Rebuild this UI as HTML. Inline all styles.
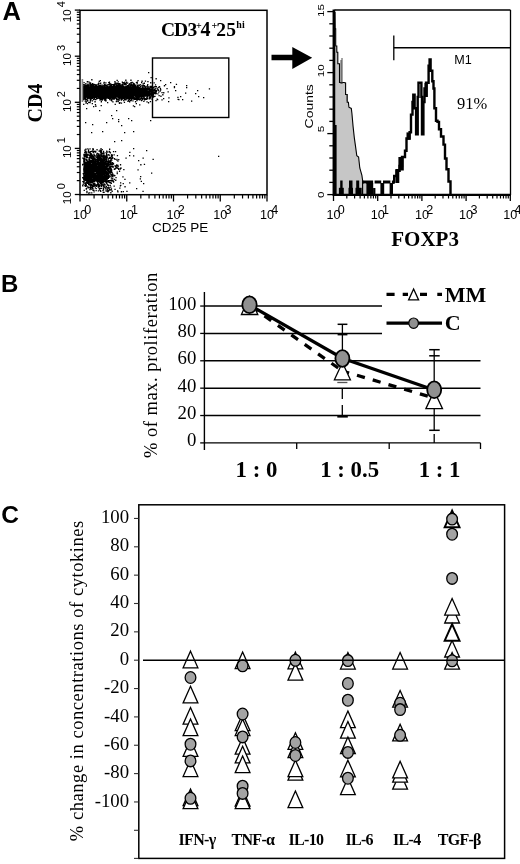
<!DOCTYPE html>
<html><head><meta charset="utf-8"><style>
html,body{margin:0;padding:0;background:#fff;}
svg{display:block;will-change:transform;}
</style></head><body>
<svg width="520" height="864" viewBox="0 0 520 864">
<rect width="520" height="864" fill="#fff"/>
<text x="2.5" y="19.6" font-family='"Liberation Sans", sans-serif' font-size="25.5" font-weight="bold" text-anchor="start" >A</text>
<text x="1.0" y="292.3" font-family='"Liberation Sans", sans-serif' font-size="24" font-weight="bold" text-anchor="start" >B</text>
<text x="1.2" y="522.6" font-family='"Liberation Sans", sans-serif' font-size="24.5" font-weight="bold" text-anchor="start" >C</text>
<path d="M104.9 98.0h1.3v1.3h-1.3zM98.4 91.8h1.3v1.3h-1.3zM102.3 93.0h1.3v1.3h-1.3zM90.9 95.7h1.3v1.3h-1.3zM88.8 87.2h1.3v1.3h-1.3zM91.6 93.3h1.3v1.3h-1.3zM112.4 85.9h1.3v1.3h-1.3zM87.0 98.5h1.3v1.3h-1.3zM135.8 87.8h1.3v1.3h-1.3zM90.1 93.6h1.3v1.3h-1.3zM121.5 92.6h1.3v1.3h-1.3zM83.3 94.4h1.3v1.3h-1.3zM100.7 101.1h1.3v1.3h-1.3zM122.9 89.4h1.3v1.3h-1.3zM82.2 98.1h1.3v1.3h-1.3zM124.4 88.8h1.3v1.3h-1.3zM91.8 94.4h1.3v1.3h-1.3zM130.7 93.5h1.3v1.3h-1.3zM113.8 91.2h1.3v1.3h-1.3zM110.8 88.8h1.3v1.3h-1.3zM121.0 94.3h1.3v1.3h-1.3zM94.8 85.7h1.3v1.3h-1.3zM130.0 92.7h1.3v1.3h-1.3zM112.5 97.6h1.3v1.3h-1.3zM92.2 87.8h1.3v1.3h-1.3zM134.7 89.1h1.3v1.3h-1.3zM84.3 96.6h1.3v1.3h-1.3zM127.8 100.1h1.3v1.3h-1.3zM90.3 92.0h1.3v1.3h-1.3zM90.6 95.8h1.3v1.3h-1.3zM99.8 96.7h1.3v1.3h-1.3zM86.3 93.1h1.3v1.3h-1.3zM136.7 96.9h1.3v1.3h-1.3zM124.5 88.4h1.3v1.3h-1.3zM102.2 88.8h1.3v1.3h-1.3zM108.4 86.0h1.3v1.3h-1.3zM85.4 89.2h1.3v1.3h-1.3zM115.6 89.2h1.3v1.3h-1.3zM105.1 93.7h1.3v1.3h-1.3zM124.3 90.7h1.3v1.3h-1.3zM120.4 90.0h1.3v1.3h-1.3zM91.1 90.9h1.3v1.3h-1.3zM135.2 91.7h1.3v1.3h-1.3zM97.9 93.5h1.3v1.3h-1.3zM111.5 91.1h1.3v1.3h-1.3zM82.2 91.4h1.3v1.3h-1.3zM109.3 93.3h1.3v1.3h-1.3zM125.9 95.9h1.3v1.3h-1.3zM87.3 87.8h1.3v1.3h-1.3zM125.5 91.3h1.3v1.3h-1.3zM134.5 89.1h1.3v1.3h-1.3zM130.3 92.7h1.3v1.3h-1.3zM83.5 89.7h1.3v1.3h-1.3zM91.8 94.5h1.3v1.3h-1.3zM119.4 88.7h1.3v1.3h-1.3zM104.7 91.1h1.3v1.3h-1.3zM120.1 90.8h1.3v1.3h-1.3zM107.3 92.6h1.3v1.3h-1.3zM92.7 89.7h1.3v1.3h-1.3zM89.4 89.8h1.3v1.3h-1.3zM131.2 90.0h1.3v1.3h-1.3zM111.6 94.0h1.3v1.3h-1.3zM120.1 88.4h1.3v1.3h-1.3zM96.3 85.8h1.3v1.3h-1.3zM105.5 88.6h1.3v1.3h-1.3zM113.6 94.6h1.3v1.3h-1.3zM116.6 94.5h1.3v1.3h-1.3zM121.0 92.8h1.3v1.3h-1.3zM83.9 91.3h1.3v1.3h-1.3zM104.1 86.0h1.3v1.3h-1.3zM106.7 90.9h1.3v1.3h-1.3zM108.4 97.2h1.3v1.3h-1.3zM96.6 94.6h1.3v1.3h-1.3zM132.7 92.0h1.3v1.3h-1.3zM119.2 85.6h1.3v1.3h-1.3zM83.7 85.5h1.3v1.3h-1.3zM115.1 92.8h1.3v1.3h-1.3zM92.0 94.7h1.3v1.3h-1.3zM101.2 96.0h1.3v1.3h-1.3zM128.5 88.1h1.3v1.3h-1.3zM86.2 89.4h1.3v1.3h-1.3zM84.2 97.3h1.3v1.3h-1.3zM92.4 97.1h1.3v1.3h-1.3zM94.8 94.6h1.3v1.3h-1.3zM105.3 93.1h1.3v1.3h-1.3zM110.3 91.6h1.3v1.3h-1.3zM125.5 89.7h1.3v1.3h-1.3zM84.2 94.0h1.3v1.3h-1.3zM87.5 92.8h1.3v1.3h-1.3zM113.3 93.3h1.3v1.3h-1.3zM101.7 94.3h1.3v1.3h-1.3zM129.1 91.0h1.3v1.3h-1.3zM87.0 87.0h1.3v1.3h-1.3zM118.2 90.6h1.3v1.3h-1.3zM104.6 85.3h1.3v1.3h-1.3zM90.3 90.5h1.3v1.3h-1.3zM111.2 86.1h1.3v1.3h-1.3zM91.0 88.1h1.3v1.3h-1.3zM104.8 96.6h1.3v1.3h-1.3zM129.7 92.2h1.3v1.3h-1.3zM101.4 93.5h1.3v1.3h-1.3zM82.9 86.6h1.3v1.3h-1.3zM107.9 94.4h1.3v1.3h-1.3zM126.0 92.3h1.3v1.3h-1.3zM88.9 90.3h1.3v1.3h-1.3zM88.0 90.9h1.3v1.3h-1.3zM134.4 93.2h1.3v1.3h-1.3zM133.7 92.7h1.3v1.3h-1.3zM99.0 91.7h1.3v1.3h-1.3zM109.5 93.0h1.3v1.3h-1.3zM85.2 91.9h1.3v1.3h-1.3zM123.0 93.9h1.3v1.3h-1.3zM90.9 89.2h1.3v1.3h-1.3zM136.7 90.0h1.3v1.3h-1.3zM136.5 98.2h1.3v1.3h-1.3zM112.5 87.9h1.3v1.3h-1.3zM133.2 90.1h1.3v1.3h-1.3zM122.3 89.8h1.3v1.3h-1.3zM128.7 93.7h1.3v1.3h-1.3zM125.1 91.6h1.3v1.3h-1.3zM124.2 89.7h1.3v1.3h-1.3zM96.6 90.7h1.3v1.3h-1.3zM95.0 93.9h1.3v1.3h-1.3zM102.4 91.1h1.3v1.3h-1.3zM119.9 89.0h1.3v1.3h-1.3zM117.8 87.5h1.3v1.3h-1.3zM129.6 92.9h1.3v1.3h-1.3zM83.7 90.5h1.3v1.3h-1.3zM132.2 94.3h1.3v1.3h-1.3zM104.0 89.6h1.3v1.3h-1.3zM119.7 89.9h1.3v1.3h-1.3zM95.7 92.2h1.3v1.3h-1.3zM98.7 89.4h1.3v1.3h-1.3zM122.1 90.5h1.3v1.3h-1.3zM135.3 87.9h1.3v1.3h-1.3zM117.0 94.5h1.3v1.3h-1.3zM125.9 88.5h1.3v1.3h-1.3zM121.6 88.3h1.3v1.3h-1.3zM83.3 98.5h1.3v1.3h-1.3zM120.2 88.6h1.3v1.3h-1.3zM93.1 90.8h1.3v1.3h-1.3zM103.9 90.8h1.3v1.3h-1.3zM93.8 88.9h1.3v1.3h-1.3zM87.1 90.4h1.3v1.3h-1.3zM125.7 91.4h1.3v1.3h-1.3zM82.9 95.9h1.3v1.3h-1.3zM113.0 92.9h1.3v1.3h-1.3zM100.1 85.4h1.3v1.3h-1.3zM89.1 89.1h1.3v1.3h-1.3zM97.7 89.5h1.3v1.3h-1.3zM93.6 87.2h1.3v1.3h-1.3zM104.1 94.7h1.3v1.3h-1.3zM117.6 90.5h1.3v1.3h-1.3zM113.4 85.0h1.3v1.3h-1.3zM136.5 87.0h1.3v1.3h-1.3zM118.2 91.3h1.3v1.3h-1.3zM135.4 89.0h1.3v1.3h-1.3zM90.7 83.8h1.3v1.3h-1.3zM105.2 89.7h1.3v1.3h-1.3zM127.7 85.9h1.3v1.3h-1.3zM96.6 90.0h1.3v1.3h-1.3zM103.6 94.8h1.3v1.3h-1.3zM87.1 87.5h1.3v1.3h-1.3zM122.7 94.7h1.3v1.3h-1.3zM94.6 87.1h1.3v1.3h-1.3zM90.6 87.3h1.3v1.3h-1.3zM82.8 94.3h1.3v1.3h-1.3zM132.2 95.9h1.3v1.3h-1.3zM103.3 89.5h1.3v1.3h-1.3zM99.4 96.0h1.3v1.3h-1.3zM84.2 91.5h1.3v1.3h-1.3zM107.2 96.2h1.3v1.3h-1.3zM101.1 89.9h1.3v1.3h-1.3zM124.2 92.6h1.3v1.3h-1.3zM102.6 89.7h1.3v1.3h-1.3zM131.5 87.1h1.3v1.3h-1.3zM125.8 94.0h1.3v1.3h-1.3zM82.6 94.3h1.3v1.3h-1.3zM123.5 92.6h1.3v1.3h-1.3zM94.4 101.1h1.3v1.3h-1.3zM110.0 84.8h1.3v1.3h-1.3zM114.7 91.8h1.3v1.3h-1.3zM130.5 90.7h1.3v1.3h-1.3zM92.2 92.9h1.3v1.3h-1.3zM84.5 90.0h1.3v1.3h-1.3zM123.5 86.2h1.3v1.3h-1.3zM124.9 92.3h1.3v1.3h-1.3zM118.2 92.3h1.3v1.3h-1.3zM82.1 88.9h1.3v1.3h-1.3zM117.9 95.4h1.3v1.3h-1.3zM115.9 100.5h1.3v1.3h-1.3zM99.1 88.4h1.3v1.3h-1.3zM99.3 93.2h1.3v1.3h-1.3zM106.1 91.6h1.3v1.3h-1.3zM117.3 91.5h1.3v1.3h-1.3zM119.7 93.0h1.3v1.3h-1.3zM119.0 89.4h1.3v1.3h-1.3zM92.8 91.4h1.3v1.3h-1.3zM96.7 96.3h1.3v1.3h-1.3zM84.6 84.9h1.3v1.3h-1.3zM133.5 96.8h1.3v1.3h-1.3zM94.8 88.1h1.3v1.3h-1.3zM135.2 92.1h1.3v1.3h-1.3zM84.0 89.6h1.3v1.3h-1.3zM102.8 90.7h1.3v1.3h-1.3zM134.5 91.0h1.3v1.3h-1.3zM119.0 87.3h1.3v1.3h-1.3zM87.8 91.0h1.3v1.3h-1.3zM123.1 91.4h1.3v1.3h-1.3zM126.4 90.6h1.3v1.3h-1.3zM101.5 94.4h1.3v1.3h-1.3zM93.7 90.1h1.3v1.3h-1.3zM92.8 90.7h1.3v1.3h-1.3zM90.9 92.6h1.3v1.3h-1.3zM108.0 87.1h1.3v1.3h-1.3zM89.3 89.9h1.3v1.3h-1.3zM83.4 96.0h1.3v1.3h-1.3zM89.5 97.5h1.3v1.3h-1.3zM119.6 86.9h1.3v1.3h-1.3zM133.5 89.8h1.3v1.3h-1.3zM96.1 90.1h1.3v1.3h-1.3zM102.3 87.3h1.3v1.3h-1.3zM104.1 91.9h1.3v1.3h-1.3zM132.7 93.0h1.3v1.3h-1.3zM117.2 94.5h1.3v1.3h-1.3zM92.2 97.0h1.3v1.3h-1.3zM118.4 86.0h1.3v1.3h-1.3zM104.7 88.1h1.3v1.3h-1.3zM134.5 90.7h1.3v1.3h-1.3zM88.7 87.6h1.3v1.3h-1.3zM96.2 94.3h1.3v1.3h-1.3zM126.3 94.6h1.3v1.3h-1.3zM122.8 89.0h1.3v1.3h-1.3zM97.3 88.6h1.3v1.3h-1.3zM126.2 88.9h1.3v1.3h-1.3zM112.7 86.8h1.3v1.3h-1.3zM125.5 89.0h1.3v1.3h-1.3zM102.5 89.9h1.3v1.3h-1.3zM99.0 89.4h1.3v1.3h-1.3zM121.1 98.7h1.3v1.3h-1.3zM115.7 87.5h1.3v1.3h-1.3zM87.8 92.6h1.3v1.3h-1.3zM108.1 88.6h1.3v1.3h-1.3zM109.9 89.7h1.3v1.3h-1.3zM137.0 92.6h1.3v1.3h-1.3zM134.0 90.7h1.3v1.3h-1.3zM125.7 93.8h1.3v1.3h-1.3zM93.5 85.5h1.3v1.3h-1.3zM89.3 87.2h1.3v1.3h-1.3zM87.6 86.2h1.3v1.3h-1.3zM82.8 98.8h1.3v1.3h-1.3zM96.4 88.9h1.3v1.3h-1.3zM127.6 89.4h1.3v1.3h-1.3zM82.7 97.9h1.3v1.3h-1.3zM115.5 92.2h1.3v1.3h-1.3zM83.4 96.4h1.3v1.3h-1.3zM117.6 94.5h1.3v1.3h-1.3zM85.8 93.7h1.3v1.3h-1.3zM103.1 93.2h1.3v1.3h-1.3zM107.8 94.0h1.3v1.3h-1.3zM118.3 88.5h1.3v1.3h-1.3zM128.9 88.2h1.3v1.3h-1.3zM104.6 94.7h1.3v1.3h-1.3zM101.6 95.6h1.3v1.3h-1.3zM133.4 90.9h1.3v1.3h-1.3zM100.9 91.8h1.3v1.3h-1.3zM134.8 84.9h1.3v1.3h-1.3zM102.2 92.3h1.3v1.3h-1.3zM115.5 93.5h1.3v1.3h-1.3zM87.7 92.5h1.3v1.3h-1.3zM104.1 89.4h1.3v1.3h-1.3zM117.7 95.5h1.3v1.3h-1.3zM95.2 91.3h1.3v1.3h-1.3zM88.7 92.2h1.3v1.3h-1.3zM103.0 93.2h1.3v1.3h-1.3zM104.4 90.0h1.3v1.3h-1.3zM82.7 88.3h1.3v1.3h-1.3zM100.2 89.4h1.3v1.3h-1.3zM103.4 90.9h1.3v1.3h-1.3zM92.2 95.0h1.3v1.3h-1.3zM121.2 98.5h1.3v1.3h-1.3zM102.2 88.2h1.3v1.3h-1.3zM82.6 91.9h1.3v1.3h-1.3zM112.0 87.5h1.3v1.3h-1.3zM118.1 93.0h1.3v1.3h-1.3zM105.9 87.4h1.3v1.3h-1.3zM89.2 93.5h1.3v1.3h-1.3zM90.5 92.0h1.3v1.3h-1.3zM133.7 90.6h1.3v1.3h-1.3zM99.5 91.1h1.3v1.3h-1.3zM104.7 93.3h1.3v1.3h-1.3zM112.1 88.2h1.3v1.3h-1.3zM96.5 90.8h1.3v1.3h-1.3zM125.1 92.7h1.3v1.3h-1.3zM108.9 90.9h1.3v1.3h-1.3zM86.9 86.8h1.3v1.3h-1.3zM96.8 88.8h1.3v1.3h-1.3zM101.1 97.0h1.3v1.3h-1.3zM135.1 93.0h1.3v1.3h-1.3zM111.2 86.2h1.3v1.3h-1.3zM120.1 90.5h1.3v1.3h-1.3zM129.2 92.8h1.3v1.3h-1.3zM107.3 97.0h1.3v1.3h-1.3zM113.6 89.9h1.3v1.3h-1.3zM105.5 90.4h1.3v1.3h-1.3zM101.4 89.0h1.3v1.3h-1.3zM99.6 95.0h1.3v1.3h-1.3zM87.3 83.5h1.3v1.3h-1.3zM83.3 88.2h1.3v1.3h-1.3zM106.1 95.7h1.3v1.3h-1.3zM123.8 96.6h1.3v1.3h-1.3zM118.6 90.4h1.3v1.3h-1.3zM89.9 87.1h1.3v1.3h-1.3zM92.7 88.9h1.3v1.3h-1.3zM83.4 86.5h1.3v1.3h-1.3zM117.6 81.3h1.3v1.3h-1.3zM93.0 93.5h1.3v1.3h-1.3zM100.8 89.1h1.3v1.3h-1.3zM126.7 93.6h1.3v1.3h-1.3zM130.7 83.5h1.3v1.3h-1.3zM82.1 92.0h1.3v1.3h-1.3zM94.7 96.1h1.3v1.3h-1.3zM128.8 90.9h1.3v1.3h-1.3zM133.9 85.5h1.3v1.3h-1.3zM120.9 95.3h1.3v1.3h-1.3zM89.5 90.5h1.3v1.3h-1.3zM110.4 96.0h1.3v1.3h-1.3zM99.7 89.8h1.3v1.3h-1.3zM87.4 92.6h1.3v1.3h-1.3zM121.1 92.8h1.3v1.3h-1.3zM100.1 82.5h1.3v1.3h-1.3zM100.3 95.3h1.3v1.3h-1.3zM117.9 89.4h1.3v1.3h-1.3zM105.5 94.2h1.3v1.3h-1.3zM106.5 95.2h1.3v1.3h-1.3zM112.6 94.8h1.3v1.3h-1.3zM88.1 101.7h1.3v1.3h-1.3zM97.1 89.7h1.3v1.3h-1.3zM100.7 92.2h1.3v1.3h-1.3zM113.2 87.3h1.3v1.3h-1.3zM124.0 91.4h1.3v1.3h-1.3zM108.8 88.6h1.3v1.3h-1.3zM126.6 96.7h1.3v1.3h-1.3zM126.0 86.6h1.3v1.3h-1.3zM118.2 94.7h1.3v1.3h-1.3zM121.0 92.0h1.3v1.3h-1.3zM95.4 95.8h1.3v1.3h-1.3zM124.3 93.2h1.3v1.3h-1.3zM136.8 90.9h1.3v1.3h-1.3zM83.8 87.6h1.3v1.3h-1.3zM119.4 94.7h1.3v1.3h-1.3zM112.9 88.7h1.3v1.3h-1.3zM87.1 89.4h1.3v1.3h-1.3zM126.2 95.7h1.3v1.3h-1.3zM99.9 93.7h1.3v1.3h-1.3zM112.5 87.3h1.3v1.3h-1.3zM93.1 90.7h1.3v1.3h-1.3zM105.1 89.6h1.3v1.3h-1.3zM130.8 97.2h1.3v1.3h-1.3zM92.7 85.1h1.3v1.3h-1.3zM131.7 89.3h1.3v1.3h-1.3zM131.3 91.8h1.3v1.3h-1.3zM134.3 94.7h1.3v1.3h-1.3zM94.4 90.8h1.3v1.3h-1.3zM132.9 89.5h1.3v1.3h-1.3zM122.1 83.5h1.3v1.3h-1.3zM136.2 90.6h1.3v1.3h-1.3zM132.8 84.9h1.3v1.3h-1.3zM105.6 94.6h1.3v1.3h-1.3zM134.9 89.6h1.3v1.3h-1.3zM111.8 91.1h1.3v1.3h-1.3zM100.7 91.0h1.3v1.3h-1.3zM97.1 94.5h1.3v1.3h-1.3zM96.1 91.6h1.3v1.3h-1.3zM88.0 91.2h1.3v1.3h-1.3zM93.9 98.4h1.3v1.3h-1.3zM120.5 91.9h1.3v1.3h-1.3zM121.1 91.4h1.3v1.3h-1.3zM89.4 92.6h1.3v1.3h-1.3zM132.5 94.2h1.3v1.3h-1.3zM130.2 96.7h1.3v1.3h-1.3zM86.7 94.8h1.3v1.3h-1.3zM101.7 98.7h1.3v1.3h-1.3zM88.0 91.4h1.3v1.3h-1.3zM113.2 86.7h1.3v1.3h-1.3zM129.2 93.9h1.3v1.3h-1.3zM112.7 98.3h1.3v1.3h-1.3zM91.0 88.3h1.3v1.3h-1.3zM85.1 92.8h1.3v1.3h-1.3zM120.2 95.4h1.3v1.3h-1.3zM129.0 90.8h1.3v1.3h-1.3zM115.1 86.3h1.3v1.3h-1.3zM118.0 87.2h1.3v1.3h-1.3zM128.0 94.5h1.3v1.3h-1.3zM129.1 90.4h1.3v1.3h-1.3zM86.0 86.2h1.3v1.3h-1.3zM100.0 88.5h1.3v1.3h-1.3zM92.9 92.2h1.3v1.3h-1.3zM102.6 92.8h1.3v1.3h-1.3zM133.5 89.0h1.3v1.3h-1.3zM82.3 86.4h1.3v1.3h-1.3zM123.5 94.1h1.3v1.3h-1.3zM82.7 92.4h1.3v1.3h-1.3zM113.1 92.3h1.3v1.3h-1.3zM87.2 89.1h1.3v1.3h-1.3zM87.6 93.2h1.3v1.3h-1.3zM102.6 87.1h1.3v1.3h-1.3zM101.0 93.2h1.3v1.3h-1.3zM85.8 88.8h1.3v1.3h-1.3zM82.2 96.2h1.3v1.3h-1.3zM110.7 98.4h1.3v1.3h-1.3zM92.8 92.3h1.3v1.3h-1.3zM111.3 95.2h1.3v1.3h-1.3zM125.6 93.8h1.3v1.3h-1.3zM132.3 93.3h1.3v1.3h-1.3zM82.4 84.1h1.3v1.3h-1.3zM126.3 98.2h1.3v1.3h-1.3zM136.8 93.6h1.3v1.3h-1.3zM121.5 86.9h1.3v1.3h-1.3zM86.8 87.8h1.3v1.3h-1.3zM129.5 93.6h1.3v1.3h-1.3zM96.9 92.8h1.3v1.3h-1.3zM119.8 88.6h1.3v1.3h-1.3zM109.6 93.6h1.3v1.3h-1.3zM123.4 95.1h1.3v1.3h-1.3zM97.6 85.6h1.3v1.3h-1.3zM84.9 92.9h1.3v1.3h-1.3zM123.0 92.4h1.3v1.3h-1.3zM86.6 91.4h1.3v1.3h-1.3zM119.8 91.2h1.3v1.3h-1.3zM95.6 87.7h1.3v1.3h-1.3zM118.0 86.7h1.3v1.3h-1.3zM86.1 94.9h1.3v1.3h-1.3zM131.9 91.9h1.3v1.3h-1.3zM107.5 91.1h1.3v1.3h-1.3zM127.1 95.4h1.3v1.3h-1.3zM93.4 97.1h1.3v1.3h-1.3zM105.3 97.0h1.3v1.3h-1.3zM106.4 90.4h1.3v1.3h-1.3zM129.4 93.9h1.3v1.3h-1.3zM126.1 91.3h1.3v1.3h-1.3zM132.5 97.1h1.3v1.3h-1.3zM105.0 92.9h1.3v1.3h-1.3zM128.1 91.2h1.3v1.3h-1.3zM128.8 91.4h1.3v1.3h-1.3zM97.0 94.3h1.3v1.3h-1.3zM89.5 93.5h1.3v1.3h-1.3zM125.3 86.3h1.3v1.3h-1.3zM117.3 91.3h1.3v1.3h-1.3zM96.2 92.9h1.3v1.3h-1.3zM125.4 95.8h1.3v1.3h-1.3zM99.7 91.9h1.3v1.3h-1.3zM97.9 89.0h1.3v1.3h-1.3zM91.3 95.5h1.3v1.3h-1.3zM90.7 94.9h1.3v1.3h-1.3zM101.8 86.6h1.3v1.3h-1.3zM95.7 84.3h1.3v1.3h-1.3zM125.3 87.2h1.3v1.3h-1.3zM106.4 89.2h1.3v1.3h-1.3zM121.0 88.9h1.3v1.3h-1.3zM110.5 96.6h1.3v1.3h-1.3zM129.9 92.3h1.3v1.3h-1.3zM108.7 93.0h1.3v1.3h-1.3zM92.6 93.9h1.3v1.3h-1.3zM128.2 91.1h1.3v1.3h-1.3zM98.6 88.4h1.3v1.3h-1.3zM88.9 82.4h1.3v1.3h-1.3zM123.6 95.0h1.3v1.3h-1.3zM133.5 98.6h1.3v1.3h-1.3zM132.2 95.0h1.3v1.3h-1.3zM126.6 96.4h1.3v1.3h-1.3zM135.8 96.6h1.3v1.3h-1.3zM122.7 88.2h1.3v1.3h-1.3zM130.3 91.1h1.3v1.3h-1.3zM114.9 90.7h1.3v1.3h-1.3zM83.0 92.7h1.3v1.3h-1.3zM120.6 90.9h1.3v1.3h-1.3zM98.9 93.2h1.3v1.3h-1.3zM107.4 93.7h1.3v1.3h-1.3zM89.1 88.1h1.3v1.3h-1.3zM127.6 89.4h1.3v1.3h-1.3zM131.4 87.4h1.3v1.3h-1.3zM104.3 90.5h1.3v1.3h-1.3zM120.3 92.2h1.3v1.3h-1.3zM116.2 91.8h1.3v1.3h-1.3zM104.7 91.3h1.3v1.3h-1.3zM106.1 90.5h1.3v1.3h-1.3zM126.8 91.9h1.3v1.3h-1.3zM84.4 89.4h1.3v1.3h-1.3zM105.4 89.0h1.3v1.3h-1.3zM128.1 92.6h1.3v1.3h-1.3zM96.7 95.5h1.3v1.3h-1.3zM115.6 86.3h1.3v1.3h-1.3zM87.3 90.0h1.3v1.3h-1.3zM116.8 90.7h1.3v1.3h-1.3zM135.3 90.3h1.3v1.3h-1.3zM128.8 93.1h1.3v1.3h-1.3zM109.5 85.4h1.3v1.3h-1.3zM132.3 94.7h1.3v1.3h-1.3zM135.7 96.2h1.3v1.3h-1.3zM85.5 85.7h1.3v1.3h-1.3zM89.8 83.7h1.3v1.3h-1.3zM112.8 93.6h1.3v1.3h-1.3zM93.6 89.7h1.3v1.3h-1.3zM121.5 93.7h1.3v1.3h-1.3zM117.9 83.3h1.3v1.3h-1.3zM85.0 92.7h1.3v1.3h-1.3zM113.0 88.8h1.3v1.3h-1.3zM121.6 95.9h1.3v1.3h-1.3zM90.0 90.8h1.3v1.3h-1.3zM110.1 85.8h1.3v1.3h-1.3zM92.5 89.4h1.3v1.3h-1.3zM112.3 101.2h1.3v1.3h-1.3zM83.2 94.6h1.3v1.3h-1.3zM111.8 92.7h1.3v1.3h-1.3zM104.1 93.9h1.3v1.3h-1.3zM95.9 91.2h1.3v1.3h-1.3zM109.5 94.4h1.3v1.3h-1.3zM134.6 92.0h1.3v1.3h-1.3zM84.4 93.5h1.3v1.3h-1.3zM132.4 92.8h1.3v1.3h-1.3zM90.2 84.9h1.3v1.3h-1.3zM106.3 89.3h1.3v1.3h-1.3zM122.3 87.6h1.3v1.3h-1.3zM92.7 95.3h1.3v1.3h-1.3zM115.7 88.7h1.3v1.3h-1.3zM114.2 90.9h1.3v1.3h-1.3zM91.0 91.6h1.3v1.3h-1.3zM108.5 95.6h1.3v1.3h-1.3zM92.5 93.7h1.3v1.3h-1.3zM119.7 87.1h1.3v1.3h-1.3zM96.4 94.3h1.3v1.3h-1.3zM88.9 88.0h1.3v1.3h-1.3zM93.6 85.7h1.3v1.3h-1.3zM84.0 95.4h1.3v1.3h-1.3zM124.2 87.0h1.3v1.3h-1.3zM125.5 83.8h1.3v1.3h-1.3zM126.4 95.7h1.3v1.3h-1.3zM123.6 98.6h1.3v1.3h-1.3zM113.1 88.6h1.3v1.3h-1.3zM85.1 87.9h1.3v1.3h-1.3zM82.9 89.2h1.3v1.3h-1.3zM99.3 93.5h1.3v1.3h-1.3zM133.2 86.9h1.3v1.3h-1.3zM123.6 93.6h1.3v1.3h-1.3zM84.6 96.6h1.3v1.3h-1.3zM129.8 88.8h1.3v1.3h-1.3zM84.6 100.5h1.3v1.3h-1.3zM122.8 97.1h1.3v1.3h-1.3zM127.0 95.6h1.3v1.3h-1.3zM110.2 89.1h1.3v1.3h-1.3zM102.0 90.4h1.3v1.3h-1.3zM90.2 89.9h1.3v1.3h-1.3zM116.9 92.6h1.3v1.3h-1.3zM109.1 89.4h1.3v1.3h-1.3zM134.4 94.0h1.3v1.3h-1.3zM134.1 94.7h1.3v1.3h-1.3zM86.5 91.0h1.3v1.3h-1.3zM91.0 93.5h1.3v1.3h-1.3zM90.1 88.9h1.3v1.3h-1.3zM134.6 92.2h1.3v1.3h-1.3zM104.7 95.9h1.3v1.3h-1.3zM89.6 87.1h1.3v1.3h-1.3zM111.9 95.9h1.3v1.3h-1.3zM129.2 93.1h1.3v1.3h-1.3zM105.8 91.6h1.3v1.3h-1.3zM117.3 89.0h1.3v1.3h-1.3zM126.8 92.9h1.3v1.3h-1.3zM128.9 90.3h1.3v1.3h-1.3zM122.7 89.9h1.3v1.3h-1.3zM115.4 90.8h1.3v1.3h-1.3zM113.0 85.6h1.3v1.3h-1.3zM103.1 95.6h1.3v1.3h-1.3zM134.3 84.5h1.3v1.3h-1.3zM98.7 92.0h1.3v1.3h-1.3zM119.4 93.7h1.3v1.3h-1.3zM135.0 91.7h1.3v1.3h-1.3zM112.0 95.3h1.3v1.3h-1.3zM104.9 88.1h1.3v1.3h-1.3zM114.3 90.4h1.3v1.3h-1.3zM135.8 92.2h1.3v1.3h-1.3zM105.2 82.3h1.3v1.3h-1.3zM90.2 92.2h1.3v1.3h-1.3zM124.3 93.9h1.3v1.3h-1.3zM94.3 83.9h1.3v1.3h-1.3zM105.2 88.3h1.3v1.3h-1.3zM95.0 98.9h1.3v1.3h-1.3zM85.7 85.0h1.3v1.3h-1.3zM127.2 94.3h1.3v1.3h-1.3zM101.7 90.9h1.3v1.3h-1.3zM92.5 92.7h1.3v1.3h-1.3zM106.3 97.4h1.3v1.3h-1.3zM99.0 86.3h1.3v1.3h-1.3zM136.8 97.2h1.3v1.3h-1.3zM99.6 91.1h1.3v1.3h-1.3zM125.1 94.2h1.3v1.3h-1.3zM132.0 92.0h1.3v1.3h-1.3zM100.3 93.0h1.3v1.3h-1.3zM127.7 96.4h1.3v1.3h-1.3zM105.1 84.3h1.3v1.3h-1.3zM84.4 97.6h1.3v1.3h-1.3zM102.6 93.2h1.3v1.3h-1.3zM91.4 91.1h1.3v1.3h-1.3zM132.4 93.0h1.3v1.3h-1.3zM105.7 89.0h1.3v1.3h-1.3zM110.7 91.3h1.3v1.3h-1.3zM96.0 98.0h1.3v1.3h-1.3zM121.5 88.7h1.3v1.3h-1.3zM113.0 91.2h1.3v1.3h-1.3zM101.9 89.9h1.3v1.3h-1.3zM130.5 92.2h1.3v1.3h-1.3zM103.1 88.4h1.3v1.3h-1.3zM89.7 100.1h1.3v1.3h-1.3zM92.1 91.4h1.3v1.3h-1.3zM126.1 93.1h1.3v1.3h-1.3zM111.9 94.9h1.3v1.3h-1.3zM92.2 91.0h1.3v1.3h-1.3zM82.2 93.3h1.3v1.3h-1.3zM102.2 92.7h1.3v1.3h-1.3zM105.8 89.3h1.3v1.3h-1.3zM103.6 88.9h1.3v1.3h-1.3zM84.6 91.2h1.3v1.3h-1.3zM100.2 96.0h1.3v1.3h-1.3zM106.9 90.8h1.3v1.3h-1.3zM98.2 91.0h1.3v1.3h-1.3zM115.8 89.4h1.3v1.3h-1.3zM109.5 95.2h1.3v1.3h-1.3zM100.6 93.1h1.3v1.3h-1.3zM82.6 89.1h1.3v1.3h-1.3zM87.9 92.1h1.3v1.3h-1.3zM119.8 88.1h1.3v1.3h-1.3zM120.7 90.2h1.3v1.3h-1.3zM130.2 88.5h1.3v1.3h-1.3zM131.0 94.6h1.3v1.3h-1.3zM96.7 87.5h1.3v1.3h-1.3zM101.8 92.6h1.3v1.3h-1.3zM112.8 93.1h1.3v1.3h-1.3zM104.7 84.4h1.3v1.3h-1.3zM97.6 92.0h1.3v1.3h-1.3zM97.1 85.9h1.3v1.3h-1.3zM106.4 91.5h1.3v1.3h-1.3zM93.5 95.7h1.3v1.3h-1.3zM85.9 91.3h1.3v1.3h-1.3zM98.5 92.9h1.3v1.3h-1.3zM100.1 88.4h1.3v1.3h-1.3zM124.0 99.0h1.3v1.3h-1.3zM96.4 94.8h1.3v1.3h-1.3zM82.8 89.1h1.3v1.3h-1.3zM107.8 93.9h1.3v1.3h-1.3zM134.9 92.8h1.3v1.3h-1.3zM111.2 95.2h1.3v1.3h-1.3zM100.3 91.0h1.3v1.3h-1.3zM94.6 91.5h1.3v1.3h-1.3zM114.5 97.5h1.3v1.3h-1.3zM129.4 84.3h1.3v1.3h-1.3zM131.5 92.3h1.3v1.3h-1.3zM86.1 90.7h1.3v1.3h-1.3zM101.4 90.2h1.3v1.3h-1.3zM89.0 90.2h1.3v1.3h-1.3zM86.8 90.0h1.3v1.3h-1.3zM122.5 88.4h1.3v1.3h-1.3zM132.0 85.2h1.3v1.3h-1.3zM121.2 92.8h1.3v1.3h-1.3zM107.2 88.8h1.3v1.3h-1.3zM112.0 88.2h1.3v1.3h-1.3zM108.5 93.8h1.3v1.3h-1.3zM110.5 93.4h1.3v1.3h-1.3zM124.4 91.9h1.3v1.3h-1.3zM129.6 91.9h1.3v1.3h-1.3zM94.9 93.1h1.3v1.3h-1.3zM130.3 82.1h1.3v1.3h-1.3zM109.3 94.8h1.3v1.3h-1.3zM88.4 91.6h1.3v1.3h-1.3zM120.3 89.6h1.3v1.3h-1.3zM136.8 91.2h1.3v1.3h-1.3zM105.4 84.9h1.3v1.3h-1.3zM85.4 92.5h1.3v1.3h-1.3zM125.4 98.3h1.3v1.3h-1.3zM113.6 92.6h1.3v1.3h-1.3zM127.0 95.3h1.3v1.3h-1.3zM88.0 92.6h1.3v1.3h-1.3zM121.7 90.6h1.3v1.3h-1.3zM83.0 93.3h1.3v1.3h-1.3zM112.3 89.0h1.3v1.3h-1.3zM84.4 85.3h1.3v1.3h-1.3zM98.6 80.8h1.3v1.3h-1.3zM128.1 92.0h1.3v1.3h-1.3zM118.7 92.2h1.3v1.3h-1.3zM96.9 91.1h1.3v1.3h-1.3zM89.3 90.1h1.3v1.3h-1.3zM99.4 88.8h1.3v1.3h-1.3zM89.0 91.1h1.3v1.3h-1.3zM88.1 90.5h1.3v1.3h-1.3zM111.8 92.3h1.3v1.3h-1.3zM83.6 88.3h1.3v1.3h-1.3zM84.2 91.0h1.3v1.3h-1.3zM83.2 86.5h1.3v1.3h-1.3zM91.9 88.6h1.3v1.3h-1.3zM113.4 94.8h1.3v1.3h-1.3zM126.9 93.4h1.3v1.3h-1.3zM92.4 83.9h1.3v1.3h-1.3zM96.7 93.1h1.3v1.3h-1.3zM125.0 93.9h1.3v1.3h-1.3zM124.7 92.7h1.3v1.3h-1.3zM129.7 90.5h1.3v1.3h-1.3zM100.2 94.9h1.3v1.3h-1.3zM92.6 88.1h1.3v1.3h-1.3zM113.6 97.4h1.3v1.3h-1.3zM128.4 86.6h1.3v1.3h-1.3zM112.5 89.1h1.3v1.3h-1.3zM93.7 88.1h1.3v1.3h-1.3zM94.6 91.6h1.3v1.3h-1.3zM99.4 99.4h1.3v1.3h-1.3zM135.2 87.0h1.3v1.3h-1.3zM112.0 90.9h1.3v1.3h-1.3zM98.3 94.7h1.3v1.3h-1.3zM134.9 95.5h1.3v1.3h-1.3zM110.6 86.7h1.3v1.3h-1.3zM108.7 90.7h1.3v1.3h-1.3zM121.4 84.0h1.3v1.3h-1.3zM134.1 86.0h1.3v1.3h-1.3zM115.4 87.3h1.3v1.3h-1.3zM112.2 93.1h1.3v1.3h-1.3zM128.4 87.9h1.3v1.3h-1.3zM96.2 97.1h1.3v1.3h-1.3zM92.7 90.5h1.3v1.3h-1.3zM119.6 91.0h1.3v1.3h-1.3zM89.3 93.0h1.3v1.3h-1.3zM105.8 93.9h1.3v1.3h-1.3zM111.9 90.6h1.3v1.3h-1.3zM106.2 94.0h1.3v1.3h-1.3zM98.7 96.2h1.3v1.3h-1.3zM84.5 94.9h1.3v1.3h-1.3zM84.6 86.5h1.3v1.3h-1.3zM106.9 89.2h1.3v1.3h-1.3zM99.2 96.1h1.3v1.3h-1.3zM120.5 98.8h1.3v1.3h-1.3zM117.6 93.6h1.3v1.3h-1.3zM103.9 93.8h1.3v1.3h-1.3zM99.2 86.1h1.3v1.3h-1.3zM86.9 89.0h1.3v1.3h-1.3zM129.7 88.5h1.3v1.3h-1.3zM90.2 94.7h1.3v1.3h-1.3zM93.3 85.4h1.3v1.3h-1.3zM96.1 89.2h1.3v1.3h-1.3zM108.8 89.5h1.3v1.3h-1.3zM111.3 90.0h1.3v1.3h-1.3zM97.6 92.5h1.3v1.3h-1.3zM126.6 91.9h1.3v1.3h-1.3zM120.1 89.8h1.3v1.3h-1.3zM130.4 84.5h1.3v1.3h-1.3zM114.4 85.6h1.3v1.3h-1.3zM107.8 87.6h1.3v1.3h-1.3zM118.4 94.1h1.3v1.3h-1.3zM136.6 93.3h1.3v1.3h-1.3zM131.2 93.9h1.3v1.3h-1.3zM119.7 89.8h1.3v1.3h-1.3zM85.5 95.7h1.3v1.3h-1.3zM90.3 98.1h1.3v1.3h-1.3zM89.5 93.0h1.3v1.3h-1.3zM102.5 88.8h1.3v1.3h-1.3zM86.0 96.2h1.3v1.3h-1.3zM82.5 93.6h1.3v1.3h-1.3zM101.5 95.5h1.3v1.3h-1.3zM86.2 90.8h1.3v1.3h-1.3zM122.0 94.1h1.3v1.3h-1.3zM121.2 98.1h1.3v1.3h-1.3zM87.9 92.2h1.3v1.3h-1.3zM104.0 90.6h1.3v1.3h-1.3zM87.9 91.8h1.3v1.3h-1.3zM122.8 89.0h1.3v1.3h-1.3zM135.3 85.6h1.3v1.3h-1.3zM130.9 89.8h1.3v1.3h-1.3zM118.3 96.3h1.3v1.3h-1.3zM94.5 91.9h1.3v1.3h-1.3zM114.5 83.6h1.3v1.3h-1.3zM125.0 90.1h1.3v1.3h-1.3zM100.2 98.1h1.3v1.3h-1.3zM98.7 86.9h1.3v1.3h-1.3zM107.6 89.5h1.3v1.3h-1.3zM127.7 91.5h1.3v1.3h-1.3zM130.6 87.1h1.3v1.3h-1.3zM104.0 83.8h1.3v1.3h-1.3zM99.3 97.8h1.3v1.3h-1.3zM89.3 94.7h1.3v1.3h-1.3zM99.7 87.1h1.3v1.3h-1.3zM126.4 89.7h1.3v1.3h-1.3zM111.1 87.9h1.3v1.3h-1.3zM134.2 89.8h1.3v1.3h-1.3zM106.2 91.0h1.3v1.3h-1.3zM98.7 95.1h1.3v1.3h-1.3zM104.0 90.4h1.3v1.3h-1.3zM124.1 91.5h1.3v1.3h-1.3zM119.4 90.0h1.3v1.3h-1.3zM133.4 88.9h1.3v1.3h-1.3zM133.3 90.0h1.3v1.3h-1.3zM85.6 89.0h1.3v1.3h-1.3zM112.5 91.6h1.3v1.3h-1.3zM104.1 92.4h1.3v1.3h-1.3zM107.6 90.5h1.3v1.3h-1.3zM97.9 96.7h1.3v1.3h-1.3zM117.7 95.7h1.3v1.3h-1.3zM101.3 87.6h1.3v1.3h-1.3zM85.3 90.6h1.3v1.3h-1.3zM100.1 93.0h1.3v1.3h-1.3zM128.7 91.7h1.3v1.3h-1.3zM125.0 91.2h1.3v1.3h-1.3zM130.5 92.0h1.3v1.3h-1.3zM85.7 91.7h1.3v1.3h-1.3zM113.6 98.3h1.3v1.3h-1.3zM106.1 92.9h1.3v1.3h-1.3zM113.8 83.6h1.3v1.3h-1.3zM132.7 95.3h1.3v1.3h-1.3zM119.8 93.2h1.3v1.3h-1.3zM128.5 86.5h1.3v1.3h-1.3zM97.9 92.2h1.3v1.3h-1.3zM122.1 81.9h1.3v1.3h-1.3zM111.1 86.3h1.3v1.3h-1.3zM92.6 92.4h1.3v1.3h-1.3zM89.2 87.7h1.3v1.3h-1.3zM134.9 89.2h1.3v1.3h-1.3zM93.1 91.5h1.3v1.3h-1.3zM96.0 97.2h1.3v1.3h-1.3zM83.9 88.5h1.3v1.3h-1.3zM120.5 89.6h1.3v1.3h-1.3zM122.9 94.8h1.3v1.3h-1.3zM98.1 89.3h1.3v1.3h-1.3zM125.3 99.3h1.3v1.3h-1.3zM127.7 91.0h1.3v1.3h-1.3zM123.5 82.4h1.3v1.3h-1.3zM123.0 90.0h1.3v1.3h-1.3zM133.5 96.8h1.3v1.3h-1.3zM113.4 91.0h1.3v1.3h-1.3zM107.6 89.2h1.3v1.3h-1.3zM111.1 90.9h1.3v1.3h-1.3zM95.0 87.1h1.3v1.3h-1.3zM136.2 89.6h1.3v1.3h-1.3zM128.3 91.6h1.3v1.3h-1.3zM102.1 92.2h1.3v1.3h-1.3zM123.9 91.1h1.3v1.3h-1.3zM119.4 91.2h1.3v1.3h-1.3zM109.7 90.5h1.3v1.3h-1.3zM109.7 90.9h1.3v1.3h-1.3zM115.7 92.9h1.3v1.3h-1.3zM102.1 94.0h1.3v1.3h-1.3zM103.5 91.2h1.3v1.3h-1.3zM118.2 92.7h1.3v1.3h-1.3zM86.9 92.9h1.3v1.3h-1.3zM128.6 91.8h1.3v1.3h-1.3zM97.4 89.7h1.3v1.3h-1.3zM118.5 92.6h1.3v1.3h-1.3zM92.4 91.8h1.3v1.3h-1.3zM124.7 91.5h1.3v1.3h-1.3zM91.0 97.3h1.3v1.3h-1.3zM116.9 89.1h1.3v1.3h-1.3zM91.6 86.9h1.3v1.3h-1.3zM107.6 91.3h1.3v1.3h-1.3zM100.3 94.5h1.3v1.3h-1.3zM132.0 92.8h1.3v1.3h-1.3zM125.0 94.7h1.3v1.3h-1.3zM86.4 92.7h1.3v1.3h-1.3zM116.1 83.8h1.3v1.3h-1.3zM132.9 85.5h1.3v1.3h-1.3zM136.8 93.1h1.3v1.3h-1.3zM109.2 83.0h1.3v1.3h-1.3zM120.3 93.9h1.3v1.3h-1.3zM109.7 86.9h1.3v1.3h-1.3zM135.5 94.8h1.3v1.3h-1.3zM109.7 87.3h1.3v1.3h-1.3zM84.3 92.4h1.3v1.3h-1.3zM127.3 90.6h1.3v1.3h-1.3zM120.4 86.5h1.3v1.3h-1.3zM126.5 87.2h1.3v1.3h-1.3zM95.2 93.3h1.3v1.3h-1.3zM112.6 88.7h1.3v1.3h-1.3zM92.8 87.7h1.3v1.3h-1.3zM97.3 95.0h1.3v1.3h-1.3zM113.8 92.3h1.3v1.3h-1.3zM101.4 89.7h1.3v1.3h-1.3zM107.9 88.3h1.3v1.3h-1.3zM93.1 89.0h1.3v1.3h-1.3zM94.1 90.9h1.3v1.3h-1.3zM105.6 88.6h1.3v1.3h-1.3zM94.5 88.2h1.3v1.3h-1.3zM113.4 90.7h1.3v1.3h-1.3zM88.6 89.1h1.3v1.3h-1.3zM129.7 88.9h1.3v1.3h-1.3zM108.9 95.2h1.3v1.3h-1.3zM110.1 90.6h1.3v1.3h-1.3zM120.4 93.3h1.3v1.3h-1.3zM119.3 95.2h1.3v1.3h-1.3zM128.8 89.8h1.3v1.3h-1.3zM109.7 93.5h1.3v1.3h-1.3zM98.5 91.2h1.3v1.3h-1.3zM124.3 87.4h1.3v1.3h-1.3zM130.8 93.6h1.3v1.3h-1.3zM93.7 92.0h1.3v1.3h-1.3zM116.0 91.7h1.3v1.3h-1.3zM134.0 91.7h1.3v1.3h-1.3zM105.5 95.6h1.3v1.3h-1.3zM109.1 94.7h1.3v1.3h-1.3zM114.1 84.8h1.3v1.3h-1.3zM108.0 94.6h1.3v1.3h-1.3zM98.7 89.3h1.3v1.3h-1.3zM108.3 90.0h1.3v1.3h-1.3zM123.0 89.2h1.3v1.3h-1.3zM102.6 96.5h1.3v1.3h-1.3zM130.7 93.4h1.3v1.3h-1.3zM132.0 92.5h1.3v1.3h-1.3zM135.6 91.3h1.3v1.3h-1.3zM131.5 91.7h1.3v1.3h-1.3zM118.9 91.1h1.3v1.3h-1.3zM92.9 93.7h1.3v1.3h-1.3zM85.1 89.7h1.3v1.3h-1.3zM114.3 89.8h1.3v1.3h-1.3zM104.6 87.3h1.3v1.3h-1.3zM85.7 91.3h1.3v1.3h-1.3zM113.9 90.9h1.3v1.3h-1.3zM87.4 86.9h1.3v1.3h-1.3zM95.5 92.7h1.3v1.3h-1.3zM123.5 91.1h1.3v1.3h-1.3zM103.6 98.5h1.3v1.3h-1.3zM119.8 88.4h1.3v1.3h-1.3zM87.1 92.3h1.3v1.3h-1.3zM115.6 95.2h1.3v1.3h-1.3zM104.3 92.7h1.3v1.3h-1.3zM98.1 91.4h1.3v1.3h-1.3zM130.5 95.5h1.3v1.3h-1.3zM125.7 89.7h1.3v1.3h-1.3zM116.7 95.9h1.3v1.3h-1.3zM121.7 90.5h1.3v1.3h-1.3zM89.9 90.5h1.3v1.3h-1.3zM125.4 91.0h1.3v1.3h-1.3zM84.9 96.0h1.3v1.3h-1.3zM114.0 91.2h1.3v1.3h-1.3zM82.8 92.4h1.3v1.3h-1.3zM95.1 85.5h1.3v1.3h-1.3zM83.7 90.8h1.3v1.3h-1.3zM109.9 88.9h1.3v1.3h-1.3zM120.6 95.6h1.3v1.3h-1.3zM86.6 91.5h1.3v1.3h-1.3zM118.5 98.6h1.3v1.3h-1.3zM91.2 88.1h1.3v1.3h-1.3zM90.5 90.6h1.3v1.3h-1.3zM104.3 86.3h1.3v1.3h-1.3zM130.6 90.4h1.3v1.3h-1.3zM97.1 94.8h1.3v1.3h-1.3zM117.6 91.2h1.3v1.3h-1.3zM103.7 86.3h1.3v1.3h-1.3zM122.8 93.1h1.3v1.3h-1.3zM85.8 94.6h1.3v1.3h-1.3zM99.5 91.9h1.3v1.3h-1.3zM106.5 94.2h1.3v1.3h-1.3zM94.5 90.4h1.3v1.3h-1.3zM105.7 89.6h1.3v1.3h-1.3zM110.9 94.6h1.3v1.3h-1.3zM88.2 91.6h1.3v1.3h-1.3zM123.4 86.4h1.3v1.3h-1.3zM106.2 94.0h1.3v1.3h-1.3zM130.0 96.6h1.3v1.3h-1.3zM131.1 91.1h1.3v1.3h-1.3zM98.1 89.6h1.3v1.3h-1.3zM120.0 94.2h1.3v1.3h-1.3zM103.3 92.1h1.3v1.3h-1.3zM125.8 94.2h1.3v1.3h-1.3zM117.0 91.9h1.3v1.3h-1.3zM82.3 89.3h1.3v1.3h-1.3zM107.6 96.8h1.3v1.3h-1.3zM122.8 91.6h1.3v1.3h-1.3zM90.6 97.0h1.3v1.3h-1.3zM116.6 91.7h1.3v1.3h-1.3zM97.5 90.2h1.3v1.3h-1.3zM100.2 92.4h1.3v1.3h-1.3zM104.6 90.5h1.3v1.3h-1.3zM136.7 98.8h1.3v1.3h-1.3zM86.0 96.2h1.3v1.3h-1.3zM111.9 86.3h1.3v1.3h-1.3zM97.7 93.1h1.3v1.3h-1.3zM107.9 92.8h1.3v1.3h-1.3zM131.2 89.8h1.3v1.3h-1.3zM87.2 92.6h1.3v1.3h-1.3zM111.6 93.6h1.3v1.3h-1.3zM99.1 90.2h1.3v1.3h-1.3zM98.6 91.6h1.3v1.3h-1.3zM82.3 95.1h1.3v1.3h-1.3zM112.6 95.0h1.3v1.3h-1.3zM107.4 97.3h1.3v1.3h-1.3zM87.4 92.4h1.3v1.3h-1.3zM120.4 85.4h1.3v1.3h-1.3zM87.4 95.4h1.3v1.3h-1.3zM101.3 99.5h1.3v1.3h-1.3zM115.8 93.6h1.3v1.3h-1.3zM100.6 95.4h1.3v1.3h-1.3zM101.5 97.7h1.3v1.3h-1.3zM88.9 88.1h1.3v1.3h-1.3zM127.0 92.1h1.3v1.3h-1.3zM85.3 92.2h1.3v1.3h-1.3zM85.3 84.0h1.3v1.3h-1.3zM119.4 90.5h1.3v1.3h-1.3zM129.8 85.5h1.3v1.3h-1.3zM107.7 88.6h1.3v1.3h-1.3zM106.3 87.6h1.3v1.3h-1.3zM89.4 87.2h1.3v1.3h-1.3zM101.0 90.2h1.3v1.3h-1.3zM122.1 94.6h1.3v1.3h-1.3zM102.8 88.6h1.3v1.3h-1.3zM110.0 91.2h1.3v1.3h-1.3zM127.4 88.4h1.3v1.3h-1.3zM118.3 90.0h1.3v1.3h-1.3zM85.7 86.8h1.3v1.3h-1.3zM117.6 94.9h1.3v1.3h-1.3zM128.3 87.5h1.3v1.3h-1.3zM90.0 86.0h1.3v1.3h-1.3zM134.1 93.0h1.3v1.3h-1.3zM86.6 92.1h1.3v1.3h-1.3zM96.0 93.9h1.3v1.3h-1.3zM117.6 84.6h1.3v1.3h-1.3zM119.1 95.7h1.3v1.3h-1.3zM120.3 97.3h1.3v1.3h-1.3zM83.6 87.5h1.3v1.3h-1.3zM105.3 88.0h1.3v1.3h-1.3zM131.7 86.8h1.3v1.3h-1.3zM93.3 83.8h1.3v1.3h-1.3zM92.2 91.6h1.3v1.3h-1.3zM84.4 89.4h1.3v1.3h-1.3zM83.9 92.4h1.3v1.3h-1.3zM103.7 88.0h1.3v1.3h-1.3zM129.1 87.6h1.3v1.3h-1.3zM97.5 90.1h1.3v1.3h-1.3zM85.0 99.0h1.3v1.3h-1.3zM114.8 95.3h1.3v1.3h-1.3zM88.4 95.9h1.3v1.3h-1.3zM128.0 89.3h1.3v1.3h-1.3zM116.7 99.3h1.3v1.3h-1.3zM124.4 92.9h1.3v1.3h-1.3zM118.1 96.5h1.3v1.3h-1.3zM104.0 87.3h1.3v1.3h-1.3zM128.3 89.9h1.3v1.3h-1.3zM136.9 93.2h1.3v1.3h-1.3zM87.6 87.6h1.3v1.3h-1.3zM116.8 93.8h1.3v1.3h-1.3zM89.4 91.0h1.3v1.3h-1.3zM92.5 95.0h1.3v1.3h-1.3zM93.1 93.7h1.3v1.3h-1.3zM130.7 97.0h1.3v1.3h-1.3zM111.3 86.9h1.3v1.3h-1.3zM106.7 89.6h1.3v1.3h-1.3zM113.0 88.3h1.3v1.3h-1.3zM85.4 87.1h1.3v1.3h-1.3zM93.9 90.0h1.3v1.3h-1.3zM91.9 84.4h1.3v1.3h-1.3zM136.6 94.3h1.3v1.3h-1.3zM121.0 89.9h1.3v1.3h-1.3zM132.9 94.2h1.3v1.3h-1.3zM96.7 86.8h1.3v1.3h-1.3zM97.5 88.1h1.3v1.3h-1.3zM133.0 91.4h1.3v1.3h-1.3zM120.8 102.4h1.3v1.3h-1.3zM111.0 84.8h1.3v1.3h-1.3zM129.2 87.9h1.3v1.3h-1.3zM84.4 91.2h1.3v1.3h-1.3zM105.2 91.8h1.3v1.3h-1.3zM120.8 87.9h1.3v1.3h-1.3zM91.0 94.3h1.3v1.3h-1.3zM93.3 90.1h1.3v1.3h-1.3zM121.2 93.8h1.3v1.3h-1.3zM124.9 89.0h1.3v1.3h-1.3zM101.3 97.7h1.3v1.3h-1.3zM127.8 90.1h1.3v1.3h-1.3zM124.3 87.4h1.3v1.3h-1.3zM125.4 92.8h1.3v1.3h-1.3zM100.8 98.9h1.3v1.3h-1.3zM85.4 102.4h1.3v1.3h-1.3zM118.5 90.8h1.3v1.3h-1.3zM84.4 97.6h1.3v1.3h-1.3zM120.0 91.9h1.3v1.3h-1.3zM128.3 96.2h1.3v1.3h-1.3zM126.7 90.1h1.3v1.3h-1.3zM102.1 87.3h1.3v1.3h-1.3zM98.9 94.1h1.3v1.3h-1.3zM118.0 94.3h1.3v1.3h-1.3zM131.0 88.8h1.3v1.3h-1.3zM124.0 91.3h1.3v1.3h-1.3zM99.4 92.7h1.3v1.3h-1.3zM114.8 89.6h1.3v1.3h-1.3zM119.7 90.4h1.3v1.3h-1.3zM99.5 90.1h1.3v1.3h-1.3zM121.0 92.6h1.3v1.3h-1.3zM95.7 93.6h1.3v1.3h-1.3zM100.3 98.6h1.3v1.3h-1.3zM126.4 95.3h1.3v1.3h-1.3zM117.5 92.9h1.3v1.3h-1.3zM120.7 89.3h1.3v1.3h-1.3zM111.9 91.9h1.3v1.3h-1.3zM130.6 90.4h1.3v1.3h-1.3zM118.5 94.9h1.3v1.3h-1.3zM101.3 89.2h1.3v1.3h-1.3zM91.0 88.4h1.3v1.3h-1.3zM108.3 92.7h1.3v1.3h-1.3zM105.7 91.9h1.3v1.3h-1.3zM100.8 91.8h1.3v1.3h-1.3zM101.1 90.3h1.3v1.3h-1.3zM115.1 86.9h1.3v1.3h-1.3zM113.7 89.3h1.3v1.3h-1.3zM135.0 92.1h1.3v1.3h-1.3zM86.1 95.6h1.3v1.3h-1.3zM124.0 82.6h1.3v1.3h-1.3zM88.3 88.6h1.3v1.3h-1.3zM111.6 91.0h1.3v1.3h-1.3zM133.0 95.1h1.3v1.3h-1.3zM94.6 93.8h1.3v1.3h-1.3zM96.9 94.1h1.3v1.3h-1.3zM124.4 90.8h1.3v1.3h-1.3zM128.1 88.7h1.3v1.3h-1.3zM94.9 93.4h1.3v1.3h-1.3zM113.7 92.2h1.3v1.3h-1.3zM124.5 91.0h1.3v1.3h-1.3zM103.6 89.3h1.3v1.3h-1.3zM127.1 87.4h1.3v1.3h-1.3zM90.4 86.9h1.3v1.3h-1.3zM126.1 91.8h1.3v1.3h-1.3zM108.4 92.2h1.3v1.3h-1.3zM117.5 88.7h1.3v1.3h-1.3zM92.0 88.3h1.3v1.3h-1.3zM113.2 91.2h1.3v1.3h-1.3zM96.5 91.4h1.3v1.3h-1.3zM103.1 90.3h1.3v1.3h-1.3zM135.8 81.9h1.3v1.3h-1.3zM113.2 87.2h1.3v1.3h-1.3zM126.0 97.0h1.3v1.3h-1.3zM134.8 91.0h1.3v1.3h-1.3zM114.6 103.8h1.3v1.3h-1.3zM117.5 92.2h1.3v1.3h-1.3zM90.0 99.4h1.3v1.3h-1.3zM120.0 97.1h1.3v1.3h-1.3zM93.7 88.5h1.3v1.3h-1.3zM135.9 97.7h1.3v1.3h-1.3zM126.0 81.6h1.3v1.3h-1.3zM134.2 91.9h1.3v1.3h-1.3zM95.1 93.8h1.3v1.3h-1.3zM108.2 94.7h1.3v1.3h-1.3zM127.9 98.3h1.3v1.3h-1.3zM100.8 91.3h1.3v1.3h-1.3zM93.4 93.3h1.3v1.3h-1.3zM97.0 89.2h1.3v1.3h-1.3zM85.3 96.5h1.3v1.3h-1.3zM112.7 92.4h1.3v1.3h-1.3zM116.8 88.9h1.3v1.3h-1.3zM96.5 94.7h1.3v1.3h-1.3zM102.2 88.8h1.3v1.3h-1.3zM132.7 87.9h1.3v1.3h-1.3zM92.3 91.1h1.3v1.3h-1.3zM88.0 91.1h1.3v1.3h-1.3zM129.7 92.1h1.3v1.3h-1.3zM131.4 93.6h1.3v1.3h-1.3zM101.4 88.0h1.3v1.3h-1.3zM97.8 93.3h1.3v1.3h-1.3zM99.0 93.6h1.3v1.3h-1.3zM109.7 93.0h1.3v1.3h-1.3zM109.4 95.4h1.3v1.3h-1.3zM89.7 84.6h1.3v1.3h-1.3zM123.5 87.8h1.3v1.3h-1.3zM111.8 91.5h1.3v1.3h-1.3zM95.1 97.0h1.3v1.3h-1.3zM128.7 91.0h1.3v1.3h-1.3zM124.8 93.7h1.3v1.3h-1.3zM93.6 90.4h1.3v1.3h-1.3zM103.1 96.8h1.3v1.3h-1.3zM103.7 97.5h1.3v1.3h-1.3zM136.6 87.8h1.3v1.3h-1.3zM112.7 88.0h1.3v1.3h-1.3zM104.5 94.7h1.3v1.3h-1.3zM135.1 90.8h1.3v1.3h-1.3zM125.3 98.0h1.3v1.3h-1.3zM97.3 92.4h1.3v1.3h-1.3zM125.8 86.0h1.3v1.3h-1.3zM110.4 93.9h1.3v1.3h-1.3zM134.5 94.6h1.3v1.3h-1.3zM131.9 89.2h1.3v1.3h-1.3zM83.6 96.1h1.3v1.3h-1.3zM121.6 88.3h1.3v1.3h-1.3zM96.9 89.7h1.3v1.3h-1.3zM86.6 91.7h1.3v1.3h-1.3zM105.4 95.1h1.3v1.3h-1.3zM90.5 91.2h1.3v1.3h-1.3zM91.8 90.9h1.3v1.3h-1.3zM97.6 94.3h1.3v1.3h-1.3zM134.3 97.2h1.3v1.3h-1.3zM107.9 87.9h1.3v1.3h-1.3zM123.7 97.3h1.3v1.3h-1.3zM117.8 92.6h1.3v1.3h-1.3zM114.6 90.8h1.3v1.3h-1.3zM96.7 92.7h1.3v1.3h-1.3zM130.7 91.1h1.3v1.3h-1.3zM132.4 98.3h1.3v1.3h-1.3zM109.8 94.0h1.3v1.3h-1.3zM131.5 81.7h1.3v1.3h-1.3zM99.4 93.4h1.3v1.3h-1.3zM92.6 84.9h1.3v1.3h-1.3zM96.0 84.2h1.3v1.3h-1.3zM119.8 91.1h1.3v1.3h-1.3zM115.8 94.8h1.3v1.3h-1.3zM124.3 83.2h1.3v1.3h-1.3zM118.0 91.7h1.3v1.3h-1.3zM83.9 90.7h1.3v1.3h-1.3zM95.3 90.8h1.3v1.3h-1.3zM111.4 86.9h1.3v1.3h-1.3zM104.4 94.3h1.3v1.3h-1.3zM126.5 86.9h1.3v1.3h-1.3zM115.8 89.8h1.3v1.3h-1.3zM109.6 91.0h1.3v1.3h-1.3zM90.2 91.3h1.3v1.3h-1.3zM99.2 91.7h1.3v1.3h-1.3zM120.1 93.7h1.3v1.3h-1.3zM106.3 94.1h1.3v1.3h-1.3zM91.7 95.8h1.3v1.3h-1.3zM98.5 93.0h1.3v1.3h-1.3zM109.7 96.5h1.3v1.3h-1.3zM82.7 90.8h1.3v1.3h-1.3zM96.4 89.3h1.3v1.3h-1.3zM87.7 87.7h1.3v1.3h-1.3zM95.8 88.8h1.3v1.3h-1.3zM136.7 89.9h1.3v1.3h-1.3zM126.0 92.5h1.3v1.3h-1.3zM110.2 86.7h1.3v1.3h-1.3zM108.0 92.4h1.3v1.3h-1.3zM105.8 97.5h1.3v1.3h-1.3zM112.3 93.1h1.3v1.3h-1.3zM121.2 95.1h1.3v1.3h-1.3zM100.8 92.8h1.3v1.3h-1.3zM110.9 90.5h1.3v1.3h-1.3zM122.4 88.8h1.3v1.3h-1.3zM120.3 97.7h1.3v1.3h-1.3zM116.4 94.4h1.3v1.3h-1.3zM96.8 92.2h1.3v1.3h-1.3zM113.6 90.7h1.3v1.3h-1.3zM128.9 90.2h1.3v1.3h-1.3zM108.7 83.7h1.3v1.3h-1.3zM132.3 97.8h1.3v1.3h-1.3zM92.6 93.3h1.3v1.3h-1.3zM117.6 95.6h1.3v1.3h-1.3zM128.5 91.2h1.3v1.3h-1.3zM119.5 91.6h1.3v1.3h-1.3zM108.8 91.1h1.3v1.3h-1.3zM117.8 90.1h1.3v1.3h-1.3zM92.0 83.1h1.3v1.3h-1.3zM110.8 88.8h1.3v1.3h-1.3zM132.5 88.9h1.3v1.3h-1.3zM109.7 95.9h1.3v1.3h-1.3zM123.0 93.7h1.3v1.3h-1.3zM120.5 87.4h1.3v1.3h-1.3zM129.0 91.7h1.3v1.3h-1.3zM120.6 89.6h1.3v1.3h-1.3zM87.7 85.1h1.3v1.3h-1.3zM120.5 94.9h1.3v1.3h-1.3zM133.9 86.8h1.3v1.3h-1.3zM103.7 91.6h1.3v1.3h-1.3zM123.1 85.4h1.3v1.3h-1.3zM110.3 83.4h1.3v1.3h-1.3zM94.0 92.3h1.3v1.3h-1.3zM99.5 94.7h1.3v1.3h-1.3zM128.0 97.4h1.3v1.3h-1.3zM101.6 86.3h1.3v1.3h-1.3zM117.2 95.1h1.3v1.3h-1.3zM105.7 95.6h1.3v1.3h-1.3zM87.2 90.1h1.3v1.3h-1.3zM102.2 90.2h1.3v1.3h-1.3zM116.4 93.0h1.3v1.3h-1.3zM112.4 89.2h1.3v1.3h-1.3zM93.7 84.0h1.3v1.3h-1.3zM97.3 87.6h1.3v1.3h-1.3zM119.9 87.0h1.3v1.3h-1.3zM85.0 92.0h1.3v1.3h-1.3zM86.0 88.8h1.3v1.3h-1.3zM135.2 97.9h1.3v1.3h-1.3zM93.7 97.1h1.3v1.3h-1.3zM93.3 96.3h1.3v1.3h-1.3zM134.7 88.4h1.3v1.3h-1.3zM84.2 89.8h1.3v1.3h-1.3zM97.2 87.9h1.3v1.3h-1.3zM105.5 92.7h1.3v1.3h-1.3zM133.2 87.6h1.3v1.3h-1.3zM133.5 90.0h1.3v1.3h-1.3zM89.3 90.3h1.3v1.3h-1.3zM111.6 98.5h1.3v1.3h-1.3zM82.1 95.4h1.3v1.3h-1.3zM89.0 88.8h1.3v1.3h-1.3zM120.6 94.0h1.3v1.3h-1.3zM113.6 90.3h1.3v1.3h-1.3zM116.6 88.9h1.3v1.3h-1.3zM112.2 89.4h1.3v1.3h-1.3zM132.7 89.4h1.3v1.3h-1.3zM113.4 90.7h1.3v1.3h-1.3zM123.0 97.6h1.3v1.3h-1.3zM108.2 94.7h1.3v1.3h-1.3zM93.8 91.6h1.3v1.3h-1.3zM128.7 92.8h1.3v1.3h-1.3zM127.1 82.5h1.3v1.3h-1.3zM94.3 96.7h1.3v1.3h-1.3zM82.2 94.3h1.3v1.3h-1.3zM92.0 86.1h1.3v1.3h-1.3zM99.6 95.4h1.3v1.3h-1.3zM111.3 93.6h1.3v1.3h-1.3zM116.8 95.2h1.3v1.3h-1.3zM100.9 85.7h1.3v1.3h-1.3zM105.1 94.1h1.3v1.3h-1.3zM103.3 95.2h1.3v1.3h-1.3zM120.3 90.3h1.3v1.3h-1.3zM117.8 94.6h1.3v1.3h-1.3zM90.3 91.8h1.3v1.3h-1.3zM118.6 95.9h1.3v1.3h-1.3zM88.7 88.1h1.3v1.3h-1.3zM104.3 93.5h1.3v1.3h-1.3zM85.8 89.2h1.3v1.3h-1.3zM95.6 86.3h1.3v1.3h-1.3zM111.5 94.1h1.3v1.3h-1.3zM82.5 86.2h1.3v1.3h-1.3zM99.5 92.7h1.3v1.3h-1.3zM120.4 98.4h1.3v1.3h-1.3zM123.2 97.2h1.3v1.3h-1.3zM89.8 91.9h1.3v1.3h-1.3zM92.1 86.7h1.3v1.3h-1.3zM96.0 92.5h1.3v1.3h-1.3zM129.4 90.3h1.3v1.3h-1.3zM89.9 82.3h1.3v1.3h-1.3zM107.9 89.0h1.3v1.3h-1.3zM87.5 94.1h1.3v1.3h-1.3zM131.8 92.2h1.3v1.3h-1.3zM82.9 92.2h1.3v1.3h-1.3zM125.5 93.5h1.3v1.3h-1.3zM92.5 89.1h1.3v1.3h-1.3zM97.4 87.0h1.3v1.3h-1.3zM96.6 93.4h1.3v1.3h-1.3zM122.7 90.6h1.3v1.3h-1.3zM133.7 83.3h1.3v1.3h-1.3zM123.0 97.2h1.3v1.3h-1.3zM103.3 89.2h1.3v1.3h-1.3zM83.3 93.2h1.3v1.3h-1.3zM118.4 99.7h1.3v1.3h-1.3zM127.0 97.2h1.3v1.3h-1.3zM97.4 93.6h1.3v1.3h-1.3zM98.2 85.2h1.3v1.3h-1.3zM121.0 94.0h1.3v1.3h-1.3zM136.4 95.2h1.3v1.3h-1.3zM116.0 91.5h1.3v1.3h-1.3zM106.6 85.6h1.3v1.3h-1.3zM110.0 96.3h1.3v1.3h-1.3zM90.4 88.7h1.3v1.3h-1.3zM97.7 93.7h1.3v1.3h-1.3zM87.5 94.3h1.3v1.3h-1.3zM135.5 86.7h1.3v1.3h-1.3zM119.9 83.4h1.3v1.3h-1.3zM115.8 91.5h1.3v1.3h-1.3zM130.7 94.5h1.3v1.3h-1.3zM93.7 88.8h1.3v1.3h-1.3zM100.9 94.1h1.3v1.3h-1.3zM103.7 88.9h1.3v1.3h-1.3zM94.2 91.4h1.3v1.3h-1.3zM129.7 91.2h1.3v1.3h-1.3zM90.9 92.0h1.3v1.3h-1.3zM105.5 94.2h1.3v1.3h-1.3zM114.0 91.4h1.3v1.3h-1.3zM119.1 87.3h1.3v1.3h-1.3zM84.2 87.9h1.3v1.3h-1.3zM86.1 88.3h1.3v1.3h-1.3zM135.3 88.1h1.3v1.3h-1.3zM93.5 89.1h1.3v1.3h-1.3zM110.6 94.6h1.3v1.3h-1.3zM86.7 86.9h1.3v1.3h-1.3zM99.3 92.9h1.3v1.3h-1.3zM116.5 90.6h1.3v1.3h-1.3zM129.8 89.3h1.3v1.3h-1.3zM84.1 86.8h1.3v1.3h-1.3zM97.6 91.6h1.3v1.3h-1.3zM118.4 94.1h1.3v1.3h-1.3zM99.7 92.6h1.3v1.3h-1.3zM104.7 91.5h1.3v1.3h-1.3zM105.7 88.5h1.3v1.3h-1.3zM126.0 90.3h1.3v1.3h-1.3zM133.1 98.2h1.3v1.3h-1.3zM102.8 86.3h1.3v1.3h-1.3zM106.6 92.9h1.3v1.3h-1.3zM131.4 89.9h1.3v1.3h-1.3zM126.9 91.3h1.3v1.3h-1.3zM111.1 91.7h1.3v1.3h-1.3zM92.8 92.7h1.3v1.3h-1.3zM104.3 94.6h1.3v1.3h-1.3zM122.9 89.3h1.3v1.3h-1.3zM124.8 85.4h1.3v1.3h-1.3zM104.0 89.4h1.3v1.3h-1.3zM110.8 94.2h1.3v1.3h-1.3zM108.6 84.2h1.3v1.3h-1.3zM101.7 88.1h1.3v1.3h-1.3zM112.9 93.1h1.3v1.3h-1.3zM114.0 95.7h1.3v1.3h-1.3zM119.2 89.6h1.3v1.3h-1.3zM101.3 92.0h1.3v1.3h-1.3zM97.1 94.5h1.3v1.3h-1.3zM120.6 98.9h1.3v1.3h-1.3zM133.8 94.1h1.3v1.3h-1.3zM98.7 90.4h1.3v1.3h-1.3zM109.3 88.3h1.3v1.3h-1.3zM86.6 93.4h1.3v1.3h-1.3zM132.8 94.4h1.3v1.3h-1.3zM102.8 87.8h1.3v1.3h-1.3zM114.9 88.0h1.3v1.3h-1.3zM122.1 90.6h1.3v1.3h-1.3zM96.1 87.0h1.3v1.3h-1.3zM121.4 96.4h1.3v1.3h-1.3zM93.0 89.2h1.3v1.3h-1.3zM90.8 95.1h1.3v1.3h-1.3zM122.7 88.9h1.3v1.3h-1.3zM100.2 89.1h1.3v1.3h-1.3zM92.3 93.0h1.3v1.3h-1.3zM111.9 95.7h1.3v1.3h-1.3zM128.3 93.2h1.3v1.3h-1.3zM113.9 85.9h1.3v1.3h-1.3zM95.0 84.4h1.3v1.3h-1.3zM125.1 94.1h1.3v1.3h-1.3zM123.0 96.5h1.3v1.3h-1.3zM96.0 86.9h1.3v1.3h-1.3zM131.9 96.1h1.3v1.3h-1.3zM113.8 90.6h1.3v1.3h-1.3zM127.8 94.0h1.3v1.3h-1.3zM107.7 84.3h1.3v1.3h-1.3zM129.9 87.8h1.3v1.3h-1.3zM109.2 92.8h1.3v1.3h-1.3zM114.9 93.9h1.3v1.3h-1.3zM128.6 91.8h1.3v1.3h-1.3zM83.9 97.6h1.3v1.3h-1.3zM107.7 86.2h1.3v1.3h-1.3zM130.8 94.3h1.3v1.3h-1.3zM124.7 89.4h1.3v1.3h-1.3zM93.4 89.7h1.3v1.3h-1.3zM98.9 92.7h1.3v1.3h-1.3zM135.7 89.4h1.3v1.3h-1.3zM87.3 89.0h1.3v1.3h-1.3zM129.0 101.1h1.3v1.3h-1.3zM84.7 87.0h1.3v1.3h-1.3zM125.6 90.6h1.3v1.3h-1.3zM109.1 93.6h1.3v1.3h-1.3zM98.8 93.2h1.3v1.3h-1.3zM102.1 90.5h1.3v1.3h-1.3zM91.2 90.6h1.3v1.3h-1.3zM108.8 87.3h1.3v1.3h-1.3zM131.5 87.8h1.3v1.3h-1.3zM129.4 89.1h1.3v1.3h-1.3zM114.3 95.5h1.3v1.3h-1.3zM121.9 88.4h1.3v1.3h-1.3zM111.1 95.0h1.3v1.3h-1.3zM130.3 94.5h1.3v1.3h-1.3zM123.5 94.0h1.3v1.3h-1.3zM129.3 90.7h1.3v1.3h-1.3zM91.2 92.4h1.3v1.3h-1.3zM93.4 91.5h1.3v1.3h-1.3zM94.4 92.3h1.3v1.3h-1.3zM130.1 87.3h1.3v1.3h-1.3zM101.9 93.1h1.3v1.3h-1.3zM92.6 93.8h1.3v1.3h-1.3zM124.3 95.5h1.3v1.3h-1.3zM112.4 89.7h1.3v1.3h-1.3zM113.0 89.2h1.3v1.3h-1.3zM127.4 85.1h1.3v1.3h-1.3zM106.5 87.4h1.3v1.3h-1.3zM91.0 91.4h1.3v1.3h-1.3zM86.1 93.1h1.3v1.3h-1.3zM91.5 88.0h1.3v1.3h-1.3zM84.2 95.1h1.3v1.3h-1.3zM113.4 92.0h1.3v1.3h-1.3zM132.4 91.6h1.3v1.3h-1.3zM114.2 87.8h1.3v1.3h-1.3zM83.1 93.4h1.3v1.3h-1.3zM114.5 94.6h1.3v1.3h-1.3zM119.3 94.3h1.3v1.3h-1.3zM103.7 89.8h1.3v1.3h-1.3zM89.7 91.0h1.3v1.3h-1.3zM127.3 93.7h1.3v1.3h-1.3zM116.3 91.7h1.3v1.3h-1.3zM108.2 90.1h1.3v1.3h-1.3zM117.9 92.2h1.3v1.3h-1.3zM84.2 95.7h1.3v1.3h-1.3zM117.6 87.3h1.3v1.3h-1.3zM84.2 88.4h1.3v1.3h-1.3zM112.0 89.7h1.3v1.3h-1.3zM136.3 93.3h1.3v1.3h-1.3zM110.8 90.3h1.3v1.3h-1.3zM131.0 87.4h1.3v1.3h-1.3zM91.1 85.9h1.3v1.3h-1.3zM91.5 91.9h1.3v1.3h-1.3zM89.9 87.0h1.3v1.3h-1.3zM130.0 91.7h1.3v1.3h-1.3zM117.4 91.7h1.3v1.3h-1.3zM127.8 94.6h1.3v1.3h-1.3zM91.0 90.2h1.3v1.3h-1.3zM115.1 94.3h1.3v1.3h-1.3zM121.4 93.5h1.3v1.3h-1.3zM129.3 94.5h1.3v1.3h-1.3zM118.1 95.9h1.3v1.3h-1.3zM110.9 86.1h1.3v1.3h-1.3zM97.1 89.6h1.3v1.3h-1.3zM131.8 95.4h1.3v1.3h-1.3zM97.4 92.0h1.3v1.3h-1.3zM95.1 88.7h1.3v1.3h-1.3zM85.0 86.3h1.3v1.3h-1.3zM104.9 95.4h1.3v1.3h-1.3zM116.2 94.0h1.3v1.3h-1.3zM110.7 93.0h1.3v1.3h-1.3zM82.7 90.2h1.3v1.3h-1.3zM87.6 97.8h1.3v1.3h-1.3zM125.3 89.7h1.3v1.3h-1.3zM91.8 89.5h1.3v1.3h-1.3zM118.8 88.4h1.3v1.3h-1.3zM126.4 90.1h1.3v1.3h-1.3zM112.0 94.3h1.3v1.3h-1.3zM106.4 90.0h1.3v1.3h-1.3zM127.8 89.2h1.3v1.3h-1.3zM125.0 97.0h1.3v1.3h-1.3zM118.1 85.7h1.3v1.3h-1.3zM91.6 87.1h1.3v1.3h-1.3zM134.7 93.6h1.3v1.3h-1.3zM82.1 89.0h1.3v1.3h-1.3zM137.0 95.4h1.3v1.3h-1.3zM135.6 88.3h1.3v1.3h-1.3zM90.6 90.2h1.3v1.3h-1.3zM91.1 94.7h1.3v1.3h-1.3zM91.7 94.1h1.3v1.3h-1.3zM104.4 88.1h1.3v1.3h-1.3zM104.5 89.7h1.3v1.3h-1.3zM104.0 86.1h1.3v1.3h-1.3zM87.7 90.1h1.3v1.3h-1.3zM91.8 94.1h1.3v1.3h-1.3zM114.2 95.9h1.3v1.3h-1.3zM84.9 90.1h1.3v1.3h-1.3zM89.7 100.4h1.3v1.3h-1.3zM102.8 87.5h1.3v1.3h-1.3zM107.0 90.8h1.3v1.3h-1.3zM131.9 96.7h1.3v1.3h-1.3zM114.2 91.3h1.3v1.3h-1.3zM129.4 90.9h1.3v1.3h-1.3zM112.4 94.5h1.3v1.3h-1.3zM122.6 92.2h1.3v1.3h-1.3zM93.3 93.0h1.3v1.3h-1.3zM117.4 86.8h1.3v1.3h-1.3zM131.0 94.0h1.3v1.3h-1.3zM89.6 89.7h1.3v1.3h-1.3zM120.3 91.4h1.3v1.3h-1.3zM104.4 88.6h1.3v1.3h-1.3zM128.8 92.2h1.3v1.3h-1.3zM133.7 92.8h1.3v1.3h-1.3zM82.6 91.6h1.3v1.3h-1.3zM106.9 92.1h1.3v1.3h-1.3zM120.2 91.7h1.3v1.3h-1.3zM109.6 93.2h1.3v1.3h-1.3zM93.8 88.0h1.3v1.3h-1.3zM96.6 89.8h1.3v1.3h-1.3zM126.9 91.0h1.3v1.3h-1.3zM84.2 95.9h1.3v1.3h-1.3zM129.9 93.5h1.3v1.3h-1.3zM136.6 96.2h1.3v1.3h-1.3zM94.2 90.9h1.3v1.3h-1.3zM132.7 90.1h1.3v1.3h-1.3zM118.4 91.1h1.3v1.3h-1.3zM103.1 90.4h1.3v1.3h-1.3zM114.7 91.2h1.3v1.3h-1.3zM113.2 97.3h1.3v1.3h-1.3zM93.7 94.8h1.3v1.3h-1.3zM95.7 87.6h1.3v1.3h-1.3zM101.2 88.9h1.3v1.3h-1.3zM105.8 87.0h1.3v1.3h-1.3zM118.6 93.8h1.3v1.3h-1.3zM87.3 92.4h1.3v1.3h-1.3zM119.8 90.4h1.3v1.3h-1.3zM116.6 85.9h1.3v1.3h-1.3zM100.5 87.7h1.3v1.3h-1.3zM89.9 91.2h1.3v1.3h-1.3zM126.6 93.3h1.3v1.3h-1.3zM122.9 93.6h1.3v1.3h-1.3zM129.5 96.4h1.3v1.3h-1.3zM95.2 94.9h1.3v1.3h-1.3zM132.3 100.2h1.3v1.3h-1.3zM97.3 97.7h1.3v1.3h-1.3zM96.0 92.9h1.3v1.3h-1.3zM90.9 88.6h1.3v1.3h-1.3zM98.7 95.5h1.3v1.3h-1.3zM108.8 89.6h1.3v1.3h-1.3zM112.9 94.9h1.3v1.3h-1.3zM121.2 94.3h1.3v1.3h-1.3zM82.1 94.6h1.3v1.3h-1.3zM109.1 98.9h1.3v1.3h-1.3zM96.5 88.7h1.3v1.3h-1.3zM84.8 89.1h1.3v1.3h-1.3zM134.5 89.1h1.3v1.3h-1.3zM101.8 94.7h1.3v1.3h-1.3zM126.5 89.3h1.3v1.3h-1.3zM106.8 93.9h1.3v1.3h-1.3zM135.6 92.4h1.3v1.3h-1.3zM133.2 90.7h1.3v1.3h-1.3zM114.9 93.3h1.3v1.3h-1.3zM119.1 93.9h1.3v1.3h-1.3zM133.4 92.0h1.3v1.3h-1.3zM108.7 88.2h1.3v1.3h-1.3zM124.4 87.7h1.3v1.3h-1.3zM85.2 89.0h1.3v1.3h-1.3zM91.3 93.1h1.3v1.3h-1.3zM120.3 93.3h1.3v1.3h-1.3zM112.2 86.9h1.3v1.3h-1.3zM91.0 92.0h1.3v1.3h-1.3zM91.2 84.3h1.3v1.3h-1.3zM92.3 85.0h1.3v1.3h-1.3zM111.3 91.8h1.3v1.3h-1.3zM135.9 92.6h1.3v1.3h-1.3zM124.9 93.2h1.3v1.3h-1.3zM85.8 86.6h1.3v1.3h-1.3zM101.6 95.4h1.3v1.3h-1.3zM121.1 91.0h1.3v1.3h-1.3zM134.8 90.9h1.3v1.3h-1.3zM132.2 89.2h1.3v1.3h-1.3zM122.6 91.5h1.3v1.3h-1.3zM99.8 92.4h1.3v1.3h-1.3zM105.4 91.4h1.3v1.3h-1.3zM107.2 94.9h1.3v1.3h-1.3zM93.8 95.3h1.3v1.3h-1.3zM134.4 88.2h1.3v1.3h-1.3zM116.0 91.9h1.3v1.3h-1.3zM98.1 92.6h1.3v1.3h-1.3zM112.3 95.9h1.3v1.3h-1.3zM132.7 86.6h1.3v1.3h-1.3zM123.9 88.1h1.3v1.3h-1.3zM90.4 91.1h1.3v1.3h-1.3zM82.5 92.3h1.3v1.3h-1.3zM96.7 86.6h1.3v1.3h-1.3zM88.6 95.3h1.3v1.3h-1.3zM95.4 91.9h1.3v1.3h-1.3zM129.1 95.1h1.3v1.3h-1.3zM107.5 93.1h1.3v1.3h-1.3zM118.7 92.9h1.3v1.3h-1.3zM95.6 95.9h1.3v1.3h-1.3zM104.0 92.4h1.3v1.3h-1.3zM110.3 97.9h1.3v1.3h-1.3zM82.9 84.5h1.3v1.3h-1.3zM87.8 92.2h1.3v1.3h-1.3zM128.3 88.5h1.3v1.3h-1.3zM122.6 86.2h1.3v1.3h-1.3zM83.7 85.7h1.3v1.3h-1.3zM120.5 95.0h1.3v1.3h-1.3zM123.6 88.8h1.3v1.3h-1.3zM127.9 89.1h1.3v1.3h-1.3zM89.4 95.4h1.3v1.3h-1.3zM108.6 86.1h1.3v1.3h-1.3zM114.6 91.2h1.3v1.3h-1.3zM90.8 90.7h1.3v1.3h-1.3zM126.2 90.6h1.3v1.3h-1.3zM124.4 94.9h1.3v1.3h-1.3zM119.7 94.7h1.3v1.3h-1.3zM94.5 92.6h1.3v1.3h-1.3zM106.6 88.8h1.3v1.3h-1.3zM124.9 93.5h1.3v1.3h-1.3zM108.2 89.8h1.3v1.3h-1.3zM98.9 89.6h1.3v1.3h-1.3zM107.7 88.4h1.3v1.3h-1.3zM124.8 89.2h1.3v1.3h-1.3zM102.1 91.6h1.3v1.3h-1.3zM108.1 94.4h1.3v1.3h-1.3zM128.7 91.3h1.3v1.3h-1.3zM135.0 88.9h1.3v1.3h-1.3zM130.9 88.7h1.3v1.3h-1.3zM129.9 88.1h1.3v1.3h-1.3zM119.1 90.6h1.3v1.3h-1.3zM110.8 90.7h1.3v1.3h-1.3zM128.5 84.0h1.3v1.3h-1.3zM102.5 95.4h1.3v1.3h-1.3zM105.3 92.6h1.3v1.3h-1.3zM92.8 87.8h1.3v1.3h-1.3zM116.1 92.8h1.3v1.3h-1.3zM116.2 92.3h1.3v1.3h-1.3zM111.4 94.1h1.3v1.3h-1.3zM82.9 93.9h1.3v1.3h-1.3zM129.0 92.3h1.3v1.3h-1.3zM101.6 90.2h1.3v1.3h-1.3zM95.6 88.9h1.3v1.3h-1.3zM112.7 87.9h1.3v1.3h-1.3zM129.4 87.3h1.3v1.3h-1.3zM122.1 89.3h1.3v1.3h-1.3zM94.8 91.0h1.3v1.3h-1.3zM115.8 83.3h1.3v1.3h-1.3zM132.2 90.1h1.3v1.3h-1.3zM113.3 94.2h1.3v1.3h-1.3zM85.2 89.8h1.3v1.3h-1.3zM114.5 91.2h1.3v1.3h-1.3zM134.1 94.6h1.3v1.3h-1.3zM82.9 91.8h1.3v1.3h-1.3zM100.9 91.2h1.3v1.3h-1.3zM89.9 91.7h1.3v1.3h-1.3zM116.2 86.0h1.3v1.3h-1.3zM101.6 91.9h1.3v1.3h-1.3zM121.2 87.5h1.3v1.3h-1.3zM98.5 86.7h1.3v1.3h-1.3zM109.0 94.2h1.3v1.3h-1.3zM109.6 92.8h1.3v1.3h-1.3zM127.5 96.6h1.3v1.3h-1.3zM97.5 88.8h1.3v1.3h-1.3zM104.1 91.5h1.3v1.3h-1.3zM133.4 83.9h1.3v1.3h-1.3zM102.4 88.5h1.3v1.3h-1.3zM109.6 96.5h1.3v1.3h-1.3zM128.2 89.5h1.3v1.3h-1.3zM103.4 92.2h1.3v1.3h-1.3zM112.2 90.6h1.3v1.3h-1.3zM135.4 88.0h1.3v1.3h-1.3zM90.0 89.5h1.3v1.3h-1.3zM91.0 92.9h1.3v1.3h-1.3zM129.3 99.0h1.3v1.3h-1.3zM112.7 86.9h1.3v1.3h-1.3zM84.4 94.0h1.3v1.3h-1.3zM134.4 92.0h1.3v1.3h-1.3zM100.2 94.7h1.3v1.3h-1.3zM84.3 90.3h1.3v1.3h-1.3zM125.1 90.8h1.3v1.3h-1.3zM112.3 86.8h1.3v1.3h-1.3zM120.5 92.9h1.3v1.3h-1.3zM103.7 94.3h1.3v1.3h-1.3zM88.8 88.2h1.3v1.3h-1.3zM90.4 88.2h1.3v1.3h-1.3zM129.7 94.4h1.3v1.3h-1.3zM92.9 93.1h1.3v1.3h-1.3zM124.0 91.9h1.3v1.3h-1.3zM126.9 92.6h1.3v1.3h-1.3zM102.1 91.3h1.3v1.3h-1.3zM129.9 85.8h1.3v1.3h-1.3zM101.1 92.8h1.3v1.3h-1.3zM127.2 87.3h1.3v1.3h-1.3zM97.2 95.3h1.3v1.3h-1.3zM132.4 94.7h1.3v1.3h-1.3zM98.9 87.0h1.3v1.3h-1.3zM86.5 89.7h1.3v1.3h-1.3zM116.0 92.1h1.3v1.3h-1.3zM82.6 88.4h1.3v1.3h-1.3zM100.7 87.2h1.3v1.3h-1.3zM91.8 93.8h1.3v1.3h-1.3zM84.7 94.9h1.3v1.3h-1.3zM105.6 88.5h1.3v1.3h-1.3zM124.9 96.0h1.3v1.3h-1.3zM128.0 94.2h1.3v1.3h-1.3zM103.8 84.8h1.3v1.3h-1.3zM90.6 96.0h1.3v1.3h-1.3zM117.0 87.2h1.3v1.3h-1.3zM117.2 91.5h1.3v1.3h-1.3zM113.8 90.1h1.3v1.3h-1.3zM123.7 89.0h1.3v1.3h-1.3zM106.5 91.4h1.3v1.3h-1.3zM123.4 93.5h1.3v1.3h-1.3zM132.7 95.8h1.3v1.3h-1.3zM135.0 86.9h1.3v1.3h-1.3zM135.5 85.8h1.3v1.3h-1.3zM86.5 90.1h1.3v1.3h-1.3zM83.7 95.2h1.3v1.3h-1.3zM134.2 94.6h1.3v1.3h-1.3zM108.1 93.4h1.3v1.3h-1.3zM120.3 90.2h1.3v1.3h-1.3zM117.1 93.4h1.3v1.3h-1.3zM121.4 93.7h1.3v1.3h-1.3zM111.1 90.2h1.3v1.3h-1.3zM127.4 87.4h1.3v1.3h-1.3zM114.5 85.4h1.3v1.3h-1.3zM129.1 88.4h1.3v1.3h-1.3zM117.6 96.5h1.3v1.3h-1.3zM129.9 91.2h1.3v1.3h-1.3zM111.2 92.8h1.3v1.3h-1.3zM105.2 88.3h1.3v1.3h-1.3zM119.4 97.3h1.3v1.3h-1.3zM130.2 87.7h1.3v1.3h-1.3zM117.6 100.9h1.3v1.3h-1.3zM90.6 85.7h1.3v1.3h-1.3zM97.6 89.6h1.3v1.3h-1.3zM127.5 95.0h1.3v1.3h-1.3zM130.6 90.5h1.3v1.3h-1.3zM103.4 90.5h1.3v1.3h-1.3zM120.0 92.7h1.3v1.3h-1.3zM129.6 89.9h1.3v1.3h-1.3zM126.2 92.9h1.3v1.3h-1.3zM136.7 86.5h1.3v1.3h-1.3zM122.5 82.0h1.3v1.3h-1.3zM110.6 95.2h1.3v1.3h-1.3zM135.5 85.8h1.3v1.3h-1.3zM120.6 88.9h1.3v1.3h-1.3zM83.3 96.8h1.3v1.3h-1.3zM84.9 96.5h1.3v1.3h-1.3zM106.0 84.7h1.3v1.3h-1.3zM94.1 89.4h1.3v1.3h-1.3zM100.4 93.6h1.3v1.3h-1.3zM122.9 88.3h1.3v1.3h-1.3zM89.8 90.4h1.3v1.3h-1.3zM134.6 87.4h1.3v1.3h-1.3zM105.4 89.2h1.3v1.3h-1.3zM93.1 93.5h1.3v1.3h-1.3zM116.7 93.1h1.3v1.3h-1.3zM109.6 94.0h1.3v1.3h-1.3zM129.0 91.9h1.3v1.3h-1.3zM132.7 93.4h1.3v1.3h-1.3zM121.3 90.4h1.3v1.3h-1.3zM99.5 92.4h1.3v1.3h-1.3zM92.4 94.2h1.3v1.3h-1.3zM103.3 92.8h1.3v1.3h-1.3zM122.1 94.1h1.3v1.3h-1.3zM95.0 90.9h1.3v1.3h-1.3zM93.8 93.8h1.3v1.3h-1.3zM113.1 96.5h1.3v1.3h-1.3zM91.3 88.2h1.3v1.3h-1.3zM108.7 93.0h1.3v1.3h-1.3zM123.4 94.9h1.3v1.3h-1.3zM109.5 85.9h1.3v1.3h-1.3zM123.1 100.0h1.3v1.3h-1.3zM110.6 90.6h1.3v1.3h-1.3zM128.6 93.9h1.3v1.3h-1.3zM108.2 94.7h1.3v1.3h-1.3zM107.3 84.0h1.3v1.3h-1.3zM100.5 87.6h1.3v1.3h-1.3zM104.3 93.5h1.3v1.3h-1.3zM112.0 87.6h1.3v1.3h-1.3zM131.8 95.2h1.3v1.3h-1.3zM126.1 91.4h1.3v1.3h-1.3zM110.6 90.5h1.3v1.3h-1.3zM119.5 92.8h1.3v1.3h-1.3zM115.6 91.5h1.3v1.3h-1.3zM111.0 91.5h1.3v1.3h-1.3zM112.6 92.0h1.3v1.3h-1.3zM83.8 86.6h1.3v1.3h-1.3zM120.6 88.8h1.3v1.3h-1.3zM118.5 96.3h1.3v1.3h-1.3zM126.3 90.7h1.3v1.3h-1.3zM105.1 95.1h1.3v1.3h-1.3zM107.4 90.7h1.3v1.3h-1.3zM93.7 92.5h1.3v1.3h-1.3zM105.1 91.9h1.3v1.3h-1.3zM101.4 96.0h1.3v1.3h-1.3zM117.3 92.6h1.3v1.3h-1.3zM113.8 95.9h1.3v1.3h-1.3zM133.7 91.7h1.3v1.3h-1.3zM111.1 84.1h1.3v1.3h-1.3zM112.3 95.5h1.3v1.3h-1.3zM106.6 92.3h1.3v1.3h-1.3zM85.7 87.7h1.3v1.3h-1.3zM108.1 93.3h1.3v1.3h-1.3zM136.9 95.2h1.3v1.3h-1.3zM99.1 93.5h1.3v1.3h-1.3zM100.5 84.4h1.3v1.3h-1.3zM130.0 94.4h1.3v1.3h-1.3zM91.2 90.0h1.3v1.3h-1.3zM120.1 96.0h1.3v1.3h-1.3zM115.2 90.9h1.3v1.3h-1.3zM108.4 96.7h1.3v1.3h-1.3zM107.5 93.8h1.3v1.3h-1.3zM129.0 90.0h1.3v1.3h-1.3zM119.9 90.1h1.3v1.3h-1.3zM99.1 88.4h1.3v1.3h-1.3zM120.0 90.2h1.3v1.3h-1.3zM89.5 90.9h1.3v1.3h-1.3zM120.4 95.5h1.3v1.3h-1.3zM88.1 92.0h1.3v1.3h-1.3zM119.8 89.9h1.3v1.3h-1.3zM102.0 96.1h1.3v1.3h-1.3zM127.3 100.8h1.3v1.3h-1.3zM120.8 93.6h1.3v1.3h-1.3zM82.3 95.0h1.3v1.3h-1.3zM131.2 93.3h1.3v1.3h-1.3zM101.2 97.8h1.3v1.3h-1.3zM91.0 91.4h1.3v1.3h-1.3zM95.0 92.1h1.3v1.3h-1.3zM130.3 86.7h1.3v1.3h-1.3zM126.9 96.3h1.3v1.3h-1.3zM125.1 92.1h1.3v1.3h-1.3zM113.3 92.4h1.3v1.3h-1.3zM111.0 86.0h1.3v1.3h-1.3zM129.6 90.4h1.3v1.3h-1.3zM113.3 88.9h1.3v1.3h-1.3zM131.0 86.9h1.3v1.3h-1.3zM87.3 85.6h1.3v1.3h-1.3zM94.6 88.6h1.3v1.3h-1.3zM93.2 95.3h1.3v1.3h-1.3zM86.9 90.6h1.3v1.3h-1.3zM92.3 87.5h1.3v1.3h-1.3zM135.4 96.8h1.3v1.3h-1.3zM131.6 92.1h1.3v1.3h-1.3zM122.8 88.8h1.3v1.3h-1.3zM118.1 91.9h1.3v1.3h-1.3zM90.9 95.6h1.3v1.3h-1.3zM103.5 90.1h1.3v1.3h-1.3zM107.1 93.1h1.3v1.3h-1.3zM121.7 91.0h1.3v1.3h-1.3zM89.9 91.3h1.3v1.3h-1.3zM119.0 94.1h1.3v1.3h-1.3zM116.7 90.6h1.3v1.3h-1.3zM127.0 95.6h1.3v1.3h-1.3zM84.9 88.4h1.3v1.3h-1.3zM124.0 92.9h1.3v1.3h-1.3zM129.1 92.9h1.3v1.3h-1.3zM131.1 88.2h1.3v1.3h-1.3zM123.6 83.8h1.3v1.3h-1.3zM86.0 89.6h1.3v1.3h-1.3zM100.6 91.2h1.3v1.3h-1.3zM134.6 86.2h1.3v1.3h-1.3zM130.0 89.1h1.3v1.3h-1.3zM105.3 88.4h1.3v1.3h-1.3zM133.9 91.2h1.3v1.3h-1.3zM82.8 94.1h1.3v1.3h-1.3zM86.8 93.0h1.3v1.3h-1.3zM102.6 88.8h1.3v1.3h-1.3zM134.2 91.8h1.3v1.3h-1.3zM101.2 98.7h1.3v1.3h-1.3zM128.7 95.5h1.3v1.3h-1.3zM131.5 90.0h1.3v1.3h-1.3zM99.6 90.6h1.3v1.3h-1.3zM122.8 97.4h1.3v1.3h-1.3zM133.4 83.7h1.3v1.3h-1.3zM84.6 93.1h1.3v1.3h-1.3zM134.6 92.6h1.3v1.3h-1.3zM132.8 96.6h1.3v1.3h-1.3zM129.8 86.0h1.3v1.3h-1.3zM105.6 88.6h1.3v1.3h-1.3zM118.0 92.3h1.3v1.3h-1.3zM125.7 93.2h1.3v1.3h-1.3zM111.8 92.0h1.3v1.3h-1.3zM91.5 90.2h1.3v1.3h-1.3zM122.1 89.4h1.3v1.3h-1.3zM120.5 91.2h1.3v1.3h-1.3zM112.0 91.4h1.3v1.3h-1.3zM116.9 94.1h1.3v1.3h-1.3zM136.5 89.9h1.3v1.3h-1.3zM117.5 93.4h1.3v1.3h-1.3zM119.8 89.6h1.3v1.3h-1.3zM126.9 88.1h1.3v1.3h-1.3zM97.6 95.6h1.3v1.3h-1.3zM135.1 84.6h1.3v1.3h-1.3zM111.2 92.2h1.3v1.3h-1.3zM83.8 96.6h1.3v1.3h-1.3zM123.0 89.6h1.3v1.3h-1.3zM84.2 98.4h1.3v1.3h-1.3zM133.5 88.6h1.3v1.3h-1.3zM114.1 92.7h1.3v1.3h-1.3zM136.6 93.9h1.3v1.3h-1.3zM109.4 88.5h1.3v1.3h-1.3zM88.6 89.4h1.3v1.3h-1.3zM86.6 90.2h1.3v1.3h-1.3zM107.8 94.5h1.3v1.3h-1.3zM111.6 92.6h1.3v1.3h-1.3zM127.2 89.2h1.3v1.3h-1.3zM98.6 96.3h1.3v1.3h-1.3zM100.1 89.9h1.3v1.3h-1.3zM86.2 94.8h1.3v1.3h-1.3zM111.4 94.3h1.3v1.3h-1.3zM115.4 89.1h1.3v1.3h-1.3zM112.3 90.3h1.3v1.3h-1.3zM83.2 91.0h1.3v1.3h-1.3zM98.0 92.0h1.3v1.3h-1.3zM113.9 90.8h1.3v1.3h-1.3zM89.9 93.4h1.3v1.3h-1.3zM119.4 91.4h1.3v1.3h-1.3zM83.6 85.7h1.3v1.3h-1.3zM117.8 92.8h1.3v1.3h-1.3zM104.1 95.0h1.3v1.3h-1.3zM94.0 88.8h1.3v1.3h-1.3zM92.7 92.7h1.3v1.3h-1.3zM101.1 89.2h1.3v1.3h-1.3zM123.1 88.3h1.3v1.3h-1.3zM92.7 89.8h1.3v1.3h-1.3zM84.1 86.9h1.3v1.3h-1.3zM124.7 93.7h1.3v1.3h-1.3zM87.4 89.8h1.3v1.3h-1.3zM129.8 92.6h1.3v1.3h-1.3zM104.2 85.5h1.3v1.3h-1.3zM115.5 91.0h1.3v1.3h-1.3zM82.3 91.6h1.3v1.3h-1.3zM114.1 90.3h1.3v1.3h-1.3zM111.3 95.8h1.3v1.3h-1.3zM117.9 86.0h1.3v1.3h-1.3zM106.9 93.6h1.3v1.3h-1.3zM128.1 93.4h1.3v1.3h-1.3zM102.5 92.1h1.3v1.3h-1.3zM92.9 87.9h1.3v1.3h-1.3zM108.9 97.8h1.3v1.3h-1.3zM113.9 87.5h1.3v1.3h-1.3zM93.1 94.9h1.3v1.3h-1.3zM100.9 91.4h1.3v1.3h-1.3zM97.2 91.4h1.3v1.3h-1.3zM103.4 92.4h1.3v1.3h-1.3zM103.8 95.6h1.3v1.3h-1.3zM111.7 87.7h1.3v1.3h-1.3zM134.6 92.5h1.3v1.3h-1.3zM135.5 95.6h1.3v1.3h-1.3zM83.1 92.3h1.3v1.3h-1.3zM91.4 93.2h1.3v1.3h-1.3zM108.8 83.8h1.3v1.3h-1.3zM102.2 84.4h1.3v1.3h-1.3zM134.2 91.9h1.3v1.3h-1.3zM117.8 92.8h1.3v1.3h-1.3zM127.9 89.2h1.3v1.3h-1.3zM110.3 89.2h1.3v1.3h-1.3zM132.0 88.0h1.3v1.3h-1.3zM116.0 98.6h1.3v1.3h-1.3zM95.1 93.7h1.3v1.3h-1.3zM116.9 95.6h1.3v1.3h-1.3zM113.5 91.3h1.3v1.3h-1.3zM120.5 95.1h1.3v1.3h-1.3zM106.8 96.1h1.3v1.3h-1.3zM92.6 93.7h1.3v1.3h-1.3zM131.4 88.6h1.3v1.3h-1.3zM123.7 94.8h1.3v1.3h-1.3zM113.4 94.2h1.3v1.3h-1.3zM135.7 94.7h1.3v1.3h-1.3zM107.9 97.8h1.3v1.3h-1.3zM117.3 95.2h1.3v1.3h-1.3zM99.8 93.7h1.3v1.3h-1.3zM120.7 90.5h1.3v1.3h-1.3zM98.5 92.0h1.3v1.3h-1.3zM113.8 93.8h1.3v1.3h-1.3zM123.3 87.3h1.3v1.3h-1.3zM112.2 98.3h1.3v1.3h-1.3zM108.3 88.2h1.3v1.3h-1.3zM123.7 88.3h1.3v1.3h-1.3zM132.5 92.0h1.3v1.3h-1.3zM125.6 90.7h1.3v1.3h-1.3zM92.2 91.3h1.3v1.3h-1.3zM92.2 90.3h1.3v1.3h-1.3zM102.1 93.3h1.3v1.3h-1.3zM115.0 96.2h1.3v1.3h-1.3zM115.9 92.6h1.3v1.3h-1.3zM112.0 91.0h1.3v1.3h-1.3zM88.9 90.4h1.3v1.3h-1.3zM124.0 94.9h1.3v1.3h-1.3zM122.1 85.3h1.3v1.3h-1.3zM104.1 90.5h1.3v1.3h-1.3zM100.1 84.4h1.3v1.3h-1.3zM123.4 93.6h1.3v1.3h-1.3zM108.4 88.6h1.3v1.3h-1.3zM98.4 93.9h1.3v1.3h-1.3zM110.6 99.7h1.3v1.3h-1.3zM94.2 92.1h1.3v1.3h-1.3zM95.8 92.4h1.3v1.3h-1.3zM108.8 90.3h1.3v1.3h-1.3zM94.4 92.4h1.3v1.3h-1.3zM92.4 93.5h1.3v1.3h-1.3zM103.3 96.8h1.3v1.3h-1.3zM118.1 85.0h1.3v1.3h-1.3zM98.7 90.0h1.3v1.3h-1.3zM101.3 93.7h1.3v1.3h-1.3zM126.6 88.4h1.3v1.3h-1.3zM109.3 96.7h1.3v1.3h-1.3zM82.7 87.9h1.3v1.3h-1.3zM120.0 93.0h1.3v1.3h-1.3zM95.6 90.6h1.3v1.3h-1.3zM124.6 93.6h1.3v1.3h-1.3zM84.3 93.2h1.3v1.3h-1.3zM119.0 87.3h1.3v1.3h-1.3zM103.6 90.0h1.3v1.3h-1.3zM118.6 86.3h1.3v1.3h-1.3zM125.7 95.7h1.3v1.3h-1.3zM82.8 90.7h1.3v1.3h-1.3zM94.4 93.7h1.3v1.3h-1.3zM92.9 94.9h1.3v1.3h-1.3zM117.6 92.7h1.3v1.3h-1.3zM95.5 86.1h1.3v1.3h-1.3zM111.1 96.4h1.3v1.3h-1.3zM104.7 90.0h1.3v1.3h-1.3zM83.4 93.8h1.3v1.3h-1.3zM108.2 86.9h1.3v1.3h-1.3zM126.7 93.4h1.3v1.3h-1.3zM105.3 90.5h1.3v1.3h-1.3zM116.3 95.5h1.3v1.3h-1.3zM129.2 91.9h1.3v1.3h-1.3zM96.9 86.8h1.3v1.3h-1.3zM125.7 88.6h1.3v1.3h-1.3zM127.7 88.3h1.3v1.3h-1.3zM86.9 86.4h1.3v1.3h-1.3zM95.3 94.9h1.3v1.3h-1.3zM96.0 88.3h1.3v1.3h-1.3zM102.7 88.2h1.3v1.3h-1.3zM86.2 92.6h1.3v1.3h-1.3zM110.2 90.5h1.3v1.3h-1.3zM127.6 92.2h1.3v1.3h-1.3zM91.7 100.2h1.3v1.3h-1.3zM127.6 95.9h1.3v1.3h-1.3zM94.5 96.5h1.3v1.3h-1.3zM92.8 86.5h1.3v1.3h-1.3zM124.4 96.7h1.3v1.3h-1.3zM102.4 95.1h1.3v1.3h-1.3zM95.5 94.7h1.3v1.3h-1.3zM116.1 89.8h1.3v1.3h-1.3zM103.5 96.0h1.3v1.3h-1.3zM131.7 86.6h1.3v1.3h-1.3zM113.1 93.4h1.3v1.3h-1.3zM136.9 88.0h1.3v1.3h-1.3zM114.6 94.2h1.3v1.3h-1.3zM121.8 94.9h1.3v1.3h-1.3zM96.4 92.3h1.3v1.3h-1.3zM122.5 86.0h1.3v1.3h-1.3zM114.1 86.8h1.3v1.3h-1.3zM107.6 92.2h1.3v1.3h-1.3zM112.3 88.9h1.3v1.3h-1.3zM100.8 92.2h1.3v1.3h-1.3zM111.9 92.4h1.3v1.3h-1.3zM84.2 95.9h1.3v1.3h-1.3zM93.4 91.4h1.3v1.3h-1.3zM83.6 92.4h1.3v1.3h-1.3zM108.5 87.4h1.3v1.3h-1.3zM132.6 88.3h1.3v1.3h-1.3zM103.8 89.8h1.3v1.3h-1.3zM96.4 90.4h1.3v1.3h-1.3zM85.2 96.0h1.3v1.3h-1.3zM121.0 87.5h1.3v1.3h-1.3zM132.0 91.2h1.3v1.3h-1.3zM126.2 82.5h1.3v1.3h-1.3zM90.1 88.8h1.3v1.3h-1.3zM111.8 93.9h1.3v1.3h-1.3zM124.4 89.4h1.3v1.3h-1.3zM119.7 88.2h1.3v1.3h-1.3zM134.0 93.1h1.3v1.3h-1.3zM99.2 92.3h1.3v1.3h-1.3zM91.6 93.7h1.3v1.3h-1.3zM93.1 85.1h1.3v1.3h-1.3zM85.5 89.2h1.3v1.3h-1.3zM115.3 92.2h1.3v1.3h-1.3zM134.2 86.9h1.3v1.3h-1.3zM116.9 92.4h1.3v1.3h-1.3zM88.1 93.3h1.3v1.3h-1.3zM99.9 91.1h1.3v1.3h-1.3zM114.5 90.8h1.3v1.3h-1.3zM98.2 91.4h1.3v1.3h-1.3zM118.7 90.8h1.3v1.3h-1.3zM122.5 92.4h1.3v1.3h-1.3zM87.0 92.0h1.3v1.3h-1.3zM136.8 93.5h1.3v1.3h-1.3zM113.8 85.8h1.3v1.3h-1.3zM114.8 92.7h1.3v1.3h-1.3zM132.8 92.1h1.3v1.3h-1.3zM110.4 94.2h1.3v1.3h-1.3zM96.1 89.6h1.3v1.3h-1.3zM84.4 88.5h1.3v1.3h-1.3zM109.0 95.6h1.3v1.3h-1.3zM121.7 95.5h1.3v1.3h-1.3zM122.0 92.8h1.3v1.3h-1.3zM92.1 95.2h1.3v1.3h-1.3zM120.8 97.8h1.3v1.3h-1.3zM135.8 91.4h1.3v1.3h-1.3zM127.1 89.8h1.3v1.3h-1.3zM107.0 86.8h1.3v1.3h-1.3zM113.1 88.0h1.3v1.3h-1.3zM111.9 91.3h1.3v1.3h-1.3zM89.1 94.1h1.3v1.3h-1.3zM134.9 92.7h1.3v1.3h-1.3zM115.9 96.4h1.3v1.3h-1.3zM124.4 88.7h1.3v1.3h-1.3zM109.7 90.7h1.3v1.3h-1.3zM87.3 90.8h1.3v1.3h-1.3zM82.8 90.5h1.3v1.3h-1.3zM91.0 91.8h1.3v1.3h-1.3zM87.6 94.2h1.3v1.3h-1.3zM94.7 90.3h1.3v1.3h-1.3zM126.6 88.9h1.3v1.3h-1.3zM96.5 89.5h1.3v1.3h-1.3zM131.3 91.9h1.3v1.3h-1.3zM104.7 92.3h1.3v1.3h-1.3zM120.3 90.8h1.3v1.3h-1.3zM105.9 90.0h1.3v1.3h-1.3zM112.8 90.5h1.3v1.3h-1.3zM106.4 86.0h1.3v1.3h-1.3zM123.4 89.6h1.3v1.3h-1.3zM89.9 91.4h1.3v1.3h-1.3zM88.9 91.1h1.3v1.3h-1.3zM94.4 90.8h1.3v1.3h-1.3zM136.4 93.8h1.3v1.3h-1.3zM86.8 87.9h1.3v1.3h-1.3zM102.6 92.0h1.3v1.3h-1.3zM110.0 94.1h1.3v1.3h-1.3zM130.4 95.0h1.3v1.3h-1.3zM89.3 95.0h1.3v1.3h-1.3zM90.1 85.0h1.3v1.3h-1.3zM97.1 90.7h1.3v1.3h-1.3zM116.3 95.4h1.3v1.3h-1.3zM102.3 88.9h1.3v1.3h-1.3zM98.6 91.3h1.3v1.3h-1.3zM118.2 86.1h1.3v1.3h-1.3zM118.3 88.7h1.3v1.3h-1.3zM135.3 88.3h1.3v1.3h-1.3zM87.9 95.3h1.3v1.3h-1.3zM132.4 92.7h1.3v1.3h-1.3zM105.9 94.5h1.3v1.3h-1.3zM110.7 89.4h1.3v1.3h-1.3zM122.6 95.2h1.3v1.3h-1.3zM105.4 89.6h1.3v1.3h-1.3zM134.0 87.3h1.3v1.3h-1.3zM112.6 94.2h1.3v1.3h-1.3zM114.7 96.2h1.3v1.3h-1.3zM116.3 93.2h1.3v1.3h-1.3zM131.2 94.8h1.3v1.3h-1.3zM113.4 87.5h1.3v1.3h-1.3zM122.9 91.6h1.3v1.3h-1.3zM119.7 92.1h1.3v1.3h-1.3zM103.6 89.7h1.3v1.3h-1.3zM92.8 92.5h1.3v1.3h-1.3zM112.8 83.9h1.3v1.3h-1.3zM112.5 96.1h1.3v1.3h-1.3zM98.9 91.0h1.3v1.3h-1.3zM126.0 92.0h1.3v1.3h-1.3zM82.1 91.4h1.3v1.3h-1.3zM89.7 90.1h1.3v1.3h-1.3zM95.9 91.0h1.3v1.3h-1.3zM104.3 93.2h1.3v1.3h-1.3zM85.4 92.8h1.3v1.3h-1.3zM98.4 92.0h1.3v1.3h-1.3zM86.0 88.5h1.3v1.3h-1.3zM128.3 88.0h1.3v1.3h-1.3zM84.0 90.1h1.3v1.3h-1.3zM135.8 90.0h1.3v1.3h-1.3zM90.9 92.0h1.3v1.3h-1.3zM130.6 99.9h1.3v1.3h-1.3zM127.6 92.4h1.3v1.3h-1.3zM83.2 91.5h1.3v1.3h-1.3zM110.8 93.2h1.3v1.3h-1.3zM99.5 90.6h1.3v1.3h-1.3zM108.8 83.6h1.3v1.3h-1.3zM97.6 88.4h1.3v1.3h-1.3zM101.3 90.1h1.3v1.3h-1.3zM99.5 88.2h1.3v1.3h-1.3zM112.3 92.4h1.3v1.3h-1.3zM136.1 94.5h1.3v1.3h-1.3zM87.2 92.8h1.3v1.3h-1.3zM97.8 96.2h1.3v1.3h-1.3zM109.8 90.7h1.3v1.3h-1.3zM91.3 89.5h1.3v1.3h-1.3zM94.3 90.4h1.3v1.3h-1.3zM136.7 86.6h1.3v1.3h-1.3zM100.9 89.2h1.3v1.3h-1.3zM135.2 91.4h1.3v1.3h-1.3zM120.4 90.0h1.3v1.3h-1.3zM126.5 89.6h1.3v1.3h-1.3zM128.1 92.7h1.3v1.3h-1.3zM129.7 92.8h1.3v1.3h-1.3zM111.5 91.8h1.3v1.3h-1.3zM124.7 83.1h1.3v1.3h-1.3zM90.7 94.0h1.3v1.3h-1.3zM116.6 96.3h1.3v1.3h-1.3zM129.8 90.9h1.3v1.3h-1.3zM115.6 88.4h1.3v1.3h-1.3zM115.7 100.9h1.3v1.3h-1.3zM110.2 88.9h1.3v1.3h-1.3zM106.9 89.1h1.3v1.3h-1.3zM106.5 87.9h1.3v1.3h-1.3zM92.3 93.5h1.3v1.3h-1.3zM104.6 95.3h1.3v1.3h-1.3zM110.4 91.2h1.3v1.3h-1.3zM96.6 89.3h1.3v1.3h-1.3zM125.3 90.2h1.3v1.3h-1.3zM131.6 94.5h1.3v1.3h-1.3zM82.8 89.9h1.3v1.3h-1.3zM136.0 93.0h1.3v1.3h-1.3zM133.4 94.9h1.3v1.3h-1.3zM113.3 89.0h1.3v1.3h-1.3zM115.3 90.5h1.3v1.3h-1.3zM129.6 85.2h1.3v1.3h-1.3zM115.3 96.5h1.3v1.3h-1.3zM105.0 93.7h1.3v1.3h-1.3zM110.3 91.6h1.3v1.3h-1.3zM118.8 83.5h1.3v1.3h-1.3zM116.3 92.0h1.3v1.3h-1.3zM121.5 91.4h1.3v1.3h-1.3zM87.5 88.8h1.3v1.3h-1.3zM102.0 90.5h1.3v1.3h-1.3zM127.9 87.9h1.3v1.3h-1.3zM116.6 98.2h1.3v1.3h-1.3zM131.7 88.1h1.3v1.3h-1.3zM112.4 87.8h1.3v1.3h-1.3zM132.4 93.1h1.3v1.3h-1.3zM94.0 91.5h1.3v1.3h-1.3zM131.1 93.5h1.3v1.3h-1.3zM97.7 90.9h1.3v1.3h-1.3zM107.8 91.7h1.3v1.3h-1.3zM92.1 93.8h1.3v1.3h-1.3zM126.4 94.5h1.3v1.3h-1.3zM129.2 95.1h1.3v1.3h-1.3zM94.1 90.8h1.3v1.3h-1.3zM88.4 91.7h1.3v1.3h-1.3zM105.8 89.6h1.3v1.3h-1.3zM132.5 89.8h1.3v1.3h-1.3zM113.5 95.5h1.3v1.3h-1.3zM114.4 91.4h1.3v1.3h-1.3zM119.1 88.4h1.3v1.3h-1.3zM115.8 87.8h1.3v1.3h-1.3zM96.2 90.6h1.3v1.3h-1.3zM115.3 85.6h1.3v1.3h-1.3zM101.1 89.6h1.3v1.3h-1.3zM84.3 93.6h1.3v1.3h-1.3zM112.1 94.5h1.3v1.3h-1.3zM135.9 88.2h1.3v1.3h-1.3zM113.8 96.1h1.3v1.3h-1.3zM83.4 92.4h1.3v1.3h-1.3zM101.3 98.4h1.3v1.3h-1.3zM103.4 91.0h1.3v1.3h-1.3zM92.5 93.2h1.3v1.3h-1.3zM94.2 92.2h1.3v1.3h-1.3zM128.7 87.4h1.3v1.3h-1.3zM133.3 97.3h1.3v1.3h-1.3zM136.6 88.9h1.3v1.3h-1.3zM119.2 96.9h1.3v1.3h-1.3zM90.4 92.4h1.3v1.3h-1.3zM87.9 86.5h1.3v1.3h-1.3zM105.1 90.2h1.3v1.3h-1.3zM94.6 95.3h1.3v1.3h-1.3zM92.3 96.6h1.3v1.3h-1.3zM98.2 91.7h1.3v1.3h-1.3zM98.9 87.7h1.3v1.3h-1.3zM104.7 87.1h1.3v1.3h-1.3zM135.4 92.9h1.3v1.3h-1.3zM125.3 93.5h1.3v1.3h-1.3zM104.7 95.1h1.3v1.3h-1.3zM86.3 96.5h1.3v1.3h-1.3zM130.1 88.6h1.3v1.3h-1.3zM103.2 96.7h1.3v1.3h-1.3zM111.6 89.6h1.3v1.3h-1.3zM102.1 98.0h1.3v1.3h-1.3zM88.2 97.1h1.3v1.3h-1.3zM99.4 88.9h1.3v1.3h-1.3zM105.7 89.5h1.3v1.3h-1.3zM125.6 92.5h1.3v1.3h-1.3zM123.5 92.0h1.3v1.3h-1.3zM102.2 89.3h1.3v1.3h-1.3zM119.3 96.3h1.3v1.3h-1.3zM100.7 94.9h1.3v1.3h-1.3zM82.1 87.0h1.3v1.3h-1.3zM102.0 97.9h1.3v1.3h-1.3zM99.5 94.1h1.3v1.3h-1.3zM87.3 93.7h1.3v1.3h-1.3zM82.6 87.5h1.3v1.3h-1.3zM103.9 86.4h1.3v1.3h-1.3zM133.7 87.3h1.3v1.3h-1.3zM108.6 91.4h1.3v1.3h-1.3zM130.9 87.8h1.3v1.3h-1.3zM98.2 91.1h1.3v1.3h-1.3zM109.6 88.3h1.3v1.3h-1.3zM131.5 89.2h1.3v1.3h-1.3zM83.6 90.0h1.3v1.3h-1.3zM102.1 92.0h1.3v1.3h-1.3zM128.8 94.6h1.3v1.3h-1.3zM116.7 90.8h1.3v1.3h-1.3zM94.5 92.2h1.3v1.3h-1.3zM115.4 91.6h1.3v1.3h-1.3zM113.5 94.0h1.3v1.3h-1.3zM92.8 86.1h1.3v1.3h-1.3zM85.9 91.3h1.3v1.3h-1.3zM126.1 88.8h1.3v1.3h-1.3zM112.4 92.4h1.3v1.3h-1.3zM101.6 89.4h1.3v1.3h-1.3zM130.9 94.6h1.3v1.3h-1.3zM105.3 94.2h1.3v1.3h-1.3zM133.6 93.3h1.3v1.3h-1.3zM90.9 96.2h1.3v1.3h-1.3zM106.9 90.0h1.3v1.3h-1.3zM122.8 93.2h1.3v1.3h-1.3zM106.1 90.3h1.3v1.3h-1.3zM88.5 84.2h1.3v1.3h-1.3zM133.0 95.2h1.3v1.3h-1.3zM83.9 90.5h1.3v1.3h-1.3zM96.2 93.1h1.3v1.3h-1.3zM97.2 92.7h1.3v1.3h-1.3zM112.6 98.4h1.3v1.3h-1.3zM107.7 96.2h1.3v1.3h-1.3zM96.0 96.1h1.3v1.3h-1.3zM126.3 92.0h1.3v1.3h-1.3zM129.1 88.1h1.3v1.3h-1.3zM83.1 88.4h1.3v1.3h-1.3zM103.7 93.6h1.3v1.3h-1.3zM127.5 91.2h1.3v1.3h-1.3zM117.3 89.6h1.3v1.3h-1.3zM104.1 87.8h1.3v1.3h-1.3zM124.8 90.7h1.3v1.3h-1.3zM82.1 87.2h1.3v1.3h-1.3zM106.1 91.4h1.3v1.3h-1.3zM110.4 92.9h1.3v1.3h-1.3zM103.4 94.4h1.3v1.3h-1.3zM129.6 91.3h1.3v1.3h-1.3zM90.3 88.2h1.3v1.3h-1.3zM83.6 90.4h1.3v1.3h-1.3zM87.3 84.9h1.3v1.3h-1.3zM83.6 88.4h1.3v1.3h-1.3zM92.7 93.5h1.3v1.3h-1.3zM119.8 86.7h1.3v1.3h-1.3zM111.6 91.6h1.3v1.3h-1.3zM84.5 95.5h1.3v1.3h-1.3zM129.1 92.4h1.3v1.3h-1.3zM111.6 91.4h1.3v1.3h-1.3zM86.6 88.5h1.3v1.3h-1.3zM105.1 96.6h1.3v1.3h-1.3zM119.2 90.9h1.3v1.3h-1.3zM86.2 100.4h1.3v1.3h-1.3zM116.0 92.4h1.3v1.3h-1.3zM98.4 94.9h1.3v1.3h-1.3zM82.2 96.7h1.3v1.3h-1.3zM126.0 90.3h1.3v1.3h-1.3zM82.0 89.4h1.3v1.3h-1.3zM92.3 86.6h1.3v1.3h-1.3zM86.1 90.1h1.3v1.3h-1.3zM101.7 88.0h1.3v1.3h-1.3zM132.5 92.9h1.3v1.3h-1.3zM123.2 89.6h1.3v1.3h-1.3zM83.1 91.3h1.3v1.3h-1.3zM118.9 91.7h1.3v1.3h-1.3zM92.5 88.4h1.3v1.3h-1.3zM94.5 91.4h1.3v1.3h-1.3zM123.5 91.8h1.3v1.3h-1.3zM114.5 96.4h1.3v1.3h-1.3zM132.3 92.1h1.3v1.3h-1.3zM122.7 93.0h1.3v1.3h-1.3zM101.9 92.1h1.3v1.3h-1.3zM87.0 88.5h1.3v1.3h-1.3zM132.2 91.9h1.3v1.3h-1.3zM136.6 81.6h1.3v1.3h-1.3zM92.2 93.8h1.3v1.3h-1.3zM96.6 92.4h1.3v1.3h-1.3zM125.2 90.5h1.3v1.3h-1.3zM119.6 89.0h1.3v1.3h-1.3zM102.5 97.9h1.3v1.3h-1.3zM88.2 89.2h1.3v1.3h-1.3zM112.4 95.0h1.3v1.3h-1.3zM135.1 97.6h1.3v1.3h-1.3zM122.4 91.6h1.3v1.3h-1.3zM102.3 89.2h1.3v1.3h-1.3zM136.7 87.2h1.3v1.3h-1.3zM108.7 96.4h1.3v1.3h-1.3zM129.4 98.0h1.3v1.3h-1.3zM132.4 89.5h1.3v1.3h-1.3zM101.9 95.4h1.3v1.3h-1.3zM130.1 95.9h1.3v1.3h-1.3zM105.1 87.8h1.3v1.3h-1.3zM134.8 95.0h1.3v1.3h-1.3zM88.8 93.8h1.3v1.3h-1.3zM120.6 85.6h1.3v1.3h-1.3zM125.9 85.6h1.3v1.3h-1.3zM114.3 88.2h1.3v1.3h-1.3zM130.0 92.5h1.3v1.3h-1.3zM116.0 91.0h1.3v1.3h-1.3zM135.8 90.9h1.3v1.3h-1.3zM103.6 92.0h1.3v1.3h-1.3zM114.2 91.1h1.3v1.3h-1.3zM82.4 99.1h1.3v1.3h-1.3zM98.3 92.4h1.3v1.3h-1.3zM92.0 88.9h1.3v1.3h-1.3zM98.8 93.4h1.3v1.3h-1.3zM129.5 96.8h1.3v1.3h-1.3zM94.6 95.7h1.3v1.3h-1.3zM104.0 85.9h1.3v1.3h-1.3zM103.9 93.5h1.3v1.3h-1.3zM119.6 89.5h1.3v1.3h-1.3zM134.2 89.0h1.3v1.3h-1.3zM112.0 90.3h1.3v1.3h-1.3zM113.5 89.0h1.3v1.3h-1.3zM83.2 91.7h1.3v1.3h-1.3zM127.9 96.8h1.3v1.3h-1.3zM97.7 91.5h1.3v1.3h-1.3zM98.8 95.8h1.3v1.3h-1.3zM92.9 92.8h1.3v1.3h-1.3zM89.9 88.0h1.3v1.3h-1.3zM99.6 90.6h1.3v1.3h-1.3zM95.7 86.0h1.3v1.3h-1.3zM135.1 93.8h1.3v1.3h-1.3zM110.1 90.3h1.3v1.3h-1.3zM122.6 93.4h1.3v1.3h-1.3zM93.0 93.9h1.3v1.3h-1.3zM109.1 95.4h1.3v1.3h-1.3zM85.1 91.7h1.3v1.3h-1.3zM96.7 91.4h1.3v1.3h-1.3zM127.7 92.5h1.3v1.3h-1.3zM133.5 88.6h1.3v1.3h-1.3zM105.7 86.4h1.3v1.3h-1.3zM88.2 88.4h1.3v1.3h-1.3zM92.1 93.0h1.3v1.3h-1.3zM122.9 89.2h1.3v1.3h-1.3zM106.8 87.6h1.3v1.3h-1.3zM117.4 99.1h1.3v1.3h-1.3zM86.4 90.8h1.3v1.3h-1.3zM133.9 93.9h1.3v1.3h-1.3zM117.1 92.2h1.3v1.3h-1.3zM88.8 95.0h1.3v1.3h-1.3zM82.4 87.9h1.3v1.3h-1.3zM101.2 90.7h1.3v1.3h-1.3zM127.8 92.6h1.3v1.3h-1.3zM119.0 84.5h1.3v1.3h-1.3zM132.9 93.4h1.3v1.3h-1.3zM122.0 88.3h1.3v1.3h-1.3zM93.3 91.6h1.3v1.3h-1.3zM106.1 91.5h1.3v1.3h-1.3zM96.7 87.6h1.3v1.3h-1.3zM83.9 95.4h1.3v1.3h-1.3zM119.6 90.7h1.3v1.3h-1.3zM109.1 92.1h1.3v1.3h-1.3zM123.3 94.5h1.3v1.3h-1.3zM131.6 96.1h1.3v1.3h-1.3zM94.2 93.8h1.3v1.3h-1.3zM102.6 90.1h1.3v1.3h-1.3zM119.3 93.2h1.3v1.3h-1.3zM118.0 94.7h1.3v1.3h-1.3zM99.1 96.7h1.3v1.3h-1.3zM121.3 94.4h1.3v1.3h-1.3zM94.1 89.9h1.3v1.3h-1.3zM111.1 93.3h1.3v1.3h-1.3zM129.1 88.3h1.3v1.3h-1.3zM117.1 86.1h1.3v1.3h-1.3zM103.9 91.3h1.3v1.3h-1.3zM120.2 93.0h1.3v1.3h-1.3zM100.7 94.7h1.3v1.3h-1.3zM131.1 92.1h1.3v1.3h-1.3zM117.0 90.3h1.3v1.3h-1.3zM123.2 92.0h1.3v1.3h-1.3zM112.9 94.2h1.3v1.3h-1.3zM125.3 95.8h1.3v1.3h-1.3zM93.1 95.6h1.3v1.3h-1.3zM136.7 89.7h1.3v1.3h-1.3zM95.7 88.5h1.3v1.3h-1.3zM90.8 88.2h1.3v1.3h-1.3zM89.1 97.7h1.3v1.3h-1.3zM135.0 95.3h1.3v1.3h-1.3zM84.2 86.9h1.3v1.3h-1.3zM112.8 93.1h1.3v1.3h-1.3zM114.5 90.2h1.3v1.3h-1.3zM82.6 89.3h1.3v1.3h-1.3zM121.1 99.0h1.3v1.3h-1.3zM135.1 91.0h1.3v1.3h-1.3zM97.7 91.8h1.3v1.3h-1.3zM84.8 86.1h1.3v1.3h-1.3zM107.0 92.5h1.3v1.3h-1.3zM96.2 97.0h1.3v1.3h-1.3zM112.4 87.1h1.3v1.3h-1.3zM131.9 89.5h1.3v1.3h-1.3zM87.8 90.2h1.3v1.3h-1.3zM88.2 87.5h1.3v1.3h-1.3zM133.3 88.6h1.3v1.3h-1.3zM97.0 95.4h1.3v1.3h-1.3zM88.5 92.2h1.3v1.3h-1.3zM121.7 90.0h1.3v1.3h-1.3zM135.5 91.5h1.3v1.3h-1.3zM100.9 92.7h1.3v1.3h-1.3zM87.7 93.1h1.3v1.3h-1.3zM91.3 91.4h1.3v1.3h-1.3zM84.2 96.2h1.3v1.3h-1.3zM86.4 91.4h1.3v1.3h-1.3zM82.6 88.9h1.3v1.3h-1.3zM128.0 92.7h1.3v1.3h-1.3zM125.4 91.4h1.3v1.3h-1.3zM96.4 91.7h1.3v1.3h-1.3zM90.3 91.7h1.3v1.3h-1.3zM118.7 93.9h1.3v1.3h-1.3zM105.8 96.8h1.3v1.3h-1.3zM108.3 87.7h1.3v1.3h-1.3zM108.1 81.9h1.3v1.3h-1.3zM105.1 91.0h1.3v1.3h-1.3zM105.7 95.5h1.3v1.3h-1.3zM125.6 97.8h1.3v1.3h-1.3zM119.1 92.1h1.3v1.3h-1.3zM127.5 88.0h1.3v1.3h-1.3zM93.3 96.7h1.3v1.3h-1.3zM123.2 91.4h1.3v1.3h-1.3zM113.5 87.1h1.3v1.3h-1.3zM84.1 90.4h1.3v1.3h-1.3zM112.8 91.9h1.3v1.3h-1.3zM96.2 90.9h1.3v1.3h-1.3zM110.5 87.1h1.3v1.3h-1.3zM90.5 94.6h1.3v1.3h-1.3zM115.7 85.2h1.3v1.3h-1.3zM117.0 91.4h1.3v1.3h-1.3zM119.7 89.6h1.3v1.3h-1.3zM101.8 99.1h1.3v1.3h-1.3zM115.9 87.9h1.3v1.3h-1.3zM122.2 97.4h1.3v1.3h-1.3zM113.6 98.5h1.3v1.3h-1.3zM102.2 88.1h1.3v1.3h-1.3zM96.5 90.2h1.3v1.3h-1.3zM97.7 93.8h1.3v1.3h-1.3zM87.9 91.7h1.3v1.3h-1.3zM129.2 88.0h1.3v1.3h-1.3zM82.5 88.4h1.3v1.3h-1.3zM129.8 99.9h1.3v1.3h-1.3zM136.7 98.7h1.3v1.3h-1.3zM117.4 90.0h1.3v1.3h-1.3zM135.1 93.8h1.3v1.3h-1.3zM113.4 94.5h1.3v1.3h-1.3zM125.0 89.4h1.3v1.3h-1.3zM129.9 90.2h1.3v1.3h-1.3zM109.9 91.1h1.3v1.3h-1.3zM136.2 91.0h1.3v1.3h-1.3zM83.5 96.4h1.3v1.3h-1.3zM107.8 91.0h1.3v1.3h-1.3zM117.5 83.1h1.3v1.3h-1.3zM126.8 92.7h1.3v1.3h-1.3zM82.7 88.6h1.3v1.3h-1.3zM124.9 92.8h1.3v1.3h-1.3zM99.6 86.4h1.3v1.3h-1.3zM112.7 98.3h1.3v1.3h-1.3zM100.3 91.4h1.3v1.3h-1.3zM93.3 91.9h1.3v1.3h-1.3zM93.0 91.2h1.3v1.3h-1.3zM103.2 82.4h1.3v1.3h-1.3zM85.5 101.6h1.3v1.3h-1.3zM130.6 92.7h1.3v1.3h-1.3zM130.2 90.5h1.3v1.3h-1.3zM99.8 87.3h1.3v1.3h-1.3zM101.3 89.0h1.3v1.3h-1.3zM105.3 91.6h1.3v1.3h-1.3zM134.0 87.1h1.3v1.3h-1.3zM108.7 90.9h1.3v1.3h-1.3zM109.8 95.4h1.3v1.3h-1.3zM122.5 88.2h1.3v1.3h-1.3zM133.0 91.7h1.3v1.3h-1.3zM128.1 85.8h1.3v1.3h-1.3zM104.8 89.3h1.3v1.3h-1.3zM130.0 89.6h1.3v1.3h-1.3zM127.1 86.3h1.3v1.3h-1.3zM134.7 92.2h1.3v1.3h-1.3zM99.4 85.0h1.3v1.3h-1.3zM110.2 88.1h1.3v1.3h-1.3zM86.4 91.9h1.3v1.3h-1.3zM102.2 92.8h1.3v1.3h-1.3zM85.5 91.2h1.3v1.3h-1.3zM82.7 89.2h1.3v1.3h-1.3zM84.8 97.9h1.3v1.3h-1.3zM84.1 92.9h1.3v1.3h-1.3zM102.5 95.1h1.3v1.3h-1.3zM97.3 85.8h1.3v1.3h-1.3zM82.8 94.4h1.3v1.3h-1.3zM132.4 87.2h1.3v1.3h-1.3zM120.1 91.6h1.3v1.3h-1.3zM119.2 86.5h1.3v1.3h-1.3zM116.2 93.4h1.3v1.3h-1.3zM121.9 93.2h1.3v1.3h-1.3zM133.4 92.6h1.3v1.3h-1.3zM99.3 93.3h1.3v1.3h-1.3zM112.9 92.9h1.3v1.3h-1.3zM134.4 90.0h1.3v1.3h-1.3zM108.6 95.5h1.3v1.3h-1.3zM101.5 92.8h1.3v1.3h-1.3zM104.0 92.1h1.3v1.3h-1.3zM98.2 90.9h1.3v1.3h-1.3zM112.1 88.9h1.3v1.3h-1.3zM119.7 94.7h1.3v1.3h-1.3zM107.3 95.2h1.3v1.3h-1.3zM85.2 93.8h1.3v1.3h-1.3zM101.1 91.4h1.3v1.3h-1.3zM94.6 88.7h1.3v1.3h-1.3zM92.4 96.0h1.3v1.3h-1.3zM92.0 92.0h1.3v1.3h-1.3zM122.2 93.0h1.3v1.3h-1.3zM116.4 92.1h1.3v1.3h-1.3zM115.9 91.0h1.3v1.3h-1.3zM128.5 93.4h1.3v1.3h-1.3zM116.0 89.5h1.3v1.3h-1.3zM100.4 91.7h1.3v1.3h-1.3zM115.9 94.1h1.3v1.3h-1.3zM129.6 95.0h1.3v1.3h-1.3zM104.3 87.8h1.3v1.3h-1.3zM88.7 90.5h1.3v1.3h-1.3zM112.1 97.9h1.3v1.3h-1.3zM133.0 95.1h1.3v1.3h-1.3zM132.6 93.3h1.3v1.3h-1.3zM115.1 89.5h1.3v1.3h-1.3zM123.1 86.4h1.3v1.3h-1.3zM116.9 93.6h1.3v1.3h-1.3zM85.9 98.7h1.3v1.3h-1.3zM131.7 93.7h1.3v1.3h-1.3zM121.6 85.1h1.3v1.3h-1.3zM132.2 90.4h1.3v1.3h-1.3zM123.4 90.9h1.3v1.3h-1.3zM95.9 90.4h1.3v1.3h-1.3zM100.3 88.6h1.3v1.3h-1.3zM126.0 92.2h1.3v1.3h-1.3zM136.7 86.4h1.3v1.3h-1.3zM99.3 95.4h1.3v1.3h-1.3zM125.0 91.2h1.3v1.3h-1.3zM92.7 94.7h1.3v1.3h-1.3zM111.3 88.7h1.3v1.3h-1.3zM89.2 98.3h1.3v1.3h-1.3zM131.3 91.9h1.3v1.3h-1.3zM119.9 93.8h1.3v1.3h-1.3zM119.4 94.3h1.3v1.3h-1.3zM102.2 95.2h1.3v1.3h-1.3zM115.4 87.8h1.3v1.3h-1.3zM87.5 93.3h1.3v1.3h-1.3zM86.9 92.6h1.3v1.3h-1.3zM128.0 89.8h1.3v1.3h-1.3zM98.9 89.9h1.3v1.3h-1.3zM108.9 88.1h1.3v1.3h-1.3zM95.9 90.9h1.3v1.3h-1.3zM125.5 93.4h1.3v1.3h-1.3zM82.9 95.7h1.3v1.3h-1.3zM95.8 86.9h1.3v1.3h-1.3zM93.0 93.1h1.3v1.3h-1.3zM94.0 88.0h1.3v1.3h-1.3zM111.8 97.8h1.3v1.3h-1.3zM111.8 88.3h1.3v1.3h-1.3zM112.2 91.0h1.3v1.3h-1.3zM84.1 88.2h1.3v1.3h-1.3zM110.4 93.6h1.3v1.3h-1.3zM99.1 93.3h1.3v1.3h-1.3zM111.5 93.9h1.3v1.3h-1.3zM82.6 92.1h1.3v1.3h-1.3zM129.0 97.0h1.3v1.3h-1.3zM83.1 90.9h1.3v1.3h-1.3zM88.9 91.6h1.3v1.3h-1.3zM121.0 87.4h1.3v1.3h-1.3zM101.5 94.0h1.3v1.3h-1.3zM114.5 90.0h1.3v1.3h-1.3zM113.2 91.1h1.3v1.3h-1.3zM134.7 94.3h1.3v1.3h-1.3zM132.8 94.9h1.3v1.3h-1.3zM113.3 86.9h1.3v1.3h-1.3zM99.6 98.0h1.3v1.3h-1.3zM124.7 96.5h1.3v1.3h-1.3zM96.2 94.9h1.3v1.3h-1.3zM87.1 88.3h1.3v1.3h-1.3zM99.7 91.9h1.3v1.3h-1.3zM127.4 97.4h1.3v1.3h-1.3zM116.5 85.0h1.3v1.3h-1.3zM104.3 94.1h1.3v1.3h-1.3zM90.0 86.9h1.3v1.3h-1.3zM131.0 85.1h1.3v1.3h-1.3zM127.4 87.6h1.3v1.3h-1.3zM117.1 93.0h1.3v1.3h-1.3zM111.4 96.1h1.3v1.3h-1.3zM128.6 88.8h1.3v1.3h-1.3zM115.7 92.7h1.3v1.3h-1.3zM95.5 92.0h1.3v1.3h-1.3zM114.6 97.1h1.3v1.3h-1.3zM114.7 86.5h1.3v1.3h-1.3zM96.7 89.2h1.3v1.3h-1.3zM110.6 90.0h1.3v1.3h-1.3zM109.1 98.5h1.3v1.3h-1.3zM84.7 88.3h1.3v1.3h-1.3zM127.1 87.6h1.3v1.3h-1.3zM106.6 88.5h1.3v1.3h-1.3zM130.9 91.7h1.3v1.3h-1.3zM101.1 89.4h1.3v1.3h-1.3zM95.8 91.8h1.3v1.3h-1.3zM118.9 93.8h1.3v1.3h-1.3zM102.2 91.4h1.3v1.3h-1.3zM128.4 94.6h1.3v1.3h-1.3zM90.1 94.7h1.3v1.3h-1.3zM108.3 87.9h1.3v1.3h-1.3zM91.0 98.1h1.3v1.3h-1.3zM116.1 91.3h1.3v1.3h-1.3zM111.3 88.7h1.3v1.3h-1.3zM83.5 89.1h1.3v1.3h-1.3zM92.3 90.5h1.3v1.3h-1.3zM123.7 92.8h1.3v1.3h-1.3zM112.4 95.4h1.3v1.3h-1.3zM114.1 85.2h1.3v1.3h-1.3zM118.3 91.7h1.3v1.3h-1.3zM122.4 93.0h1.3v1.3h-1.3zM130.1 92.9h1.3v1.3h-1.3zM105.2 98.1h1.3v1.3h-1.3zM114.1 97.1h1.3v1.3h-1.3zM126.8 86.3h1.3v1.3h-1.3zM127.5 89.2h1.3v1.3h-1.3zM126.8 85.1h1.3v1.3h-1.3zM96.6 90.4h1.3v1.3h-1.3zM93.1 90.9h1.3v1.3h-1.3zM133.6 93.0h1.3v1.3h-1.3zM93.2 94.7h1.3v1.3h-1.3zM94.9 90.1h1.3v1.3h-1.3zM122.8 92.2h1.3v1.3h-1.3zM94.1 93.7h1.3v1.3h-1.3zM108.1 94.6h1.3v1.3h-1.3zM104.2 99.8h1.3v1.3h-1.3zM128.8 89.7h1.3v1.3h-1.3zM113.5 95.1h1.3v1.3h-1.3zM95.4 95.4h1.3v1.3h-1.3zM112.3 94.6h1.3v1.3h-1.3zM93.9 95.7h1.3v1.3h-1.3zM133.7 91.9h1.3v1.3h-1.3zM88.1 86.9h1.3v1.3h-1.3zM93.5 86.2h1.3v1.3h-1.3zM107.9 93.4h1.3v1.3h-1.3zM131.0 88.8h1.3v1.3h-1.3zM93.3 90.4h1.3v1.3h-1.3zM85.6 94.3h1.3v1.3h-1.3zM128.1 84.6h1.3v1.3h-1.3zM131.1 93.6h1.3v1.3h-1.3zM103.7 87.9h1.3v1.3h-1.3zM114.7 93.6h1.3v1.3h-1.3zM134.4 90.4h1.3v1.3h-1.3zM121.4 92.0h1.3v1.3h-1.3zM90.2 92.1h1.3v1.3h-1.3zM130.6 89.4h1.3v1.3h-1.3zM120.8 97.5h1.3v1.3h-1.3zM92.7 90.0h1.3v1.3h-1.3zM88.3 93.7h1.3v1.3h-1.3zM100.4 90.1h1.3v1.3h-1.3zM111.8 87.4h1.3v1.3h-1.3zM107.6 88.4h1.3v1.3h-1.3zM90.2 88.0h1.3v1.3h-1.3zM87.5 88.7h1.3v1.3h-1.3zM125.9 96.2h1.3v1.3h-1.3zM110.8 94.7h1.3v1.3h-1.3zM126.7 87.4h1.3v1.3h-1.3zM116.7 93.7h1.3v1.3h-1.3zM95.5 89.3h1.3v1.3h-1.3zM116.8 88.5h1.3v1.3h-1.3zM95.5 88.0h1.3v1.3h-1.3zM123.2 89.2h1.3v1.3h-1.3zM112.6 88.1h1.3v1.3h-1.3zM98.2 84.3h1.3v1.3h-1.3zM89.8 97.3h1.3v1.3h-1.3zM109.1 88.2h1.3v1.3h-1.3zM107.2 88.8h1.3v1.3h-1.3zM87.5 91.8h1.3v1.3h-1.3zM102.0 90.2h1.3v1.3h-1.3zM103.9 95.0h1.3v1.3h-1.3zM127.4 97.9h1.3v1.3h-1.3zM83.3 92.6h1.3v1.3h-1.3zM94.8 91.7h1.3v1.3h-1.3zM91.6 89.6h1.3v1.3h-1.3zM84.3 91.7h1.3v1.3h-1.3zM137.0 92.5h1.3v1.3h-1.3zM100.9 90.5h1.3v1.3h-1.3zM93.1 94.2h1.3v1.3h-1.3zM105.9 95.0h1.3v1.3h-1.3zM99.3 87.3h1.3v1.3h-1.3zM84.3 91.5h1.3v1.3h-1.3zM86.3 86.6h1.3v1.3h-1.3zM126.5 94.2h1.3v1.3h-1.3zM104.0 98.5h1.3v1.3h-1.3zM83.6 92.1h1.3v1.3h-1.3zM96.8 87.9h1.3v1.3h-1.3zM96.5 89.2h1.3v1.3h-1.3zM115.7 94.4h1.3v1.3h-1.3zM83.9 96.6h1.3v1.3h-1.3zM83.9 88.6h1.3v1.3h-1.3zM128.9 97.1h1.3v1.3h-1.3zM132.5 84.8h1.3v1.3h-1.3zM103.0 95.7h1.3v1.3h-1.3zM110.3 93.0h1.3v1.3h-1.3zM96.5 96.1h1.3v1.3h-1.3zM130.3 88.0h1.3v1.3h-1.3zM112.5 98.5h1.3v1.3h-1.3zM102.9 89.9h1.3v1.3h-1.3zM108.9 89.3h1.3v1.3h-1.3zM106.6 91.4h1.3v1.3h-1.3zM89.4 92.3h1.3v1.3h-1.3zM126.1 94.6h1.3v1.3h-1.3zM93.4 91.8h1.3v1.3h-1.3zM87.1 84.1h1.3v1.3h-1.3zM105.9 91.1h1.3v1.3h-1.3zM134.2 90.9h1.3v1.3h-1.3zM83.1 97.8h1.3v1.3h-1.3zM91.6 91.3h1.3v1.3h-1.3zM108.5 90.3h1.3v1.3h-1.3zM108.6 93.1h1.3v1.3h-1.3zM123.0 86.7h1.3v1.3h-1.3zM85.7 93.8h1.3v1.3h-1.3zM110.4 95.4h1.3v1.3h-1.3zM132.3 97.6h1.3v1.3h-1.3zM125.1 89.1h1.3v1.3h-1.3zM96.8 87.7h1.3v1.3h-1.3zM119.0 89.4h1.3v1.3h-1.3zM97.4 89.0h1.3v1.3h-1.3zM123.5 92.4h1.3v1.3h-1.3zM83.3 94.4h1.3v1.3h-1.3zM87.9 85.4h1.3v1.3h-1.3zM128.2 93.7h1.3v1.3h-1.3zM85.4 96.1h1.3v1.3h-1.3zM97.5 83.6h1.3v1.3h-1.3zM116.8 87.5h1.3v1.3h-1.3zM92.1 97.6h1.3v1.3h-1.3zM96.3 93.3h1.3v1.3h-1.3zM107.0 90.0h1.3v1.3h-1.3zM92.5 86.1h1.3v1.3h-1.3zM110.1 94.5h1.3v1.3h-1.3zM114.4 90.9h1.3v1.3h-1.3zM105.2 99.6h1.3v1.3h-1.3zM102.0 92.8h1.3v1.3h-1.3zM136.3 87.0h1.3v1.3h-1.3zM98.4 91.9h1.3v1.3h-1.3zM85.2 91.9h1.3v1.3h-1.3zM127.1 88.7h1.3v1.3h-1.3zM116.8 94.1h1.3v1.3h-1.3zM100.6 89.6h1.3v1.3h-1.3zM118.8 83.1h1.3v1.3h-1.3zM104.6 90.6h1.3v1.3h-1.3zM126.5 91.3h1.3v1.3h-1.3zM114.3 94.3h1.3v1.3h-1.3zM112.9 91.4h1.3v1.3h-1.3zM85.4 92.6h1.3v1.3h-1.3zM101.7 89.1h1.3v1.3h-1.3zM107.3 94.4h1.3v1.3h-1.3zM100.4 92.3h1.3v1.3h-1.3zM109.4 93.8h1.3v1.3h-1.3zM134.2 98.7h1.3v1.3h-1.3zM98.3 88.8h1.3v1.3h-1.3zM99.6 91.8h1.3v1.3h-1.3zM121.6 98.5h1.3v1.3h-1.3zM134.0 91.9h1.3v1.3h-1.3zM104.0 92.0h1.3v1.3h-1.3zM86.3 86.7h1.3v1.3h-1.3zM136.5 92.2h1.3v1.3h-1.3zM106.7 91.1h1.3v1.3h-1.3zM119.3 85.5h1.3v1.3h-1.3zM112.2 87.3h1.3v1.3h-1.3zM93.5 85.9h1.3v1.3h-1.3zM83.9 91.0h1.3v1.3h-1.3zM123.4 89.4h1.3v1.3h-1.3zM105.3 96.2h1.3v1.3h-1.3zM99.7 89.5h1.3v1.3h-1.3zM90.1 92.8h1.3v1.3h-1.3zM106.1 91.8h1.3v1.3h-1.3zM121.4 97.2h1.3v1.3h-1.3zM111.1 91.1h1.3v1.3h-1.3zM113.9 90.3h1.3v1.3h-1.3zM114.3 90.8h1.3v1.3h-1.3zM85.7 95.4h1.3v1.3h-1.3zM98.7 97.7h1.3v1.3h-1.3zM118.7 90.4h1.3v1.3h-1.3zM105.7 93.6h1.3v1.3h-1.3zM113.6 95.5h1.3v1.3h-1.3zM90.0 89.2h1.3v1.3h-1.3zM82.1 89.8h1.3v1.3h-1.3zM100.1 91.2h1.3v1.3h-1.3zM86.5 97.2h1.3v1.3h-1.3zM112.0 93.5h1.3v1.3h-1.3zM104.7 87.1h1.3v1.3h-1.3zM83.1 86.0h1.3v1.3h-1.3zM132.9 91.1h1.3v1.3h-1.3zM115.4 86.5h1.3v1.3h-1.3zM128.1 85.9h1.3v1.3h-1.3zM101.2 87.2h1.3v1.3h-1.3zM92.1 87.1h1.3v1.3h-1.3zM134.7 87.5h1.3v1.3h-1.3zM128.9 86.3h1.3v1.3h-1.3zM121.6 87.3h1.3v1.3h-1.3zM115.0 90.9h1.3v1.3h-1.3zM100.4 89.5h1.3v1.3h-1.3zM113.9 91.9h1.3v1.3h-1.3zM84.6 94.2h1.3v1.3h-1.3zM82.3 92.6h1.3v1.3h-1.3zM88.6 91.3h1.3v1.3h-1.3zM118.5 89.7h1.3v1.3h-1.3zM111.9 90.7h1.3v1.3h-1.3zM117.0 96.5h1.3v1.3h-1.3zM92.2 94.5h1.3v1.3h-1.3zM87.9 93.0h1.3v1.3h-1.3zM88.8 87.9h1.3v1.3h-1.3zM119.6 92.4h1.3v1.3h-1.3zM87.6 95.7h1.3v1.3h-1.3zM120.1 89.3h1.3v1.3h-1.3zM86.6 89.0h1.3v1.3h-1.3zM119.0 89.3h1.3v1.3h-1.3zM134.0 98.1h1.3v1.3h-1.3zM86.0 92.3h1.3v1.3h-1.3zM82.7 91.8h1.3v1.3h-1.3zM82.7 94.3h1.3v1.3h-1.3zM123.4 90.8h1.3v1.3h-1.3zM116.8 90.6h1.3v1.3h-1.3zM99.7 88.4h1.3v1.3h-1.3zM93.3 95.8h1.3v1.3h-1.3zM90.1 92.3h1.3v1.3h-1.3zM116.5 92.0h1.3v1.3h-1.3zM97.6 93.7h1.3v1.3h-1.3zM88.0 85.4h1.3v1.3h-1.3zM87.0 93.8h1.3v1.3h-1.3zM118.8 94.0h1.3v1.3h-1.3zM97.5 92.0h1.3v1.3h-1.3zM101.4 91.5h1.3v1.3h-1.3zM106.1 90.6h1.3v1.3h-1.3zM103.1 91.1h1.3v1.3h-1.3zM94.3 93.4h1.3v1.3h-1.3zM113.2 96.0h1.3v1.3h-1.3zM102.5 85.2h1.3v1.3h-1.3zM85.0 90.0h1.3v1.3h-1.3zM101.8 96.9h1.3v1.3h-1.3zM104.6 93.6h1.3v1.3h-1.3zM118.0 98.2h1.3v1.3h-1.3zM106.7 90.2h1.3v1.3h-1.3zM107.2 91.6h1.3v1.3h-1.3zM130.5 87.1h1.3v1.3h-1.3zM100.7 88.3h1.3v1.3h-1.3zM106.8 89.5h1.3v1.3h-1.3zM96.8 87.8h1.3v1.3h-1.3zM90.4 90.0h1.3v1.3h-1.3zM115.6 94.5h1.3v1.3h-1.3zM91.0 92.7h1.3v1.3h-1.3zM115.6 89.3h1.3v1.3h-1.3zM118.1 90.7h1.3v1.3h-1.3zM120.1 85.0h1.3v1.3h-1.3zM89.4 90.4h1.3v1.3h-1.3zM134.5 92.5h1.3v1.3h-1.3zM98.6 85.2h1.3v1.3h-1.3zM117.8 88.0h1.3v1.3h-1.3zM133.0 84.8h1.3v1.3h-1.3zM115.2 93.0h1.3v1.3h-1.3zM100.4 87.0h1.3v1.3h-1.3zM88.1 94.7h1.3v1.3h-1.3zM118.0 87.7h1.3v1.3h-1.3zM87.0 91.0h1.3v1.3h-1.3zM117.7 93.5h1.3v1.3h-1.3zM136.4 92.0h1.3v1.3h-1.3zM84.4 95.2h1.3v1.3h-1.3zM100.8 89.6h1.3v1.3h-1.3zM90.2 93.2h1.3v1.3h-1.3zM118.9 90.0h1.3v1.3h-1.3zM108.5 92.5h1.3v1.3h-1.3zM92.0 93.0h1.3v1.3h-1.3zM85.6 94.0h1.3v1.3h-1.3zM134.2 91.2h1.3v1.3h-1.3zM96.3 89.2h1.3v1.3h-1.3zM117.5 91.2h1.3v1.3h-1.3zM98.2 93.4h1.3v1.3h-1.3zM105.9 91.7h1.3v1.3h-1.3zM86.0 94.3h1.3v1.3h-1.3zM115.6 93.2h1.3v1.3h-1.3zM95.1 87.7h1.3v1.3h-1.3zM122.2 87.6h1.3v1.3h-1.3zM136.3 94.5h1.3v1.3h-1.3zM112.3 90.6h1.3v1.3h-1.3zM133.3 93.2h1.3v1.3h-1.3zM129.9 85.7h1.3v1.3h-1.3zM109.5 88.9h1.3v1.3h-1.3zM122.6 94.3h1.3v1.3h-1.3zM105.6 97.4h1.3v1.3h-1.3zM89.0 95.5h1.3v1.3h-1.3zM133.8 92.6h1.3v1.3h-1.3zM136.0 87.6h1.3v1.3h-1.3zM90.5 90.9h1.3v1.3h-1.3zM91.2 92.9h1.3v1.3h-1.3zM105.9 96.5h1.3v1.3h-1.3zM106.4 93.7h1.3v1.3h-1.3zM104.3 88.8h1.3v1.3h-1.3zM127.6 92.9h1.3v1.3h-1.3zM91.4 91.0h1.3v1.3h-1.3zM122.1 89.6h1.3v1.3h-1.3zM101.8 94.8h1.3v1.3h-1.3zM86.3 96.6h1.3v1.3h-1.3zM125.1 90.0h1.3v1.3h-1.3zM86.3 93.4h1.3v1.3h-1.3zM130.2 97.6h1.3v1.3h-1.3zM94.5 94.3h1.3v1.3h-1.3zM115.0 86.2h1.3v1.3h-1.3zM104.1 90.3h1.3v1.3h-1.3zM106.9 87.5h1.3v1.3h-1.3zM120.3 94.2h1.3v1.3h-1.3zM99.6 98.5h1.3v1.3h-1.3zM113.3 84.4h1.3v1.3h-1.3zM118.6 94.9h1.3v1.3h-1.3zM125.3 86.8h1.3v1.3h-1.3zM83.6 83.9h1.3v1.3h-1.3zM116.0 91.9h1.3v1.3h-1.3zM122.3 92.6h1.3v1.3h-1.3zM89.2 92.5h1.3v1.3h-1.3zM95.5 88.5h1.3v1.3h-1.3zM89.0 86.7h1.3v1.3h-1.3zM133.1 91.3h1.3v1.3h-1.3zM111.9 84.0h1.3v1.3h-1.3zM113.3 93.3h1.3v1.3h-1.3zM118.2 94.4h1.3v1.3h-1.3zM135.9 91.4h1.3v1.3h-1.3zM126.7 89.1h1.3v1.3h-1.3zM132.6 94.9h1.3v1.3h-1.3zM131.0 98.8h1.3v1.3h-1.3zM124.8 98.5h1.3v1.3h-1.3zM132.0 92.3h1.3v1.3h-1.3zM87.8 97.0h1.3v1.3h-1.3zM92.7 87.8h1.3v1.3h-1.3zM93.8 87.2h1.3v1.3h-1.3zM120.7 94.2h1.3v1.3h-1.3zM109.3 88.7h1.3v1.3h-1.3zM86.4 92.7h1.3v1.3h-1.3zM105.6 92.3h1.3v1.3h-1.3zM101.0 92.9h1.3v1.3h-1.3zM110.1 95.5h1.3v1.3h-1.3zM122.6 90.5h1.3v1.3h-1.3zM86.0 89.6h1.3v1.3h-1.3zM95.4 88.0h1.3v1.3h-1.3zM124.8 90.1h1.3v1.3h-1.3zM124.3 93.3h1.3v1.3h-1.3zM131.9 96.6h1.3v1.3h-1.3zM112.8 94.0h1.3v1.3h-1.3zM127.9 90.8h1.3v1.3h-1.3zM132.3 97.2h1.3v1.3h-1.3zM93.9 91.8h1.3v1.3h-1.3zM126.5 87.9h1.3v1.3h-1.3zM97.5 92.1h1.3v1.3h-1.3zM116.8 89.0h1.3v1.3h-1.3zM113.8 91.5h1.3v1.3h-1.3zM107.9 91.7h1.3v1.3h-1.3zM132.7 87.0h1.3v1.3h-1.3zM122.2 84.8h1.3v1.3h-1.3zM102.5 95.5h1.3v1.3h-1.3zM109.7 88.1h1.3v1.3h-1.3zM116.8 93.1h1.3v1.3h-1.3zM107.0 95.5h1.3v1.3h-1.3zM131.8 90.0h1.3v1.3h-1.3zM95.7 94.6h1.3v1.3h-1.3zM131.5 84.3h1.3v1.3h-1.3zM85.4 95.5h1.3v1.3h-1.3zM128.2 86.2h1.3v1.3h-1.3zM99.6 82.8h1.3v1.3h-1.3zM100.2 88.7h1.3v1.3h-1.3zM117.2 90.3h1.3v1.3h-1.3zM126.3 89.6h1.3v1.3h-1.3zM120.9 90.2h1.3v1.3h-1.3zM131.9 94.0h1.3v1.3h-1.3zM106.3 86.7h1.3v1.3h-1.3zM86.5 89.6h1.3v1.3h-1.3zM85.0 88.8h1.3v1.3h-1.3zM85.4 89.6h1.3v1.3h-1.3zM109.8 91.8h1.3v1.3h-1.3zM108.2 93.7h1.3v1.3h-1.3zM121.8 90.7h1.3v1.3h-1.3zM107.5 92.6h1.3v1.3h-1.3zM95.9 91.9h1.3v1.3h-1.3zM89.0 89.7h1.3v1.3h-1.3zM115.7 88.3h1.3v1.3h-1.3zM88.6 91.8h1.3v1.3h-1.3zM83.0 96.4h1.3v1.3h-1.3zM103.1 88.9h1.3v1.3h-1.3zM100.2 98.4h1.3v1.3h-1.3zM131.1 94.1h1.3v1.3h-1.3zM90.4 91.3h1.3v1.3h-1.3zM93.0 89.5h1.3v1.3h-1.3zM91.1 91.2h1.3v1.3h-1.3zM103.3 93.0h1.3v1.3h-1.3zM85.6 92.2h1.3v1.3h-1.3zM104.4 88.9h1.3v1.3h-1.3zM113.0 89.2h1.3v1.3h-1.3zM110.9 91.4h1.3v1.3h-1.3zM95.7 89.9h1.3v1.3h-1.3zM123.2 94.6h1.3v1.3h-1.3zM128.2 96.8h1.3v1.3h-1.3zM120.6 87.1h1.3v1.3h-1.3zM105.8 92.0h1.3v1.3h-1.3zM88.2 88.8h1.3v1.3h-1.3zM115.2 92.5h1.3v1.3h-1.3zM103.5 91.8h1.3v1.3h-1.3zM111.5 92.4h1.3v1.3h-1.3zM95.6 96.0h1.3v1.3h-1.3zM133.0 91.5h1.3v1.3h-1.3zM118.7 97.7h1.3v1.3h-1.3zM86.4 93.3h1.3v1.3h-1.3zM103.0 93.3h1.3v1.3h-1.3zM108.2 89.5h1.3v1.3h-1.3zM110.9 89.8h1.3v1.3h-1.3zM129.1 87.9h1.3v1.3h-1.3zM82.2 88.9h1.3v1.3h-1.3zM119.0 88.7h1.3v1.3h-1.3zM90.8 90.1h1.3v1.3h-1.3zM88.4 85.9h1.3v1.3h-1.3zM124.6 94.0h1.3v1.3h-1.3zM86.0 86.2h1.3v1.3h-1.3zM95.2 89.9h1.3v1.3h-1.3zM128.7 97.6h1.3v1.3h-1.3zM83.4 81.9h1.3v1.3h-1.3zM104.6 88.3h1.3v1.3h-1.3zM124.0 96.1h1.3v1.3h-1.3zM122.2 88.0h1.3v1.3h-1.3zM82.1 89.7h1.3v1.3h-1.3zM82.1 93.0h1.3v1.3h-1.3zM121.8 85.8h1.3v1.3h-1.3zM93.1 88.1h1.3v1.3h-1.3zM98.9 89.3h1.3v1.3h-1.3zM128.6 87.4h1.3v1.3h-1.3zM104.7 91.3h1.3v1.3h-1.3zM102.4 90.3h1.3v1.3h-1.3zM109.1 92.4h1.3v1.3h-1.3zM120.7 99.5h1.3v1.3h-1.3zM136.7 93.5h1.3v1.3h-1.3zM129.0 90.0h1.3v1.3h-1.3zM121.6 92.8h1.3v1.3h-1.3zM87.3 92.2h1.3v1.3h-1.3zM119.0 93.6h1.3v1.3h-1.3zM92.5 93.6h1.3v1.3h-1.3zM86.4 91.2h1.3v1.3h-1.3zM132.8 93.5h1.3v1.3h-1.3zM133.5 93.0h1.3v1.3h-1.3zM133.2 93.1h1.3v1.3h-1.3zM100.5 90.5h1.3v1.3h-1.3zM104.0 97.9h1.3v1.3h-1.3zM125.1 91.9h1.3v1.3h-1.3zM112.7 90.2h1.3v1.3h-1.3zM100.5 90.5h1.3v1.3h-1.3zM106.1 87.3h1.3v1.3h-1.3zM128.8 95.6h1.3v1.3h-1.3zM131.5 86.3h1.3v1.3h-1.3zM93.4 87.5h1.3v1.3h-1.3zM112.0 98.2h1.3v1.3h-1.3zM85.2 95.0h1.3v1.3h-1.3zM106.0 90.8h1.3v1.3h-1.3zM119.9 95.9h1.3v1.3h-1.3zM108.5 91.2h1.3v1.3h-1.3zM94.6 92.6h1.3v1.3h-1.3zM84.5 92.3h1.3v1.3h-1.3zM85.7 86.8h1.3v1.3h-1.3zM110.6 93.0h1.3v1.3h-1.3zM116.0 96.5h1.3v1.3h-1.3zM128.5 97.3h1.3v1.3h-1.3zM130.6 88.4h1.3v1.3h-1.3zM119.7 89.2h1.3v1.3h-1.3zM128.9 92.5h1.3v1.3h-1.3zM87.9 91.8h1.3v1.3h-1.3zM86.8 91.4h1.3v1.3h-1.3zM125.5 91.3h1.3v1.3h-1.3zM115.5 88.3h1.3v1.3h-1.3zM95.6 89.5h1.3v1.3h-1.3zM84.7 91.5h1.3v1.3h-1.3zM109.1 90.9h1.3v1.3h-1.3zM86.8 95.9h1.3v1.3h-1.3zM106.6 96.2h1.3v1.3h-1.3zM99.5 91.4h1.3v1.3h-1.3zM97.5 89.8h1.3v1.3h-1.3zM111.2 88.9h1.3v1.3h-1.3zM115.6 94.5h1.3v1.3h-1.3zM90.5 90.4h1.3v1.3h-1.3zM107.8 88.8h1.3v1.3h-1.3zM126.0 88.4h1.3v1.3h-1.3zM105.4 100.2h1.3v1.3h-1.3zM117.8 96.8h1.3v1.3h-1.3zM83.8 86.3h1.3v1.3h-1.3zM92.9 94.4h1.3v1.3h-1.3zM103.6 91.0h1.3v1.3h-1.3zM119.7 87.4h1.3v1.3h-1.3zM123.1 87.5h1.3v1.3h-1.3zM113.7 89.7h1.3v1.3h-1.3zM109.9 97.0h1.3v1.3h-1.3zM98.3 89.0h1.3v1.3h-1.3zM103.8 94.0h1.3v1.3h-1.3zM122.3 91.6h1.3v1.3h-1.3zM135.6 89.5h1.3v1.3h-1.3zM85.0 90.4h1.3v1.3h-1.3zM109.3 83.1h1.3v1.3h-1.3zM109.9 88.4h1.3v1.3h-1.3zM131.3 93.4h1.3v1.3h-1.3zM136.7 83.3h1.3v1.3h-1.3zM91.2 97.1h1.3v1.3h-1.3zM125.1 98.5h1.3v1.3h-1.3zM97.7 94.4h1.3v1.3h-1.3zM84.8 86.3h1.3v1.3h-1.3zM114.8 87.1h1.3v1.3h-1.3zM105.4 95.4h1.3v1.3h-1.3zM97.9 90.9h1.3v1.3h-1.3zM96.4 85.5h1.3v1.3h-1.3zM100.5 93.6h1.3v1.3h-1.3zM113.2 86.1h1.3v1.3h-1.3zM133.2 92.1h1.3v1.3h-1.3zM106.4 93.6h1.3v1.3h-1.3zM91.0 90.6h1.3v1.3h-1.3zM111.3 95.5h1.3v1.3h-1.3zM112.7 92.3h1.3v1.3h-1.3zM91.5 92.1h1.3v1.3h-1.3zM127.1 94.5h1.3v1.3h-1.3zM129.7 95.2h1.3v1.3h-1.3zM136.4 92.2h1.3v1.3h-1.3zM118.5 87.1h1.3v1.3h-1.3zM89.1 90.4h1.3v1.3h-1.3zM99.3 90.1h1.3v1.3h-1.3zM110.4 92.1h1.3v1.3h-1.3zM83.1 86.3h1.3v1.3h-1.3zM102.9 87.4h1.3v1.3h-1.3zM122.1 94.0h1.3v1.3h-1.3zM88.5 89.2h1.3v1.3h-1.3zM97.1 86.3h1.3v1.3h-1.3zM93.0 86.9h1.3v1.3h-1.3zM135.4 98.6h1.3v1.3h-1.3zM113.9 92.2h1.3v1.3h-1.3zM136.7 91.8h1.3v1.3h-1.3zM132.7 84.0h1.3v1.3h-1.3zM126.3 92.2h1.3v1.3h-1.3zM110.1 95.3h1.3v1.3h-1.3zM90.1 94.1h1.3v1.3h-1.3zM89.7 90.1h1.3v1.3h-1.3zM96.4 93.0h1.3v1.3h-1.3zM135.2 92.8h1.3v1.3h-1.3zM98.2 93.0h1.3v1.3h-1.3zM121.9 92.5h1.3v1.3h-1.3zM87.9 93.7h1.3v1.3h-1.3zM95.8 88.5h1.3v1.3h-1.3zM86.8 88.3h1.3v1.3h-1.3zM96.7 87.4h1.3v1.3h-1.3zM91.6 93.5h1.3v1.3h-1.3zM107.9 92.3h1.3v1.3h-1.3zM83.0 96.5h1.3v1.3h-1.3zM105.2 94.2h1.3v1.3h-1.3zM135.4 91.1h1.3v1.3h-1.3zM90.8 96.4h1.3v1.3h-1.3zM114.3 91.7h1.3v1.3h-1.3zM137.0 94.2h1.3v1.3h-1.3zM82.5 90.9h1.3v1.3h-1.3zM122.8 88.4h1.3v1.3h-1.3zM115.1 92.9h1.3v1.3h-1.3zM133.8 93.6h1.3v1.3h-1.3zM135.5 94.7h1.3v1.3h-1.3zM105.0 95.2h1.3v1.3h-1.3zM97.1 92.1h1.3v1.3h-1.3zM119.9 89.6h1.3v1.3h-1.3zM85.6 91.8h1.3v1.3h-1.3zM88.5 92.1h1.3v1.3h-1.3zM136.6 91.7h1.3v1.3h-1.3zM129.1 83.0h1.3v1.3h-1.3zM85.0 93.2h1.3v1.3h-1.3zM90.5 88.8h1.3v1.3h-1.3zM125.0 94.2h1.3v1.3h-1.3zM121.7 93.2h1.3v1.3h-1.3zM117.0 92.6h1.3v1.3h-1.3zM118.4 84.8h1.3v1.3h-1.3zM82.2 88.1h1.3v1.3h-1.3zM114.8 90.9h1.3v1.3h-1.3zM116.5 85.8h1.3v1.3h-1.3zM91.2 95.6h1.3v1.3h-1.3zM92.1 85.3h1.3v1.3h-1.3zM91.1 85.2h1.3v1.3h-1.3zM118.3 91.7h1.3v1.3h-1.3zM129.7 88.2h1.3v1.3h-1.3zM116.2 89.4h1.3v1.3h-1.3zM109.3 91.0h1.3v1.3h-1.3zM107.5 95.9h1.3v1.3h-1.3zM121.1 90.6h1.3v1.3h-1.3zM125.9 93.3h1.3v1.3h-1.3zM93.5 90.0h1.3v1.3h-1.3zM125.9 91.2h1.3v1.3h-1.3zM84.7 93.7h1.3v1.3h-1.3zM109.8 89.1h1.3v1.3h-1.3zM133.8 91.1h1.3v1.3h-1.3zM89.2 90.7h1.3v1.3h-1.3zM101.7 93.5h1.3v1.3h-1.3zM131.6 92.9h1.3v1.3h-1.3zM98.6 90.4h1.3v1.3h-1.3zM83.4 88.2h1.3v1.3h-1.3zM122.4 87.8h1.3v1.3h-1.3zM107.6 93.0h1.3v1.3h-1.3zM134.0 93.8h1.3v1.3h-1.3zM100.2 91.4h1.3v1.3h-1.3zM126.9 85.9h1.3v1.3h-1.3zM111.3 87.0h1.3v1.3h-1.3zM99.0 96.3h1.3v1.3h-1.3zM131.4 89.1h1.3v1.3h-1.3zM89.2 89.5h1.3v1.3h-1.3zM108.3 90.5h1.3v1.3h-1.3zM85.8 93.7h1.3v1.3h-1.3zM87.1 99.9h1.3v1.3h-1.3zM121.3 86.8h1.3v1.3h-1.3zM99.2 97.9h1.3v1.3h-1.3zM105.3 93.0h1.3v1.3h-1.3zM130.0 87.2h1.3v1.3h-1.3zM91.0 92.1h1.3v1.3h-1.3zM120.7 91.1h1.3v1.3h-1.3zM106.2 91.5h1.3v1.3h-1.3zM136.4 92.4h1.3v1.3h-1.3zM114.6 95.6h1.3v1.3h-1.3zM120.6 97.5h1.3v1.3h-1.3zM96.1 98.1h1.3v1.3h-1.3zM128.0 86.1h1.3v1.3h-1.3zM89.0 90.7h1.3v1.3h-1.3zM103.9 90.8h1.3v1.3h-1.3zM84.7 93.5h1.3v1.3h-1.3zM100.5 91.3h1.3v1.3h-1.3zM115.6 90.7h1.3v1.3h-1.3zM120.6 96.9h1.3v1.3h-1.3zM119.3 95.0h1.3v1.3h-1.3zM119.5 95.3h1.3v1.3h-1.3zM91.1 88.4h1.3v1.3h-1.3zM113.5 88.7h1.3v1.3h-1.3zM123.9 93.2h1.3v1.3h-1.3zM82.3 91.4h1.3v1.3h-1.3zM101.2 90.9h1.3v1.3h-1.3zM85.1 89.1h1.3v1.3h-1.3zM118.5 92.6h1.3v1.3h-1.3zM105.3 90.9h1.3v1.3h-1.3zM88.1 89.2h1.3v1.3h-1.3zM94.0 87.6h1.3v1.3h-1.3zM133.8 89.3h1.3v1.3h-1.3zM89.1 96.3h1.3v1.3h-1.3zM129.3 86.5h1.3v1.3h-1.3zM84.7 90.8h1.3v1.3h-1.3zM133.5 90.4h1.3v1.3h-1.3zM90.1 88.5h1.3v1.3h-1.3zM87.1 93.0h1.3v1.3h-1.3zM108.2 89.7h1.3v1.3h-1.3zM87.4 90.4h1.3v1.3h-1.3zM84.4 87.9h1.3v1.3h-1.3zM91.0 98.0h1.3v1.3h-1.3zM108.7 87.8h1.3v1.3h-1.3zM132.2 90.9h1.3v1.3h-1.3zM101.5 86.1h1.3v1.3h-1.3zM86.6 100.3h1.3v1.3h-1.3zM123.0 88.0h1.3v1.3h-1.3zM110.5 87.8h1.3v1.3h-1.3zM104.8 91.7h1.3v1.3h-1.3zM102.9 96.2h1.3v1.3h-1.3zM117.4 91.4h1.3v1.3h-1.3zM112.2 86.5h1.3v1.3h-1.3zM86.1 87.9h1.3v1.3h-1.3zM98.4 92.8h1.3v1.3h-1.3zM102.4 87.6h1.3v1.3h-1.3zM120.4 94.3h1.3v1.3h-1.3zM121.4 90.8h1.3v1.3h-1.3zM129.7 90.5h1.3v1.3h-1.3zM123.5 93.1h1.3v1.3h-1.3zM128.5 99.1h1.3v1.3h-1.3zM91.8 92.5h1.3v1.3h-1.3zM128.0 92.0h1.3v1.3h-1.3zM84.9 92.3h1.3v1.3h-1.3zM107.5 87.8h1.3v1.3h-1.3zM98.2 86.6h1.3v1.3h-1.3zM114.5 82.2h1.3v1.3h-1.3zM106.2 87.0h1.3v1.3h-1.3zM111.2 91.6h1.3v1.3h-1.3zM99.4 90.7h1.3v1.3h-1.3zM99.5 87.4h1.3v1.3h-1.3zM109.1 90.5h1.3v1.3h-1.3zM107.0 86.2h1.3v1.3h-1.3zM137.0 94.8h1.3v1.3h-1.3zM100.7 93.6h1.3v1.3h-1.3zM135.0 94.9h1.3v1.3h-1.3zM135.8 89.6h1.3v1.3h-1.3zM128.3 86.9h1.3v1.3h-1.3zM126.5 93.6h1.3v1.3h-1.3zM95.1 90.1h1.3v1.3h-1.3zM123.7 90.0h1.3v1.3h-1.3zM121.2 88.7h1.3v1.3h-1.3zM116.4 95.4h1.3v1.3h-1.3zM111.9 89.1h1.3v1.3h-1.3zM134.9 91.5h1.3v1.3h-1.3zM128.0 89.2h1.3v1.3h-1.3zM87.5 90.7h1.3v1.3h-1.3zM129.0 96.2h1.3v1.3h-1.3zM83.5 89.9h1.3v1.3h-1.3zM101.0 88.9h1.3v1.3h-1.3zM85.2 90.9h1.3v1.3h-1.3zM118.6 93.1h1.3v1.3h-1.3zM104.6 90.1h1.3v1.3h-1.3zM133.3 93.4h1.3v1.3h-1.3zM84.4 93.3h1.3v1.3h-1.3zM134.8 90.7h1.3v1.3h-1.3zM104.4 92.8h1.3v1.3h-1.3zM104.3 93.2h1.3v1.3h-1.3zM101.4 90.1h1.3v1.3h-1.3zM92.7 90.3h1.3v1.3h-1.3zM111.0 89.7h1.3v1.3h-1.3zM108.3 96.4h1.3v1.3h-1.3zM105.5 87.5h1.3v1.3h-1.3zM83.9 89.9h1.3v1.3h-1.3zM128.4 88.9h1.3v1.3h-1.3zM101.1 93.5h1.3v1.3h-1.3zM136.8 95.1h1.3v1.3h-1.3zM129.2 95.7h1.3v1.3h-1.3zM87.2 88.5h1.3v1.3h-1.3zM102.0 92.4h1.3v1.3h-1.3zM119.1 89.5h1.3v1.3h-1.3zM133.2 87.7h1.3v1.3h-1.3zM87.3 91.1h1.3v1.3h-1.3zM125.3 90.9h1.3v1.3h-1.3zM100.0 93.1h1.3v1.3h-1.3zM100.5 98.4h1.3v1.3h-1.3zM135.1 95.1h1.3v1.3h-1.3zM102.3 93.5h1.3v1.3h-1.3zM102.7 88.7h1.3v1.3h-1.3zM89.0 91.9h1.3v1.3h-1.3zM95.5 90.9h1.3v1.3h-1.3zM116.1 85.0h1.3v1.3h-1.3zM121.2 91.2h1.3v1.3h-1.3zM103.4 96.2h1.3v1.3h-1.3zM108.9 90.0h1.3v1.3h-1.3zM120.2 90.3h1.3v1.3h-1.3zM123.6 93.2h1.3v1.3h-1.3zM97.2 92.2h1.3v1.3h-1.3zM97.9 90.5h1.3v1.3h-1.3zM124.1 93.1h1.3v1.3h-1.3zM124.2 93.4h1.3v1.3h-1.3zM110.9 93.5h1.3v1.3h-1.3zM109.5 84.8h1.3v1.3h-1.3zM89.1 90.4h1.3v1.3h-1.3zM123.3 88.5h1.3v1.3h-1.3zM87.3 88.6h1.3v1.3h-1.3zM82.3 90.6h1.3v1.3h-1.3zM90.0 90.1h1.3v1.3h-1.3zM135.8 91.5h1.3v1.3h-1.3zM133.2 92.2h1.3v1.3h-1.3zM84.0 92.5h1.3v1.3h-1.3zM129.7 93.7h1.3v1.3h-1.3zM97.8 95.4h1.3v1.3h-1.3zM104.4 97.1h1.3v1.3h-1.3zM127.8 90.7h1.3v1.3h-1.3zM115.8 88.9h1.3v1.3h-1.3zM130.7 88.9h1.3v1.3h-1.3zM120.3 90.1h1.3v1.3h-1.3zM126.4 90.5h1.3v1.3h-1.3zM128.0 88.9h1.3v1.3h-1.3zM111.9 89.7h1.3v1.3h-1.3zM95.5 90.4h1.3v1.3h-1.3zM111.6 86.8h1.3v1.3h-1.3zM109.9 97.6h1.3v1.3h-1.3zM87.5 96.6h1.3v1.3h-1.3zM102.2 88.7h1.3v1.3h-1.3zM124.4 95.2h1.3v1.3h-1.3zM95.9 88.9h1.3v1.3h-1.3zM125.1 95.4h1.3v1.3h-1.3zM110.8 95.1h1.3v1.3h-1.3zM106.4 89.6h1.3v1.3h-1.3zM109.4 91.7h1.3v1.3h-1.3zM114.1 92.5h1.3v1.3h-1.3zM125.4 87.9h1.3v1.3h-1.3zM104.2 91.2h1.3v1.3h-1.3zM90.7 95.9h1.3v1.3h-1.3zM85.0 96.3h1.3v1.3h-1.3zM95.6 88.4h1.3v1.3h-1.3zM127.7 96.8h1.3v1.3h-1.3zM129.4 89.2h1.3v1.3h-1.3zM112.9 85.1h1.3v1.3h-1.3zM128.4 87.6h1.3v1.3h-1.3zM134.0 92.9h1.3v1.3h-1.3zM102.7 90.0h1.3v1.3h-1.3zM118.4 92.4h1.3v1.3h-1.3zM131.1 86.9h1.3v1.3h-1.3zM124.3 95.4h1.3v1.3h-1.3zM125.0 90.8h1.3v1.3h-1.3zM121.4 92.3h1.3v1.3h-1.3zM115.7 91.5h1.3v1.3h-1.3zM127.3 90.4h1.3v1.3h-1.3zM83.0 88.0h1.3v1.3h-1.3zM105.1 93.1h1.3v1.3h-1.3zM111.5 90.2h1.3v1.3h-1.3zM137.0 85.1h1.3v1.3h-1.3zM97.8 88.1h1.3v1.3h-1.3zM117.1 93.6h1.3v1.3h-1.3zM131.6 93.1h1.3v1.3h-1.3zM91.6 86.7h1.3v1.3h-1.3zM88.2 97.0h1.3v1.3h-1.3zM103.2 88.2h1.3v1.3h-1.3zM117.6 90.3h1.3v1.3h-1.3zM106.1 97.4h1.3v1.3h-1.3zM131.5 96.5h1.3v1.3h-1.3zM107.9 89.2h1.3v1.3h-1.3zM126.7 94.7h1.3v1.3h-1.3zM103.9 90.9h1.3v1.3h-1.3zM92.8 92.2h1.3v1.3h-1.3zM124.6 89.0h1.3v1.3h-1.3zM134.0 90.0h1.3v1.3h-1.3zM112.5 90.0h1.3v1.3h-1.3zM89.1 89.7h1.3v1.3h-1.3zM105.5 92.5h1.3v1.3h-1.3zM120.7 91.6h1.3v1.3h-1.3zM90.7 94.9h1.3v1.3h-1.3zM93.0 98.9h1.3v1.3h-1.3zM123.5 91.0h1.3v1.3h-1.3zM90.5 87.7h1.3v1.3h-1.3zM115.5 88.6h1.3v1.3h-1.3zM133.9 93.6h1.3v1.3h-1.3zM108.0 93.4h1.3v1.3h-1.3zM91.6 90.3h1.3v1.3h-1.3zM82.5 88.7h1.3v1.3h-1.3zM94.1 83.9h1.3v1.3h-1.3zM113.8 90.1h1.3v1.3h-1.3zM105.9 94.6h1.3v1.3h-1.3zM101.2 85.7h1.3v1.3h-1.3zM121.9 95.4h1.3v1.3h-1.3zM133.4 88.4h1.3v1.3h-1.3zM111.7 89.9h1.3v1.3h-1.3zM121.3 87.5h1.3v1.3h-1.3zM90.8 92.3h1.3v1.3h-1.3zM104.7 94.3h1.3v1.3h-1.3zM109.2 96.2h1.3v1.3h-1.3zM124.6 90.9h1.3v1.3h-1.3zM119.3 86.7h1.3v1.3h-1.3zM127.6 93.7h1.3v1.3h-1.3zM93.5 90.8h1.3v1.3h-1.3zM99.9 97.5h1.3v1.3h-1.3zM90.1 83.5h1.3v1.3h-1.3zM85.2 90.6h1.3v1.3h-1.3zM131.4 88.4h1.3v1.3h-1.3zM116.3 89.3h1.3v1.3h-1.3zM83.0 87.8h1.3v1.3h-1.3zM115.6 93.6h1.3v1.3h-1.3zM132.5 98.2h1.3v1.3h-1.3zM99.8 88.1h1.3v1.3h-1.3zM130.3 91.3h1.3v1.3h-1.3zM134.7 92.9h1.3v1.3h-1.3zM111.1 96.6h1.3v1.3h-1.3zM85.4 96.0h1.3v1.3h-1.3zM123.7 87.1h1.3v1.3h-1.3zM91.2 95.1h1.3v1.3h-1.3zM121.4 94.1h1.3v1.3h-1.3zM90.0 90.7h1.3v1.3h-1.3zM110.9 86.2h1.3v1.3h-1.3zM96.9 92.1h1.3v1.3h-1.3zM117.7 91.7h1.3v1.3h-1.3zM88.3 91.3h1.3v1.3h-1.3zM134.1 89.4h1.3v1.3h-1.3zM100.7 94.3h1.3v1.3h-1.3zM131.1 92.6h1.3v1.3h-1.3zM120.4 88.8h1.3v1.3h-1.3zM88.6 85.7h1.3v1.3h-1.3zM110.1 92.6h1.3v1.3h-1.3zM111.1 86.4h1.3v1.3h-1.3zM84.8 92.9h1.3v1.3h-1.3zM84.8 88.2h1.3v1.3h-1.3zM108.2 89.1h1.3v1.3h-1.3zM127.9 87.1h1.3v1.3h-1.3zM126.5 92.4h1.3v1.3h-1.3zM99.7 90.5h1.3v1.3h-1.3zM136.4 88.5h1.3v1.3h-1.3zM126.7 86.1h1.3v1.3h-1.3zM96.3 92.4h1.3v1.3h-1.3zM86.9 87.2h1.3v1.3h-1.3zM134.7 95.8h1.3v1.3h-1.3zM100.3 88.4h1.3v1.3h-1.3zM134.9 101.1h1.3v1.3h-1.3zM118.5 94.3h1.3v1.3h-1.3zM113.6 96.7h1.3v1.3h-1.3zM89.6 95.9h1.3v1.3h-1.3zM101.9 97.0h1.3v1.3h-1.3zM113.3 91.3h1.3v1.3h-1.3zM106.2 85.8h1.3v1.3h-1.3zM97.7 92.0h1.3v1.3h-1.3zM120.6 94.7h1.3v1.3h-1.3zM134.2 88.9h1.3v1.3h-1.3zM127.9 94.1h1.3v1.3h-1.3zM131.5 94.8h1.3v1.3h-1.3zM95.6 92.4h1.3v1.3h-1.3zM115.4 95.6h1.3v1.3h-1.3zM117.0 89.3h1.3v1.3h-1.3zM113.1 90.0h1.3v1.3h-1.3zM115.0 97.0h1.3v1.3h-1.3zM86.7 89.8h1.3v1.3h-1.3zM125.4 89.9h1.3v1.3h-1.3zM122.1 95.7h1.3v1.3h-1.3zM84.8 88.7h1.3v1.3h-1.3zM129.8 91.2h1.3v1.3h-1.3zM105.0 84.6h1.3v1.3h-1.3zM116.2 82.6h1.3v1.3h-1.3zM117.7 90.0h1.3v1.3h-1.3zM106.4 93.4h1.3v1.3h-1.3zM97.0 92.3h1.3v1.3h-1.3zM107.2 95.7h1.3v1.3h-1.3zM87.7 87.9h1.3v1.3h-1.3zM136.9 91.7h1.3v1.3h-1.3zM102.9 93.7h1.3v1.3h-1.3zM101.4 94.0h1.3v1.3h-1.3zM101.1 86.1h1.3v1.3h-1.3zM91.8 88.8h1.3v1.3h-1.3zM84.9 91.9h1.3v1.3h-1.3zM130.2 85.1h1.3v1.3h-1.3zM122.0 95.3h1.3v1.3h-1.3zM105.6 87.4h1.3v1.3h-1.3zM126.3 86.2h1.3v1.3h-1.3zM126.7 86.7h1.3v1.3h-1.3zM124.8 93.3h1.3v1.3h-1.3zM117.1 89.8h1.3v1.3h-1.3zM124.6 90.4h1.3v1.3h-1.3zM93.6 89.2h1.3v1.3h-1.3zM120.9 91.8h1.3v1.3h-1.3zM109.7 92.1h1.3v1.3h-1.3zM94.0 86.3h1.3v1.3h-1.3zM98.0 90.8h1.3v1.3h-1.3zM84.7 91.7h1.3v1.3h-1.3zM89.8 84.7h1.3v1.3h-1.3zM87.6 94.6h1.3v1.3h-1.3zM85.9 87.8h1.3v1.3h-1.3zM84.3 93.9h1.3v1.3h-1.3zM112.0 89.1h1.3v1.3h-1.3zM93.7 91.7h1.3v1.3h-1.3zM107.8 92.3h1.3v1.3h-1.3zM123.0 86.2h1.3v1.3h-1.3zM119.5 97.5h1.3v1.3h-1.3zM84.1 93.5h1.3v1.3h-1.3zM91.1 90.2h1.3v1.3h-1.3zM123.9 91.3h1.3v1.3h-1.3zM115.6 97.9h1.3v1.3h-1.3zM120.0 90.3h1.3v1.3h-1.3zM99.8 88.9h1.3v1.3h-1.3zM111.2 100.2h1.3v1.3h-1.3zM136.8 92.6h1.3v1.3h-1.3zM131.2 97.5h1.3v1.3h-1.3zM85.3 87.9h1.3v1.3h-1.3zM114.8 88.4h1.3v1.3h-1.3zM119.9 92.1h1.3v1.3h-1.3zM128.4 99.0h1.3v1.3h-1.3zM86.4 85.2h1.3v1.3h-1.3zM131.6 88.8h1.3v1.3h-1.3zM95.7 94.2h1.3v1.3h-1.3zM118.0 96.0h1.3v1.3h-1.3zM106.1 92.8h1.3v1.3h-1.3zM129.4 90.4h1.3v1.3h-1.3zM136.3 100.0h1.3v1.3h-1.3zM133.1 94.9h1.3v1.3h-1.3zM123.5 92.4h1.3v1.3h-1.3zM124.7 83.6h1.3v1.3h-1.3zM84.0 92.7h1.3v1.3h-1.3zM102.0 87.6h1.3v1.3h-1.3zM91.9 88.9h1.3v1.3h-1.3zM135.2 86.1h1.3v1.3h-1.3zM130.2 92.6h1.3v1.3h-1.3zM128.4 91.9h1.3v1.3h-1.3zM104.8 93.1h1.3v1.3h-1.3zM85.5 95.3h1.3v1.3h-1.3zM102.4 89.7h1.3v1.3h-1.3zM100.9 88.4h1.3v1.3h-1.3zM126.7 98.0h1.3v1.3h-1.3zM100.9 90.5h1.3v1.3h-1.3zM143.2 95.7h1.3v1.3h-1.3zM153.4 89.6h1.3v1.3h-1.3zM145.5 88.6h1.3v1.3h-1.3zM139.0 92.9h1.3v1.3h-1.3zM140.0 91.5h1.3v1.3h-1.3zM140.7 87.8h1.3v1.3h-1.3zM151.7 91.6h1.3v1.3h-1.3zM138.9 92.6h1.3v1.3h-1.3zM151.1 92.2h1.3v1.3h-1.3zM145.8 93.8h1.3v1.3h-1.3zM137.6 91.2h1.3v1.3h-1.3zM138.9 87.2h1.3v1.3h-1.3zM148.7 93.4h1.3v1.3h-1.3zM139.4 97.3h1.3v1.3h-1.3zM140.7 90.9h1.3v1.3h-1.3zM141.5 93.3h1.3v1.3h-1.3zM140.9 100.0h1.3v1.3h-1.3zM141.1 93.4h1.3v1.3h-1.3zM149.5 85.7h1.3v1.3h-1.3zM146.6 93.6h1.3v1.3h-1.3zM140.2 93.2h1.3v1.3h-1.3zM144.5 92.4h1.3v1.3h-1.3zM148.0 92.6h1.3v1.3h-1.3zM147.9 88.3h1.3v1.3h-1.3zM137.8 91.7h1.3v1.3h-1.3zM146.6 90.1h1.3v1.3h-1.3zM137.5 92.5h1.3v1.3h-1.3zM144.2 92.9h1.3v1.3h-1.3zM138.2 92.0h1.3v1.3h-1.3zM148.0 91.8h1.3v1.3h-1.3zM142.8 87.4h1.3v1.3h-1.3zM146.9 90.6h1.3v1.3h-1.3zM140.8 92.5h1.3v1.3h-1.3zM148.2 94.1h1.3v1.3h-1.3zM137.4 91.0h1.3v1.3h-1.3zM139.4 89.2h1.3v1.3h-1.3zM141.7 91.1h1.3v1.3h-1.3zM140.9 92.1h1.3v1.3h-1.3zM145.7 88.9h1.3v1.3h-1.3zM147.2 92.9h1.3v1.3h-1.3zM140.6 89.7h1.3v1.3h-1.3zM141.7 87.0h1.3v1.3h-1.3zM139.5 93.1h1.3v1.3h-1.3zM152.9 93.5h1.3v1.3h-1.3zM138.4 95.2h1.3v1.3h-1.3zM149.0 91.2h1.3v1.3h-1.3zM144.6 89.1h1.3v1.3h-1.3zM141.3 89.6h1.3v1.3h-1.3zM153.5 91.7h1.3v1.3h-1.3zM137.3 91.5h1.3v1.3h-1.3zM139.2 91.6h1.3v1.3h-1.3zM137.7 93.8h1.3v1.3h-1.3zM148.4 91.0h1.3v1.3h-1.3zM138.1 94.0h1.3v1.3h-1.3zM137.6 88.9h1.3v1.3h-1.3zM143.5 88.1h1.3v1.3h-1.3zM142.0 94.0h1.3v1.3h-1.3zM138.3 98.5h1.3v1.3h-1.3zM142.9 88.9h1.3v1.3h-1.3zM138.2 90.0h1.3v1.3h-1.3zM146.3 93.9h1.3v1.3h-1.3zM137.6 92.6h1.3v1.3h-1.3zM140.6 93.4h1.3v1.3h-1.3zM147.9 92.4h1.3v1.3h-1.3zM140.5 93.9h1.3v1.3h-1.3zM138.3 87.2h1.3v1.3h-1.3zM141.2 87.8h1.3v1.3h-1.3zM138.1 90.5h1.3v1.3h-1.3zM143.1 90.3h1.3v1.3h-1.3zM144.2 94.9h1.3v1.3h-1.3zM138.9 99.2h1.3v1.3h-1.3zM145.9 89.8h1.3v1.3h-1.3zM144.2 93.6h1.3v1.3h-1.3zM142.3 89.6h1.3v1.3h-1.3zM145.1 94.1h1.3v1.3h-1.3zM137.9 92.8h1.3v1.3h-1.3zM138.3 96.0h1.3v1.3h-1.3zM137.3 92.2h1.3v1.3h-1.3zM143.8 92.1h1.3v1.3h-1.3zM145.8 95.4h1.3v1.3h-1.3zM137.2 94.8h1.3v1.3h-1.3zM140.1 94.1h1.3v1.3h-1.3zM140.7 90.8h1.3v1.3h-1.3zM147.9 88.6h1.3v1.3h-1.3zM149.3 92.6h1.3v1.3h-1.3zM148.0 92.6h1.3v1.3h-1.3zM140.0 90.3h1.3v1.3h-1.3zM147.0 95.9h1.3v1.3h-1.3zM154.1 89.9h1.3v1.3h-1.3zM140.3 93.9h1.3v1.3h-1.3zM140.5 91.4h1.3v1.3h-1.3zM139.2 91.8h1.3v1.3h-1.3zM140.4 91.9h1.3v1.3h-1.3zM139.4 92.5h1.3v1.3h-1.3zM145.6 95.4h1.3v1.3h-1.3zM149.5 91.0h1.3v1.3h-1.3zM142.0 98.0h1.3v1.3h-1.3zM141.7 94.3h1.3v1.3h-1.3zM141.3 92.3h1.3v1.3h-1.3zM138.0 91.5h1.3v1.3h-1.3zM144.8 89.4h1.3v1.3h-1.3zM145.5 93.2h1.3v1.3h-1.3zM137.9 90.5h1.3v1.3h-1.3zM145.8 91.5h1.3v1.3h-1.3zM148.2 92.1h1.3v1.3h-1.3zM138.6 90.0h1.3v1.3h-1.3zM141.6 88.7h1.3v1.3h-1.3zM138.8 97.4h1.3v1.3h-1.3zM147.1 84.0h1.3v1.3h-1.3zM154.4 91.0h1.3v1.3h-1.3zM153.3 86.5h1.3v1.3h-1.3zM142.1 90.3h1.3v1.3h-1.3zM139.5 91.0h1.3v1.3h-1.3zM146.0 92.3h1.3v1.3h-1.3zM145.2 92.5h1.3v1.3h-1.3zM140.3 92.8h1.3v1.3h-1.3zM148.1 88.2h1.3v1.3h-1.3zM150.0 96.7h1.3v1.3h-1.3zM138.1 93.5h1.3v1.3h-1.3zM143.0 91.2h1.3v1.3h-1.3zM141.8 93.6h1.3v1.3h-1.3zM152.2 89.7h1.3v1.3h-1.3zM142.5 93.5h1.3v1.3h-1.3zM139.6 95.3h1.3v1.3h-1.3zM138.4 90.5h1.3v1.3h-1.3zM138.6 94.4h1.3v1.3h-1.3zM139.6 91.3h1.3v1.3h-1.3zM143.1 88.9h1.3v1.3h-1.3zM140.4 94.8h1.3v1.3h-1.3zM141.2 93.8h1.3v1.3h-1.3zM138.0 84.5h1.3v1.3h-1.3zM144.7 95.0h1.3v1.3h-1.3zM140.8 94.5h1.3v1.3h-1.3zM141.1 91.3h1.3v1.3h-1.3zM137.5 93.7h1.3v1.3h-1.3zM137.0 89.8h1.3v1.3h-1.3zM140.8 96.0h1.3v1.3h-1.3zM146.1 91.7h1.3v1.3h-1.3zM141.6 93.3h1.3v1.3h-1.3zM148.9 88.6h1.3v1.3h-1.3zM148.0 91.2h1.3v1.3h-1.3zM140.5 95.7h1.3v1.3h-1.3zM140.3 89.3h1.3v1.3h-1.3zM138.0 91.2h1.3v1.3h-1.3zM145.8 98.8h1.3v1.3h-1.3zM142.4 89.7h1.3v1.3h-1.3zM138.0 87.3h1.3v1.3h-1.3zM149.0 87.3h1.3v1.3h-1.3zM144.6 91.3h1.3v1.3h-1.3zM140.8 97.6h1.3v1.3h-1.3zM144.4 87.4h1.3v1.3h-1.3zM138.1 91.0h1.3v1.3h-1.3zM150.7 89.1h1.3v1.3h-1.3zM141.5 89.1h1.3v1.3h-1.3zM137.1 99.0h1.3v1.3h-1.3zM143.7 89.6h1.3v1.3h-1.3zM147.2 90.4h1.3v1.3h-1.3zM142.4 98.5h1.3v1.3h-1.3zM139.8 90.2h1.3v1.3h-1.3zM140.7 91.8h1.3v1.3h-1.3zM139.1 94.3h1.3v1.3h-1.3zM142.0 88.1h1.3v1.3h-1.3zM146.4 87.6h1.3v1.3h-1.3zM145.8 89.3h1.3v1.3h-1.3zM142.2 90.9h1.3v1.3h-1.3zM143.6 93.7h1.3v1.3h-1.3zM145.4 86.2h1.3v1.3h-1.3zM141.9 93.5h1.3v1.3h-1.3zM137.8 87.2h1.3v1.3h-1.3zM137.5 90.7h1.3v1.3h-1.3zM147.2 86.4h1.3v1.3h-1.3zM144.0 90.3h1.3v1.3h-1.3zM142.1 92.1h1.3v1.3h-1.3zM144.4 97.9h1.3v1.3h-1.3zM141.9 95.4h1.3v1.3h-1.3zM141.2 92.9h1.3v1.3h-1.3zM145.7 95.5h1.3v1.3h-1.3zM139.3 95.6h1.3v1.3h-1.3zM138.6 93.8h1.3v1.3h-1.3zM140.2 93.7h1.3v1.3h-1.3zM145.8 94.9h1.3v1.3h-1.3zM142.0 91.4h1.3v1.3h-1.3zM143.4 92.4h1.3v1.3h-1.3zM141.9 90.5h1.3v1.3h-1.3zM149.0 90.4h1.3v1.3h-1.3zM146.1 94.7h1.3v1.3h-1.3zM140.5 93.8h1.3v1.3h-1.3zM145.3 89.2h1.3v1.3h-1.3zM146.0 89.0h1.3v1.3h-1.3zM140.5 94.7h1.3v1.3h-1.3zM142.5 83.2h1.3v1.3h-1.3zM145.4 86.0h1.3v1.3h-1.3zM140.6 93.1h1.3v1.3h-1.3zM142.9 97.2h1.3v1.3h-1.3zM141.7 94.9h1.3v1.3h-1.3zM145.9 87.8h1.3v1.3h-1.3zM148.3 91.4h1.3v1.3h-1.3zM137.0 92.4h1.3v1.3h-1.3zM146.3 89.3h1.3v1.3h-1.3zM137.3 89.4h1.3v1.3h-1.3zM138.8 93.3h1.3v1.3h-1.3zM148.3 94.3h1.3v1.3h-1.3zM152.1 95.1h1.3v1.3h-1.3zM138.9 94.8h1.3v1.3h-1.3zM137.1 88.3h1.3v1.3h-1.3zM141.5 91.4h1.3v1.3h-1.3zM143.9 93.4h1.3v1.3h-1.3zM144.4 89.2h1.3v1.3h-1.3zM141.0 92.7h1.3v1.3h-1.3zM142.6 92.3h1.3v1.3h-1.3zM143.9 95.5h1.3v1.3h-1.3zM146.1 91.0h1.3v1.3h-1.3zM147.0 91.7h1.3v1.3h-1.3zM143.7 91.3h1.3v1.3h-1.3zM139.5 90.6h1.3v1.3h-1.3zM140.5 95.7h1.3v1.3h-1.3zM146.9 91.2h1.3v1.3h-1.3zM138.6 92.3h1.3v1.3h-1.3zM145.7 94.5h1.3v1.3h-1.3zM139.6 94.7h1.3v1.3h-1.3zM140.0 92.1h1.3v1.3h-1.3zM138.5 90.7h1.3v1.3h-1.3zM143.4 96.7h1.3v1.3h-1.3zM143.3 88.3h1.3v1.3h-1.3zM146.2 97.1h1.3v1.3h-1.3zM141.2 91.4h1.3v1.3h-1.3zM142.4 85.2h1.3v1.3h-1.3zM145.8 92.1h1.3v1.3h-1.3zM151.8 91.5h1.3v1.3h-1.3zM150.8 90.3h1.3v1.3h-1.3zM146.6 98.2h1.3v1.3h-1.3zM137.7 91.1h1.3v1.3h-1.3zM137.2 87.0h1.3v1.3h-1.3zM142.6 93.3h1.3v1.3h-1.3zM146.1 91.4h1.3v1.3h-1.3zM138.9 88.8h1.3v1.3h-1.3zM147.9 87.7h1.3v1.3h-1.3zM142.3 91.5h1.3v1.3h-1.3zM139.4 93.1h1.3v1.3h-1.3zM145.6 95.1h1.3v1.3h-1.3zM142.9 94.8h1.3v1.3h-1.3zM148.9 89.4h1.3v1.3h-1.3zM137.7 86.9h1.3v1.3h-1.3zM141.1 89.6h1.3v1.3h-1.3zM147.0 88.8h1.3v1.3h-1.3zM139.7 93.1h1.3v1.3h-1.3zM141.8 89.9h1.3v1.3h-1.3zM146.0 95.2h1.3v1.3h-1.3zM137.4 91.3h1.3v1.3h-1.3zM138.1 91.6h1.3v1.3h-1.3zM154.4 91.4h1.3v1.3h-1.3zM143.3 86.2h1.3v1.3h-1.3zM140.7 91.6h1.3v1.3h-1.3zM143.7 97.4h1.3v1.3h-1.3zM149.2 95.9h1.3v1.3h-1.3zM149.8 91.4h1.3v1.3h-1.3zM137.1 94.2h1.3v1.3h-1.3zM149.3 92.0h1.3v1.3h-1.3zM139.6 87.7h1.3v1.3h-1.3zM147.7 94.4h1.3v1.3h-1.3zM137.4 91.6h1.3v1.3h-1.3zM137.4 96.5h1.3v1.3h-1.3zM141.9 92.2h1.3v1.3h-1.3zM142.2 90.1h1.3v1.3h-1.3zM148.6 94.6h1.3v1.3h-1.3zM148.6 92.4h1.3v1.3h-1.3zM140.0 90.6h1.3v1.3h-1.3zM144.2 92.9h1.3v1.3h-1.3zM137.0 89.1h1.3v1.3h-1.3zM140.7 90.9h1.3v1.3h-1.3zM145.1 92.6h1.3v1.3h-1.3zM150.5 95.3h1.3v1.3h-1.3zM137.3 86.1h1.3v1.3h-1.3zM137.5 95.4h1.3v1.3h-1.3zM150.9 93.7h1.3v1.3h-1.3zM139.9 93.8h1.3v1.3h-1.3zM142.9 92.1h1.3v1.3h-1.3zM149.5 97.9h1.3v1.3h-1.3zM139.4 93.3h1.3v1.3h-1.3zM153.0 86.8h1.3v1.3h-1.3zM140.2 92.3h1.3v1.3h-1.3zM139.3 94.8h1.3v1.3h-1.3zM142.4 88.3h1.3v1.3h-1.3zM146.7 94.4h1.3v1.3h-1.3zM144.8 92.4h1.3v1.3h-1.3zM152.8 95.4h1.3v1.3h-1.3zM148.8 90.8h1.3v1.3h-1.3zM148.2 90.9h1.3v1.3h-1.3zM149.9 94.4h1.3v1.3h-1.3zM141.0 91.5h1.3v1.3h-1.3zM148.8 97.0h1.3v1.3h-1.3zM137.7 91.3h1.3v1.3h-1.3zM143.0 88.7h1.3v1.3h-1.3zM141.0 97.7h1.3v1.3h-1.3zM142.2 90.4h1.3v1.3h-1.3zM145.8 90.8h1.3v1.3h-1.3zM143.5 89.3h1.3v1.3h-1.3zM148.8 89.7h1.3v1.3h-1.3zM144.5 91.3h1.3v1.3h-1.3zM150.7 93.2h1.3v1.3h-1.3zM152.6 93.7h1.3v1.3h-1.3zM140.0 93.1h1.3v1.3h-1.3zM137.0 92.8h1.3v1.3h-1.3zM141.8 92.0h1.3v1.3h-1.3zM137.4 87.7h1.3v1.3h-1.3zM142.7 90.4h1.3v1.3h-1.3zM139.0 90.7h1.3v1.3h-1.3zM149.3 88.1h1.3v1.3h-1.3zM145.2 98.3h1.3v1.3h-1.3zM146.5 90.0h1.3v1.3h-1.3zM142.8 93.1h1.3v1.3h-1.3zM152.3 95.9h1.3v1.3h-1.3zM146.2 93.5h1.3v1.3h-1.3zM153.5 82.3h1.3v1.3h-1.3zM147.0 97.9h1.3v1.3h-1.3zM137.5 88.0h1.3v1.3h-1.3zM139.7 95.4h1.3v1.3h-1.3zM142.8 95.2h1.3v1.3h-1.3zM147.9 86.3h1.3v1.3h-1.3zM141.5 96.2h1.3v1.3h-1.3zM143.0 91.2h1.3v1.3h-1.3zM144.2 88.7h1.3v1.3h-1.3zM147.4 93.5h1.3v1.3h-1.3zM147.4 93.2h1.3v1.3h-1.3zM146.9 94.7h1.3v1.3h-1.3zM139.4 90.6h1.3v1.3h-1.3zM137.6 96.7h1.3v1.3h-1.3zM138.0 90.2h1.3v1.3h-1.3zM141.3 84.8h1.3v1.3h-1.3zM137.2 95.3h1.3v1.3h-1.3zM140.2 98.0h1.3v1.3h-1.3zM141.7 88.5h1.3v1.3h-1.3zM137.0 94.6h1.3v1.3h-1.3zM139.6 84.0h1.3v1.3h-1.3zM138.8 92.5h1.3v1.3h-1.3zM147.4 92.2h1.3v1.3h-1.3zM137.9 90.5h1.3v1.3h-1.3zM148.2 95.2h1.3v1.3h-1.3zM146.5 91.0h1.3v1.3h-1.3zM148.0 92.1h1.3v1.3h-1.3zM149.8 90.5h1.3v1.3h-1.3zM137.9 89.0h1.3v1.3h-1.3zM139.2 88.7h1.3v1.3h-1.3zM141.5 89.6h1.3v1.3h-1.3zM138.1 94.8h1.3v1.3h-1.3zM153.3 88.7h1.3v1.3h-1.3zM149.4 96.3h1.3v1.3h-1.3zM142.5 93.6h1.3v1.3h-1.3zM139.6 94.0h1.3v1.3h-1.3zM140.3 91.2h1.3v1.3h-1.3zM147.5 95.2h1.3v1.3h-1.3zM151.5 98.7h1.3v1.3h-1.3zM137.3 88.9h1.3v1.3h-1.3zM146.8 96.5h1.3v1.3h-1.3zM141.3 95.8h1.3v1.3h-1.3zM139.2 84.7h1.3v1.3h-1.3zM141.6 96.1h1.3v1.3h-1.3zM139.4 91.3h1.3v1.3h-1.3zM140.1 94.2h1.3v1.3h-1.3zM139.8 94.6h1.3v1.3h-1.3zM146.6 90.3h1.3v1.3h-1.3zM145.3 92.8h1.3v1.3h-1.3zM147.8 94.0h1.3v1.3h-1.3zM138.1 96.4h1.3v1.3h-1.3zM154.0 89.3h1.3v1.3h-1.3zM137.5 93.9h1.3v1.3h-1.3zM144.3 90.7h1.3v1.3h-1.3zM145.5 88.4h1.3v1.3h-1.3zM140.4 91.1h1.3v1.3h-1.3zM140.8 97.2h1.3v1.3h-1.3zM145.2 91.6h1.3v1.3h-1.3zM141.0 88.8h1.3v1.3h-1.3zM142.8 95.7h1.3v1.3h-1.3zM139.5 89.3h1.3v1.3h-1.3zM146.4 88.5h1.3v1.3h-1.3zM145.7 93.4h1.3v1.3h-1.3zM137.0 91.7h1.3v1.3h-1.3zM146.9 93.5h1.3v1.3h-1.3zM139.0 92.2h1.3v1.3h-1.3zM146.4 91.4h1.3v1.3h-1.3zM137.3 90.7h1.3v1.3h-1.3zM138.1 86.3h1.3v1.3h-1.3zM137.2 92.1h1.3v1.3h-1.3zM147.6 90.6h1.3v1.3h-1.3zM148.9 92.7h1.3v1.3h-1.3zM144.7 86.4h1.3v1.3h-1.3zM139.0 92.1h1.3v1.3h-1.3zM140.6 92.6h1.3v1.3h-1.3zM147.2 94.2h1.3v1.3h-1.3zM146.2 88.0h1.3v1.3h-1.3zM144.6 90.3h1.3v1.3h-1.3zM137.9 90.1h1.3v1.3h-1.3zM145.2 93.9h1.3v1.3h-1.3zM141.5 91.6h1.3v1.3h-1.3zM141.5 85.8h1.3v1.3h-1.3zM151.6 97.6h1.3v1.3h-1.3zM150.9 89.3h1.3v1.3h-1.3zM149.4 90.4h1.3v1.3h-1.3zM138.7 89.4h1.3v1.3h-1.3zM139.2 93.6h1.3v1.3h-1.3zM137.5 96.3h1.3v1.3h-1.3zM148.6 92.0h1.3v1.3h-1.3zM141.1 97.2h1.3v1.3h-1.3zM144.5 92.4h1.3v1.3h-1.3zM138.7 90.6h1.3v1.3h-1.3zM137.3 84.9h1.3v1.3h-1.3zM145.7 91.9h1.3v1.3h-1.3zM142.4 88.2h1.3v1.3h-1.3zM144.8 94.0h1.3v1.3h-1.3zM137.1 92.6h1.3v1.3h-1.3zM137.3 91.3h1.3v1.3h-1.3zM143.0 91.4h1.3v1.3h-1.3zM150.4 88.9h1.3v1.3h-1.3zM139.4 89.4h1.3v1.3h-1.3zM149.2 91.9h1.3v1.3h-1.3zM139.0 92.5h1.3v1.3h-1.3zM137.7 94.5h1.3v1.3h-1.3zM141.2 98.3h1.3v1.3h-1.3zM154.9 84.2h1.3v1.3h-1.3zM148.3 89.9h1.3v1.3h-1.3zM154.6 88.0h1.3v1.3h-1.3zM137.1 93.6h1.3v1.3h-1.3zM141.3 91.9h1.3v1.3h-1.3zM140.6 92.5h1.3v1.3h-1.3zM144.1 92.0h1.3v1.3h-1.3zM147.7 87.8h1.3v1.3h-1.3zM140.9 90.5h1.3v1.3h-1.3zM140.7 90.7h1.3v1.3h-1.3zM149.5 93.2h1.3v1.3h-1.3zM148.8 96.9h1.3v1.3h-1.3zM144.9 91.5h1.3v1.3h-1.3zM137.6 95.7h1.3v1.3h-1.3zM139.6 93.9h1.3v1.3h-1.3zM144.5 95.4h1.3v1.3h-1.3zM139.5 88.6h1.3v1.3h-1.3zM149.1 89.0h1.3v1.3h-1.3zM137.3 91.2h1.3v1.3h-1.3zM138.1 94.0h1.3v1.3h-1.3zM141.8 89.7h1.3v1.3h-1.3zM142.1 91.8h1.3v1.3h-1.3zM139.8 86.1h1.3v1.3h-1.3zM152.5 92.4h1.3v1.3h-1.3zM139.6 98.9h1.3v1.3h-1.3zM145.1 98.7h1.3v1.3h-1.3zM140.9 96.6h1.3v1.3h-1.3zM140.1 88.1h1.3v1.3h-1.3zM145.2 93.9h1.3v1.3h-1.3zM143.0 93.2h1.3v1.3h-1.3zM153.8 91.9h1.3v1.3h-1.3zM138.8 92.8h1.3v1.3h-1.3zM140.1 91.5h1.3v1.3h-1.3zM153.9 92.7h1.3v1.3h-1.3zM138.6 93.2h1.3v1.3h-1.3zM148.7 98.3h1.3v1.3h-1.3zM139.0 93.0h1.3v1.3h-1.3zM151.3 92.1h1.3v1.3h-1.3zM143.1 95.4h1.3v1.3h-1.3zM149.6 90.3h1.3v1.3h-1.3zM138.1 97.1h1.3v1.3h-1.3zM141.1 91.3h1.3v1.3h-1.3zM144.0 99.2h1.3v1.3h-1.3zM149.3 92.2h1.3v1.3h-1.3zM152.3 87.6h1.3v1.3h-1.3zM144.8 91.5h1.3v1.3h-1.3zM146.9 97.9h1.3v1.3h-1.3zM146.1 90.7h1.3v1.3h-1.3zM138.0 93.0h1.3v1.3h-1.3zM145.8 93.4h1.3v1.3h-1.3zM142.0 93.1h1.3v1.3h-1.3zM139.8 90.3h1.3v1.3h-1.3zM143.3 93.8h1.3v1.3h-1.3zM139.6 89.2h1.3v1.3h-1.3zM139.3 93.6h1.3v1.3h-1.3zM139.7 90.5h1.3v1.3h-1.3zM143.7 89.5h1.3v1.3h-1.3zM137.6 98.6h1.3v1.3h-1.3zM144.4 88.5h1.3v1.3h-1.3zM139.5 88.4h1.3v1.3h-1.3zM138.7 86.9h1.3v1.3h-1.3zM139.9 93.5h1.3v1.3h-1.3zM154.3 91.3h1.3v1.3h-1.3zM150.9 90.8h1.3v1.3h-1.3zM146.0 94.3h1.3v1.3h-1.3zM143.9 90.4h1.3v1.3h-1.3zM144.6 87.6h1.3v1.3h-1.3zM143.9 85.1h1.3v1.3h-1.3zM153.9 92.1h1.3v1.3h-1.3zM140.4 92.2h1.3v1.3h-1.3zM146.9 95.4h1.3v1.3h-1.3zM141.2 91.7h1.3v1.3h-1.3zM144.0 89.2h1.3v1.3h-1.3zM152.6 91.1h1.3v1.3h-1.3zM146.5 90.7h1.3v1.3h-1.3zM145.9 94.0h1.3v1.3h-1.3zM140.0 88.0h1.3v1.3h-1.3zM151.3 87.8h1.3v1.3h-1.3zM152.5 94.6h1.3v1.3h-1.3zM147.7 92.7h1.3v1.3h-1.3zM141.6 99.1h1.3v1.3h-1.3zM144.8 91.8h1.3v1.3h-1.3zM137.7 92.4h1.3v1.3h-1.3zM150.9 95.4h1.3v1.3h-1.3zM142.0 93.7h1.3v1.3h-1.3zM148.3 91.4h1.3v1.3h-1.3zM144.3 93.4h1.3v1.3h-1.3zM143.4 95.0h1.3v1.3h-1.3zM138.7 94.8h1.3v1.3h-1.3zM139.2 89.1h1.3v1.3h-1.3zM149.8 93.7h1.3v1.3h-1.3zM143.9 88.1h1.3v1.3h-1.3zM139.6 88.8h1.3v1.3h-1.3zM142.6 88.7h1.3v1.3h-1.3zM137.6 96.9h1.3v1.3h-1.3zM143.4 91.8h1.3v1.3h-1.3zM148.9 94.3h1.3v1.3h-1.3zM139.2 94.1h1.3v1.3h-1.3zM143.8 92.4h1.3v1.3h-1.3zM146.8 85.1h1.3v1.3h-1.3zM140.5 92.4h1.3v1.3h-1.3zM143.2 92.5h1.3v1.3h-1.3zM143.3 91.9h1.3v1.3h-1.3zM141.4 91.8h1.3v1.3h-1.3zM151.1 91.8h1.3v1.3h-1.3zM151.1 94.7h1.3v1.3h-1.3zM145.2 91.2h1.3v1.3h-1.3zM149.4 93.0h1.3v1.3h-1.3zM141.7 92.6h1.3v1.3h-1.3zM145.8 87.8h1.3v1.3h-1.3zM150.8 86.2h1.3v1.3h-1.3zM144.1 91.8h1.3v1.3h-1.3zM145.5 92.9h1.3v1.3h-1.3zM137.5 97.5h1.3v1.3h-1.3zM138.1 92.3h1.3v1.3h-1.3zM143.2 90.3h1.3v1.3h-1.3zM144.1 90.8h1.3v1.3h-1.3zM139.9 91.0h1.3v1.3h-1.3zM139.2 91.5h1.3v1.3h-1.3zM138.5 96.8h1.3v1.3h-1.3zM140.5 94.0h1.3v1.3h-1.3zM142.8 91.9h1.3v1.3h-1.3zM137.2 90.4h1.3v1.3h-1.3zM148.6 90.8h1.3v1.3h-1.3zM143.0 94.0h1.3v1.3h-1.3zM138.5 88.1h1.3v1.3h-1.3zM141.7 92.1h1.3v1.3h-1.3zM141.0 94.2h1.3v1.3h-1.3zM145.5 89.6h1.3v1.3h-1.3zM150.2 93.1h1.3v1.3h-1.3zM150.7 85.8h1.3v1.3h-1.3zM138.4 91.5h1.3v1.3h-1.3zM145.6 93.7h1.3v1.3h-1.3zM143.1 84.8h1.3v1.3h-1.3zM140.0 93.4h1.3v1.3h-1.3zM143.5 90.4h1.3v1.3h-1.3zM155.1 92.1h1.3v1.3h-1.3zM137.8 91.3h1.3v1.3h-1.3zM144.7 94.0h1.3v1.3h-1.3zM140.9 91.4h1.3v1.3h-1.3zM143.9 98.2h1.3v1.3h-1.3zM161.4 99.2h1.3v1.3h-1.3zM157.3 93.2h1.3v1.3h-1.3zM159.8 88.0h1.3v1.3h-1.3zM155.5 91.1h1.3v1.3h-1.3zM151.9 92.4h1.3v1.3h-1.3zM178.2 99.0h1.3v1.3h-1.3zM157.8 89.7h1.3v1.3h-1.3zM175.8 83.7h1.3v1.3h-1.3zM158.5 95.0h1.3v1.3h-1.3zM158.1 91.4h1.3v1.3h-1.3zM159.1 86.4h1.3v1.3h-1.3zM155.8 90.7h1.3v1.3h-1.3zM177.3 96.7h1.3v1.3h-1.3zM167.5 91.2h1.3v1.3h-1.3zM153.4 92.9h1.3v1.3h-1.3zM155.2 90.0h1.3v1.3h-1.3zM154.0 89.9h1.3v1.3h-1.3zM159.5 90.5h1.3v1.3h-1.3zM160.1 89.3h1.3v1.3h-1.3zM161.4 92.0h1.3v1.3h-1.3zM163.8 85.1h1.3v1.3h-1.3zM150.7 86.8h1.3v1.3h-1.3zM150.8 86.6h1.3v1.3h-1.3zM153.0 96.2h1.3v1.3h-1.3zM157.6 89.4h1.3v1.3h-1.3zM155.9 90.0h1.3v1.3h-1.3zM155.7 86.1h1.3v1.3h-1.3zM155.3 86.2h1.3v1.3h-1.3zM152.2 89.5h1.3v1.3h-1.3zM155.6 92.7h1.3v1.3h-1.3zM152.1 96.6h1.3v1.3h-1.3zM150.3 94.0h1.3v1.3h-1.3zM156.5 88.1h1.3v1.3h-1.3zM150.9 91.6h1.3v1.3h-1.3zM163.1 92.1h1.3v1.3h-1.3zM154.3 95.8h1.3v1.3h-1.3zM154.3 85.9h1.3v1.3h-1.3zM151.1 94.8h1.3v1.3h-1.3zM153.6 89.6h1.3v1.3h-1.3zM168.3 97.3h1.3v1.3h-1.3zM154.4 89.3h1.3v1.3h-1.3zM155.2 93.1h1.3v1.3h-1.3zM151.6 90.8h1.3v1.3h-1.3zM166.4 87.9h1.3v1.3h-1.3zM156.5 98.5h1.3v1.3h-1.3zM155.2 92.8h1.3v1.3h-1.3zM160.3 95.6h1.3v1.3h-1.3zM155.4 99.9h1.3v1.3h-1.3zM157.6 86.9h1.3v1.3h-1.3zM157.3 88.9h1.3v1.3h-1.3zM150.1 86.0h1.3v1.3h-1.3zM173.8 86.9h1.3v1.3h-1.3zM158.6 85.9h1.3v1.3h-1.3zM162.2 94.1h1.3v1.3h-1.3zM150.0 87.3h1.3v1.3h-1.3zM116.5 79.7h1.3v1.3h-1.3zM104.9 100.1h1.3v1.3h-1.3zM83.1 103.8h1.3v1.3h-1.3zM123.8 101.8h1.3v1.3h-1.3zM98.0 82.6h1.3v1.3h-1.3zM132.6 82.6h1.3v1.3h-1.3zM88.2 81.2h1.3v1.3h-1.3zM91.2 79.1h1.3v1.3h-1.3zM100.6 104.9h1.3v1.3h-1.3zM135.7 102.9h1.3v1.3h-1.3zM99.7 80.0h1.3v1.3h-1.3zM137.4 79.9h1.3v1.3h-1.3zM107.0 101.9h1.3v1.3h-1.3zM143.2 100.7h1.3v1.3h-1.3zM123.2 82.2h1.3v1.3h-1.3zM103.6 81.8h1.3v1.3h-1.3zM86.7 81.1h1.3v1.3h-1.3zM86.9 103.0h1.3v1.3h-1.3zM146.4 101.3h1.3v1.3h-1.3zM91.7 102.9h1.3v1.3h-1.3zM134.0 106.0h1.3v1.3h-1.3zM121.7 81.5h1.3v1.3h-1.3zM147.9 102.1h1.3v1.3h-1.3zM132.8 105.3h1.3v1.3h-1.3zM116.1 100.8h1.3v1.3h-1.3zM85.2 83.0h1.3v1.3h-1.3zM150.1 82.1h1.3v1.3h-1.3zM124.3 81.5h1.3v1.3h-1.3zM149.8 100.9h1.3v1.3h-1.3zM114.3 80.9h1.3v1.3h-1.3zM143.7 82.6h1.3v1.3h-1.3zM119.2 102.1h1.3v1.3h-1.3zM144.8 80.4h1.3v1.3h-1.3zM94.8 104.0h1.3v1.3h-1.3zM108.8 81.6h1.3v1.3h-1.3zM147.3 80.9h1.3v1.3h-1.3zM130.3 79.6h1.3v1.3h-1.3zM141.4 80.6h1.3v1.3h-1.3zM155.5 78.1h1.3v1.3h-1.3zM95.2 105.6h1.3v1.3h-1.3zM139.1 104.2h1.3v1.3h-1.3zM89.4 101.9h1.3v1.3h-1.3zM125.2 79.6h1.3v1.3h-1.3zM118.8 102.6h1.3v1.3h-1.3zM141.0 81.9h1.3v1.3h-1.3zM170 82h1.3v1.3h-1.3zM186 85h1.3v1.3h-1.3zM186 87h1.3v1.3h-1.3zM197 90h1.3v1.3h-1.3zM208.8 88.2h1.3v1.3h-1.3zM198 96h1.3v1.3h-1.3zM191 100.5h1.3v1.3h-1.3zM185 92.5h1.3v1.3h-1.3zM177.5 98.8h1.3v1.3h-1.3zM173.8 86h1.3v1.3h-1.3zM168 101h1.3v1.3h-1.3zM180 96h1.3v1.3h-1.3zM195 93h1.3v1.3h-1.3zM203 97h1.3v1.3h-1.3zM160 80h1.3v1.3h-1.3zM163 98h1.3v1.3h-1.3zM175 90h1.3v1.3h-1.3zM182 99h1.3v1.3h-1.3zM157 99h1.3v1.3h-1.3zM165 84h1.3v1.3h-1.3zM150.5 77h1.3v1.3h-1.3zM148 72h1.3v1.3h-1.3zM100.3 178.4h1.3v1.3h-1.3zM105.9 157.8h1.3v1.3h-1.3zM91.9 184.9h1.3v1.3h-1.3zM97.5 171.3h1.3v1.3h-1.3zM91.4 168.5h1.3v1.3h-1.3zM85.2 168.4h1.3v1.3h-1.3zM92.9 169.4h1.3v1.3h-1.3zM99.7 177.2h1.3v1.3h-1.3zM105.4 174.7h1.3v1.3h-1.3zM94.9 180.3h1.3v1.3h-1.3zM99.8 150.7h1.3v1.3h-1.3zM108.5 189.3h1.3v1.3h-1.3zM101.4 180.9h1.3v1.3h-1.3zM88.9 166.6h1.3v1.3h-1.3zM85.4 182.1h1.3v1.3h-1.3zM96.1 154.3h1.3v1.3h-1.3zM88.3 158.9h1.3v1.3h-1.3zM96.7 161.9h1.3v1.3h-1.3zM91.5 156.2h1.3v1.3h-1.3zM101.1 167.7h1.3v1.3h-1.3zM89.9 173.7h1.3v1.3h-1.3zM87.4 163.8h1.3v1.3h-1.3zM103.5 183.3h1.3v1.3h-1.3zM87.5 160.5h1.3v1.3h-1.3zM92.3 155.8h1.3v1.3h-1.3zM105.3 175.1h1.3v1.3h-1.3zM95.3 167.7h1.3v1.3h-1.3zM101.7 179.2h1.3v1.3h-1.3zM103.5 168.0h1.3v1.3h-1.3zM111.3 174.8h1.3v1.3h-1.3zM106.1 169.3h1.3v1.3h-1.3zM99.9 176.0h1.3v1.3h-1.3zM108.4 169.1h1.3v1.3h-1.3zM106.4 173.9h1.3v1.3h-1.3zM108.7 166.9h1.3v1.3h-1.3zM94.4 163.9h1.3v1.3h-1.3zM97.4 172.4h1.3v1.3h-1.3zM96.2 162.2h1.3v1.3h-1.3zM105.3 162.8h1.3v1.3h-1.3zM105.2 179.7h1.3v1.3h-1.3zM91.0 164.6h1.3v1.3h-1.3zM92.6 189.6h1.3v1.3h-1.3zM90.9 173.9h1.3v1.3h-1.3zM84.0 176.4h1.3v1.3h-1.3zM101.1 166.0h1.3v1.3h-1.3zM94.8 159.0h1.3v1.3h-1.3zM100.5 170.5h1.3v1.3h-1.3zM102.3 169.3h1.3v1.3h-1.3zM106.5 165.6h1.3v1.3h-1.3zM85.5 171.0h1.3v1.3h-1.3zM91.8 186.8h1.3v1.3h-1.3zM84.0 160.3h1.3v1.3h-1.3zM114.8 166.0h1.3v1.3h-1.3zM99.0 178.5h1.3v1.3h-1.3zM102.3 182.3h1.3v1.3h-1.3zM100.9 177.4h1.3v1.3h-1.3zM91.2 168.3h1.3v1.3h-1.3zM104.1 161.8h1.3v1.3h-1.3zM94.8 173.6h1.3v1.3h-1.3zM83.4 181.2h1.3v1.3h-1.3zM92.5 162.0h1.3v1.3h-1.3zM100.4 173.0h1.3v1.3h-1.3zM101.2 178.1h1.3v1.3h-1.3zM98.1 155.5h1.3v1.3h-1.3zM90.9 165.0h1.3v1.3h-1.3zM96.2 178.0h1.3v1.3h-1.3zM93.2 161.3h1.3v1.3h-1.3zM92.3 189.4h1.3v1.3h-1.3zM95.3 156.3h1.3v1.3h-1.3zM94.7 172.9h1.3v1.3h-1.3zM103.2 167.5h1.3v1.3h-1.3zM91.0 178.7h1.3v1.3h-1.3zM85.7 155.0h1.3v1.3h-1.3zM92.7 168.3h1.3v1.3h-1.3zM94.3 161.3h1.3v1.3h-1.3zM91.3 156.7h1.3v1.3h-1.3zM104.0 173.3h1.3v1.3h-1.3zM84.6 162.5h1.3v1.3h-1.3zM95.0 151.5h1.3v1.3h-1.3zM100.9 172.3h1.3v1.3h-1.3zM85.4 162.8h1.3v1.3h-1.3zM112.4 166.8h1.3v1.3h-1.3zM85.2 166.8h1.3v1.3h-1.3zM99.5 154.2h1.3v1.3h-1.3zM85.7 168.0h1.3v1.3h-1.3zM86.7 176.2h1.3v1.3h-1.3zM95.3 160.9h1.3v1.3h-1.3zM85.9 173.4h1.3v1.3h-1.3zM100.3 160.1h1.3v1.3h-1.3zM87.1 180.8h1.3v1.3h-1.3zM83.6 165.2h1.3v1.3h-1.3zM105.8 169.3h1.3v1.3h-1.3zM94.8 164.6h1.3v1.3h-1.3zM84.2 184.6h1.3v1.3h-1.3zM96.1 178.2h1.3v1.3h-1.3zM84.2 158.4h1.3v1.3h-1.3zM84.1 161.8h1.3v1.3h-1.3zM111.5 165.9h1.3v1.3h-1.3zM106.1 180.4h1.3v1.3h-1.3zM89.8 155.3h1.3v1.3h-1.3zM92.7 180.1h1.3v1.3h-1.3zM98.1 177.0h1.3v1.3h-1.3zM103.4 175.2h1.3v1.3h-1.3zM100.4 182.1h1.3v1.3h-1.3zM105.0 173.3h1.3v1.3h-1.3zM99.2 169.3h1.3v1.3h-1.3zM93.8 174.6h1.3v1.3h-1.3zM89.1 164.9h1.3v1.3h-1.3zM102.0 163.6h1.3v1.3h-1.3zM92.7 174.8h1.3v1.3h-1.3zM85.0 174.1h1.3v1.3h-1.3zM96.3 168.8h1.3v1.3h-1.3zM85.5 171.7h1.3v1.3h-1.3zM91.1 192.2h1.3v1.3h-1.3zM105.6 169.0h1.3v1.3h-1.3zM91.6 170.6h1.3v1.3h-1.3zM103.0 164.5h1.3v1.3h-1.3zM92.9 162.1h1.3v1.3h-1.3zM89.5 165.1h1.3v1.3h-1.3zM103.6 166.7h1.3v1.3h-1.3zM117.1 167.7h1.3v1.3h-1.3zM110.4 175.8h1.3v1.3h-1.3zM92.4 175.3h1.3v1.3h-1.3zM88.4 178.3h1.3v1.3h-1.3zM96.6 175.0h1.3v1.3h-1.3zM86.8 153.7h1.3v1.3h-1.3zM91.7 181.7h1.3v1.3h-1.3zM92.8 178.3h1.3v1.3h-1.3zM97.0 160.9h1.3v1.3h-1.3zM83.6 169.0h1.3v1.3h-1.3zM90.2 181.7h1.3v1.3h-1.3zM95.6 177.9h1.3v1.3h-1.3zM91.7 186.2h1.3v1.3h-1.3zM109.4 172.4h1.3v1.3h-1.3zM83.2 174.4h1.3v1.3h-1.3zM98.0 161.7h1.3v1.3h-1.3zM92.3 173.2h1.3v1.3h-1.3zM86.6 165.2h1.3v1.3h-1.3zM88.2 162.4h1.3v1.3h-1.3zM89.7 166.3h1.3v1.3h-1.3zM92.8 177.2h1.3v1.3h-1.3zM111.6 157.7h1.3v1.3h-1.3zM94.5 170.7h1.3v1.3h-1.3zM84.5 173.5h1.3v1.3h-1.3zM94.0 167.0h1.3v1.3h-1.3zM84.8 172.2h1.3v1.3h-1.3zM83.0 178.5h1.3v1.3h-1.3zM94.1 159.0h1.3v1.3h-1.3zM89.1 161.3h1.3v1.3h-1.3zM101.3 179.5h1.3v1.3h-1.3zM87.7 166.7h1.3v1.3h-1.3zM105.4 187.3h1.3v1.3h-1.3zM92.4 166.3h1.3v1.3h-1.3zM108.1 175.7h1.3v1.3h-1.3zM84.9 151.2h1.3v1.3h-1.3zM89.3 166.1h1.3v1.3h-1.3zM96.6 160.5h1.3v1.3h-1.3zM103.2 167.7h1.3v1.3h-1.3zM85.6 179.9h1.3v1.3h-1.3zM95.9 159.1h1.3v1.3h-1.3zM91.0 176.2h1.3v1.3h-1.3zM99.9 169.5h1.3v1.3h-1.3zM95.2 166.7h1.3v1.3h-1.3zM101.7 169.1h1.3v1.3h-1.3zM95.2 169.6h1.3v1.3h-1.3zM98.8 181.2h1.3v1.3h-1.3zM105.4 168.4h1.3v1.3h-1.3zM86.0 154.8h1.3v1.3h-1.3zM87.2 148.2h1.3v1.3h-1.3zM87.8 173.0h1.3v1.3h-1.3zM91.0 169.2h1.3v1.3h-1.3zM90.2 183.2h1.3v1.3h-1.3zM94.1 175.0h1.3v1.3h-1.3zM100.3 175.6h1.3v1.3h-1.3zM89.1 163.3h1.3v1.3h-1.3zM107.6 177.7h1.3v1.3h-1.3zM83.9 157.7h1.3v1.3h-1.3zM103.6 167.1h1.3v1.3h-1.3zM100.1 178.2h1.3v1.3h-1.3zM89.7 174.9h1.3v1.3h-1.3zM108.5 176.6h1.3v1.3h-1.3zM89.1 172.2h1.3v1.3h-1.3zM91.2 168.7h1.3v1.3h-1.3zM102.2 158.9h1.3v1.3h-1.3zM89.7 184.9h1.3v1.3h-1.3zM91.5 160.4h1.3v1.3h-1.3zM108.7 150.7h1.3v1.3h-1.3zM113.7 178.8h1.3v1.3h-1.3zM96.5 163.3h1.3v1.3h-1.3zM91.4 165.2h1.3v1.3h-1.3zM103.6 159.1h1.3v1.3h-1.3zM88.9 171.2h1.3v1.3h-1.3zM99.0 177.4h1.3v1.3h-1.3zM90.3 166.4h1.3v1.3h-1.3zM89.7 161.8h1.3v1.3h-1.3zM94.1 176.8h1.3v1.3h-1.3zM111.7 154.8h1.3v1.3h-1.3zM97.2 169.0h1.3v1.3h-1.3zM83.2 177.3h1.3v1.3h-1.3zM105.3 168.5h1.3v1.3h-1.3zM87.1 176.4h1.3v1.3h-1.3zM105.3 156.8h1.3v1.3h-1.3zM88.8 183.9h1.3v1.3h-1.3zM104.7 165.3h1.3v1.3h-1.3zM99.3 165.4h1.3v1.3h-1.3zM98.7 169.2h1.3v1.3h-1.3zM97.1 162.4h1.3v1.3h-1.3zM90.2 177.4h1.3v1.3h-1.3zM96.4 170.7h1.3v1.3h-1.3zM83.6 172.1h1.3v1.3h-1.3zM95.2 175.1h1.3v1.3h-1.3zM100.4 172.2h1.3v1.3h-1.3zM85.2 170.1h1.3v1.3h-1.3zM105.8 174.8h1.3v1.3h-1.3zM104.9 181.2h1.3v1.3h-1.3zM105.3 161.6h1.3v1.3h-1.3zM101.8 172.9h1.3v1.3h-1.3zM87.8 160.4h1.3v1.3h-1.3zM106.9 162.8h1.3v1.3h-1.3zM93.7 181.0h1.3v1.3h-1.3zM96.4 185.2h1.3v1.3h-1.3zM82.1 177.1h1.3v1.3h-1.3zM92.8 175.2h1.3v1.3h-1.3zM97.1 169.6h1.3v1.3h-1.3zM97.2 177.5h1.3v1.3h-1.3zM94.2 174.7h1.3v1.3h-1.3zM105.9 153.1h1.3v1.3h-1.3zM113.6 168.5h1.3v1.3h-1.3zM104.6 177.3h1.3v1.3h-1.3zM104.3 175.6h1.3v1.3h-1.3zM104.3 165.3h1.3v1.3h-1.3zM105.0 158.5h1.3v1.3h-1.3zM90.5 174.9h1.3v1.3h-1.3zM104.2 158.0h1.3v1.3h-1.3zM88.0 166.6h1.3v1.3h-1.3zM115.1 166.2h1.3v1.3h-1.3zM104.1 159.9h1.3v1.3h-1.3zM84.6 163.8h1.3v1.3h-1.3zM90.1 179.2h1.3v1.3h-1.3zM99.9 166.5h1.3v1.3h-1.3zM95.9 166.5h1.3v1.3h-1.3zM86.8 166.5h1.3v1.3h-1.3zM93.6 169.9h1.3v1.3h-1.3zM89.6 151.1h1.3v1.3h-1.3zM87.9 150.7h1.3v1.3h-1.3zM98.8 172.7h1.3v1.3h-1.3zM106.1 154.7h1.3v1.3h-1.3zM98.5 175.2h1.3v1.3h-1.3zM101.4 184.0h1.3v1.3h-1.3zM102.5 173.6h1.3v1.3h-1.3zM103.5 186.4h1.3v1.3h-1.3zM90.5 153.6h1.3v1.3h-1.3zM91.3 187.0h1.3v1.3h-1.3zM94.4 174.2h1.3v1.3h-1.3zM89.1 176.8h1.3v1.3h-1.3zM83.5 169.8h1.3v1.3h-1.3zM91.4 158.5h1.3v1.3h-1.3zM105.1 175.2h1.3v1.3h-1.3zM84.3 176.4h1.3v1.3h-1.3zM86.9 174.8h1.3v1.3h-1.3zM88.7 171.1h1.3v1.3h-1.3zM83.8 166.1h1.3v1.3h-1.3zM110.1 186.4h1.3v1.3h-1.3zM95.1 151.0h1.3v1.3h-1.3zM110.6 162.5h1.3v1.3h-1.3zM103.0 164.9h1.3v1.3h-1.3zM102.0 160.6h1.3v1.3h-1.3zM96.8 168.6h1.3v1.3h-1.3zM86.3 192.0h1.3v1.3h-1.3zM85.1 154.7h1.3v1.3h-1.3zM96.1 177.8h1.3v1.3h-1.3zM99.6 164.7h1.3v1.3h-1.3zM89.6 161.3h1.3v1.3h-1.3zM86.2 169.9h1.3v1.3h-1.3zM87.1 171.8h1.3v1.3h-1.3zM97.9 164.7h1.3v1.3h-1.3zM97.5 184.1h1.3v1.3h-1.3zM100.1 168.7h1.3v1.3h-1.3zM94.2 159.1h1.3v1.3h-1.3zM88.2 183.1h1.3v1.3h-1.3zM91.0 173.4h1.3v1.3h-1.3zM107.5 176.2h1.3v1.3h-1.3zM98.8 175.6h1.3v1.3h-1.3zM109.6 161.3h1.3v1.3h-1.3zM92.9 173.1h1.3v1.3h-1.3zM97.7 164.2h1.3v1.3h-1.3zM91.4 181.0h1.3v1.3h-1.3zM103.5 186.0h1.3v1.3h-1.3zM95.8 171.6h1.3v1.3h-1.3zM102.2 168.6h1.3v1.3h-1.3zM102.2 163.6h1.3v1.3h-1.3zM101.2 172.8h1.3v1.3h-1.3zM90.9 173.8h1.3v1.3h-1.3zM98.3 173.6h1.3v1.3h-1.3zM92.8 179.9h1.3v1.3h-1.3zM94.3 170.5h1.3v1.3h-1.3zM115.6 167.5h1.3v1.3h-1.3zM97.4 172.3h1.3v1.3h-1.3zM106.9 165.4h1.3v1.3h-1.3zM91.0 160.0h1.3v1.3h-1.3zM97.6 160.4h1.3v1.3h-1.3zM97.7 154.6h1.3v1.3h-1.3zM101.0 162.7h1.3v1.3h-1.3zM118.1 159.0h1.3v1.3h-1.3zM83.4 178.1h1.3v1.3h-1.3zM102.3 172.1h1.3v1.3h-1.3zM108.2 160.6h1.3v1.3h-1.3zM105.0 159.2h1.3v1.3h-1.3zM83.5 171.5h1.3v1.3h-1.3zM94.2 163.0h1.3v1.3h-1.3zM103.5 176.1h1.3v1.3h-1.3zM93.8 165.1h1.3v1.3h-1.3zM105.8 160.1h1.3v1.3h-1.3zM104.2 179.7h1.3v1.3h-1.3zM111.4 155.8h1.3v1.3h-1.3zM97.9 153.4h1.3v1.3h-1.3zM99.7 183.3h1.3v1.3h-1.3zM90.5 169.0h1.3v1.3h-1.3zM84.6 175.0h1.3v1.3h-1.3zM98.8 163.7h1.3v1.3h-1.3zM93.4 160.7h1.3v1.3h-1.3zM99.9 181.6h1.3v1.3h-1.3zM110.0 171.1h1.3v1.3h-1.3zM95.2 163.7h1.3v1.3h-1.3zM90.2 172.2h1.3v1.3h-1.3zM84.3 165.1h1.3v1.3h-1.3zM102.5 165.0h1.3v1.3h-1.3zM85.5 156.8h1.3v1.3h-1.3zM85.8 164.4h1.3v1.3h-1.3zM103.4 171.6h1.3v1.3h-1.3zM113.7 174.7h1.3v1.3h-1.3zM98.6 172.4h1.3v1.3h-1.3zM91.0 169.7h1.3v1.3h-1.3zM91.9 164.9h1.3v1.3h-1.3zM102.8 164.4h1.3v1.3h-1.3zM102.5 160.2h1.3v1.3h-1.3zM104.1 172.5h1.3v1.3h-1.3zM100.8 168.2h1.3v1.3h-1.3zM105.5 166.1h1.3v1.3h-1.3zM100.6 170.7h1.3v1.3h-1.3zM92.9 177.3h1.3v1.3h-1.3zM98.8 167.8h1.3v1.3h-1.3zM108.3 169.0h1.3v1.3h-1.3zM87.5 168.7h1.3v1.3h-1.3zM90.3 156.4h1.3v1.3h-1.3zM94.7 177.0h1.3v1.3h-1.3zM107.2 175.8h1.3v1.3h-1.3zM101.6 160.5h1.3v1.3h-1.3zM108.4 169.4h1.3v1.3h-1.3zM97.2 183.4h1.3v1.3h-1.3zM108.5 181.6h1.3v1.3h-1.3zM114.1 168.6h1.3v1.3h-1.3zM88.2 170.6h1.3v1.3h-1.3zM84.8 163.7h1.3v1.3h-1.3zM111.2 153.9h1.3v1.3h-1.3zM101.5 179.0h1.3v1.3h-1.3zM88.3 164.6h1.3v1.3h-1.3zM98.3 170.1h1.3v1.3h-1.3zM93.9 167.8h1.3v1.3h-1.3zM104.0 156.5h1.3v1.3h-1.3zM102.9 179.1h1.3v1.3h-1.3zM93.0 169.9h1.3v1.3h-1.3zM88.9 176.2h1.3v1.3h-1.3zM100.7 170.2h1.3v1.3h-1.3zM106.8 171.2h1.3v1.3h-1.3zM98.0 185.3h1.3v1.3h-1.3zM87.1 172.5h1.3v1.3h-1.3zM101.1 182.9h1.3v1.3h-1.3zM94.2 164.6h1.3v1.3h-1.3zM100.1 165.1h1.3v1.3h-1.3zM84.5 165.8h1.3v1.3h-1.3zM83.6 170.1h1.3v1.3h-1.3zM101.2 177.1h1.3v1.3h-1.3zM112.0 175.6h1.3v1.3h-1.3zM83.6 189.7h1.3v1.3h-1.3zM92.0 173.9h1.3v1.3h-1.3zM98.2 178.8h1.3v1.3h-1.3zM101.6 168.6h1.3v1.3h-1.3zM91.7 162.7h1.3v1.3h-1.3zM85.7 176.6h1.3v1.3h-1.3zM89.4 170.4h1.3v1.3h-1.3zM84.7 154.8h1.3v1.3h-1.3zM95.0 179.2h1.3v1.3h-1.3zM99.1 171.2h1.3v1.3h-1.3zM98.7 168.0h1.3v1.3h-1.3zM111.8 174.4h1.3v1.3h-1.3zM92.5 164.8h1.3v1.3h-1.3zM99.6 168.0h1.3v1.3h-1.3zM90.7 163.4h1.3v1.3h-1.3zM89.5 161.4h1.3v1.3h-1.3zM102.4 172.1h1.3v1.3h-1.3zM97.5 167.9h1.3v1.3h-1.3zM105.8 185.7h1.3v1.3h-1.3zM99.6 158.3h1.3v1.3h-1.3zM103.0 171.0h1.3v1.3h-1.3zM111.6 164.3h1.3v1.3h-1.3zM98.9 165.8h1.3v1.3h-1.3zM108.9 182.0h1.3v1.3h-1.3zM99.2 174.3h1.3v1.3h-1.3zM105.7 168.8h1.3v1.3h-1.3zM95.2 179.8h1.3v1.3h-1.3zM93.1 157.6h1.3v1.3h-1.3zM102.1 170.8h1.3v1.3h-1.3zM90.4 161.5h1.3v1.3h-1.3zM102.5 169.9h1.3v1.3h-1.3zM104.1 163.5h1.3v1.3h-1.3zM97.6 173.7h1.3v1.3h-1.3zM85.6 175.6h1.3v1.3h-1.3zM87.1 163.7h1.3v1.3h-1.3zM111.0 171.1h1.3v1.3h-1.3zM95.7 170.6h1.3v1.3h-1.3zM97.9 176.1h1.3v1.3h-1.3zM99.1 175.1h1.3v1.3h-1.3zM94.2 166.2h1.3v1.3h-1.3zM92.9 157.5h1.3v1.3h-1.3zM100.9 164.8h1.3v1.3h-1.3zM90.2 165.6h1.3v1.3h-1.3zM84.0 170.8h1.3v1.3h-1.3zM104.6 162.7h1.3v1.3h-1.3zM85.2 150.4h1.3v1.3h-1.3zM110.7 154.4h1.3v1.3h-1.3zM94.0 182.9h1.3v1.3h-1.3zM90.0 162.7h1.3v1.3h-1.3zM101.6 176.3h1.3v1.3h-1.3zM86.1 165.2h1.3v1.3h-1.3zM98.8 166.7h1.3v1.3h-1.3zM87.9 151.2h1.3v1.3h-1.3zM93.4 167.9h1.3v1.3h-1.3zM98.9 169.3h1.3v1.3h-1.3zM105.3 166.6h1.3v1.3h-1.3zM93.3 174.1h1.3v1.3h-1.3zM106.3 156.7h1.3v1.3h-1.3zM103.8 166.5h1.3v1.3h-1.3zM105.3 174.1h1.3v1.3h-1.3zM110.7 164.1h1.3v1.3h-1.3zM107.7 169.1h1.3v1.3h-1.3zM100.7 174.5h1.3v1.3h-1.3zM85.7 174.4h1.3v1.3h-1.3zM92.0 155.0h1.3v1.3h-1.3zM89.8 169.3h1.3v1.3h-1.3zM106.5 154.3h1.3v1.3h-1.3zM113.0 180.5h1.3v1.3h-1.3zM100.4 185.1h1.3v1.3h-1.3zM104.2 174.7h1.3v1.3h-1.3zM99.5 168.3h1.3v1.3h-1.3zM97.7 171.1h1.3v1.3h-1.3zM90.9 153.4h1.3v1.3h-1.3zM88.2 162.4h1.3v1.3h-1.3zM102.7 164.0h1.3v1.3h-1.3zM90.9 185.0h1.3v1.3h-1.3zM113.5 154.2h1.3v1.3h-1.3zM105.9 171.1h1.3v1.3h-1.3zM88.1 168.4h1.3v1.3h-1.3zM83.2 173.5h1.3v1.3h-1.3zM98.0 158.4h1.3v1.3h-1.3zM87.6 176.0h1.3v1.3h-1.3zM91.4 173.7h1.3v1.3h-1.3zM102.2 156.0h1.3v1.3h-1.3zM96.1 171.2h1.3v1.3h-1.3zM108.7 161.9h1.3v1.3h-1.3zM102.1 169.3h1.3v1.3h-1.3zM86.0 170.1h1.3v1.3h-1.3zM102.3 155.6h1.3v1.3h-1.3zM94.3 170.7h1.3v1.3h-1.3zM89.4 177.6h1.3v1.3h-1.3zM113.5 185.4h1.3v1.3h-1.3zM86.0 161.8h1.3v1.3h-1.3zM104.9 162.4h1.3v1.3h-1.3zM92.0 170.2h1.3v1.3h-1.3zM102.7 167.3h1.3v1.3h-1.3zM100.1 168.6h1.3v1.3h-1.3zM82.1 185.1h1.3v1.3h-1.3zM100.3 177.9h1.3v1.3h-1.3zM83.1 168.8h1.3v1.3h-1.3zM93.1 174.3h1.3v1.3h-1.3zM102.8 161.7h1.3v1.3h-1.3zM96.2 172.8h1.3v1.3h-1.3zM88.0 173.9h1.3v1.3h-1.3zM97.7 174.5h1.3v1.3h-1.3zM103.4 191.7h1.3v1.3h-1.3zM91.4 176.7h1.3v1.3h-1.3zM104.9 177.7h1.3v1.3h-1.3zM87.4 162.0h1.3v1.3h-1.3zM106.4 166.8h1.3v1.3h-1.3zM91.0 166.5h1.3v1.3h-1.3zM84.5 168.7h1.3v1.3h-1.3zM85.4 173.6h1.3v1.3h-1.3zM84.4 171.6h1.3v1.3h-1.3zM91.0 154.8h1.3v1.3h-1.3zM109.7 181.8h1.3v1.3h-1.3zM106.1 168.0h1.3v1.3h-1.3zM106.1 155.4h1.3v1.3h-1.3zM89.2 192.3h1.3v1.3h-1.3zM103.3 160.5h1.3v1.3h-1.3zM89.8 179.5h1.3v1.3h-1.3zM86.3 168.2h1.3v1.3h-1.3zM85.5 167.5h1.3v1.3h-1.3zM114.5 167.9h1.3v1.3h-1.3zM97.3 173.5h1.3v1.3h-1.3zM94.3 176.5h1.3v1.3h-1.3zM105.5 151.9h1.3v1.3h-1.3zM101.2 159.5h1.3v1.3h-1.3zM102.3 184.2h1.3v1.3h-1.3zM100.7 170.3h1.3v1.3h-1.3zM96.8 152.7h1.3v1.3h-1.3zM85.3 172.2h1.3v1.3h-1.3zM94.3 173.8h1.3v1.3h-1.3zM88.9 159.7h1.3v1.3h-1.3zM97.3 159.8h1.3v1.3h-1.3zM86.7 180.2h1.3v1.3h-1.3zM99.5 175.9h1.3v1.3h-1.3zM98.3 169.9h1.3v1.3h-1.3zM98.7 170.1h1.3v1.3h-1.3zM105.9 178.2h1.3v1.3h-1.3zM86.2 168.9h1.3v1.3h-1.3zM89.5 162.0h1.3v1.3h-1.3zM102.4 157.3h1.3v1.3h-1.3zM99.2 180.1h1.3v1.3h-1.3zM92.7 182.7h1.3v1.3h-1.3zM96.1 170.8h1.3v1.3h-1.3zM85.7 163.8h1.3v1.3h-1.3zM85.9 166.8h1.3v1.3h-1.3zM104.6 169.8h1.3v1.3h-1.3zM98.7 164.0h1.3v1.3h-1.3zM87.0 177.9h1.3v1.3h-1.3zM99.9 165.8h1.3v1.3h-1.3zM96.7 166.0h1.3v1.3h-1.3zM94.1 177.8h1.3v1.3h-1.3zM98.8 174.8h1.3v1.3h-1.3zM100.8 167.4h1.3v1.3h-1.3zM85.8 185.0h1.3v1.3h-1.3zM114.9 150.9h1.3v1.3h-1.3zM94.1 177.0h1.3v1.3h-1.3zM103.7 166.2h1.3v1.3h-1.3zM86.6 170.6h1.3v1.3h-1.3zM101.4 169.6h1.3v1.3h-1.3zM100.7 154.8h1.3v1.3h-1.3zM85.6 183.7h1.3v1.3h-1.3zM99.3 189.4h1.3v1.3h-1.3zM88.6 163.1h1.3v1.3h-1.3zM95.4 167.5h1.3v1.3h-1.3zM103.3 162.5h1.3v1.3h-1.3zM101.7 175.3h1.3v1.3h-1.3zM87.3 182.3h1.3v1.3h-1.3zM86.4 155.8h1.3v1.3h-1.3zM105.8 161.2h1.3v1.3h-1.3zM91.2 166.4h1.3v1.3h-1.3zM99.3 168.0h1.3v1.3h-1.3zM86.4 179.4h1.3v1.3h-1.3zM103.4 185.5h1.3v1.3h-1.3zM97.2 171.6h1.3v1.3h-1.3zM88.0 166.1h1.3v1.3h-1.3zM99.8 171.1h1.3v1.3h-1.3zM99.4 171.0h1.3v1.3h-1.3zM86.4 163.5h1.3v1.3h-1.3zM108.0 163.2h1.3v1.3h-1.3zM87.7 170.1h1.3v1.3h-1.3zM98.2 168.4h1.3v1.3h-1.3zM101.5 179.2h1.3v1.3h-1.3zM100.6 172.4h1.3v1.3h-1.3zM108.9 168.4h1.3v1.3h-1.3zM89.1 163.2h1.3v1.3h-1.3zM106.4 169.8h1.3v1.3h-1.3zM98.6 165.6h1.3v1.3h-1.3zM98.3 156.2h1.3v1.3h-1.3zM89.8 165.7h1.3v1.3h-1.3zM85.4 170.8h1.3v1.3h-1.3zM84.1 176.5h1.3v1.3h-1.3zM100.6 169.3h1.3v1.3h-1.3zM98.6 176.4h1.3v1.3h-1.3zM96.2 177.2h1.3v1.3h-1.3zM103.0 170.4h1.3v1.3h-1.3zM104.5 170.5h1.3v1.3h-1.3zM87.8 177.1h1.3v1.3h-1.3zM101.4 168.5h1.3v1.3h-1.3zM88.8 170.7h1.3v1.3h-1.3zM99.6 165.3h1.3v1.3h-1.3zM89.4 148.2h1.3v1.3h-1.3zM109.7 164.3h1.3v1.3h-1.3zM83.8 168.8h1.3v1.3h-1.3zM95.9 176.3h1.3v1.3h-1.3zM91.6 180.2h1.3v1.3h-1.3zM95.6 168.8h1.3v1.3h-1.3zM110.6 169.9h1.3v1.3h-1.3zM115.1 179.6h1.3v1.3h-1.3zM100.9 160.5h1.3v1.3h-1.3zM84.3 175.1h1.3v1.3h-1.3zM100.6 149.7h1.3v1.3h-1.3zM98.2 174.8h1.3v1.3h-1.3zM102.7 161.0h1.3v1.3h-1.3zM98.0 173.1h1.3v1.3h-1.3zM109.5 167.8h1.3v1.3h-1.3zM101.5 179.4h1.3v1.3h-1.3zM93.8 176.0h1.3v1.3h-1.3zM84.8 168.4h1.3v1.3h-1.3zM85.9 171.0h1.3v1.3h-1.3zM89.0 178.4h1.3v1.3h-1.3zM96.1 166.8h1.3v1.3h-1.3zM85.8 175.2h1.3v1.3h-1.3zM109.0 167.3h1.3v1.3h-1.3zM96.7 161.2h1.3v1.3h-1.3zM87.7 170.8h1.3v1.3h-1.3zM89.4 155.9h1.3v1.3h-1.3zM99.7 182.7h1.3v1.3h-1.3zM96.1 162.6h1.3v1.3h-1.3zM86.2 172.6h1.3v1.3h-1.3zM91.7 163.1h1.3v1.3h-1.3zM105.5 175.4h1.3v1.3h-1.3zM94.9 160.6h1.3v1.3h-1.3zM97.8 190.2h1.3v1.3h-1.3zM100.0 182.0h1.3v1.3h-1.3zM101.6 175.3h1.3v1.3h-1.3zM108.2 174.1h1.3v1.3h-1.3zM102.5 181.6h1.3v1.3h-1.3zM89.2 164.3h1.3v1.3h-1.3zM105.2 169.1h1.3v1.3h-1.3zM91.3 176.1h1.3v1.3h-1.3zM111.8 156.8h1.3v1.3h-1.3zM102.8 167.7h1.3v1.3h-1.3zM87.3 166.4h1.3v1.3h-1.3zM95.4 171.6h1.3v1.3h-1.3zM103.3 175.5h1.3v1.3h-1.3zM92.3 167.5h1.3v1.3h-1.3zM90.3 180.4h1.3v1.3h-1.3zM91.4 173.5h1.3v1.3h-1.3zM94.3 160.9h1.3v1.3h-1.3zM87.7 171.2h1.3v1.3h-1.3zM104.9 174.8h1.3v1.3h-1.3zM88.6 178.9h1.3v1.3h-1.3zM97.6 177.4h1.3v1.3h-1.3zM101.0 164.0h1.3v1.3h-1.3zM97.0 169.1h1.3v1.3h-1.3zM86.4 163.4h1.3v1.3h-1.3zM87.7 170.2h1.3v1.3h-1.3zM100.7 176.5h1.3v1.3h-1.3zM89.2 172.5h1.3v1.3h-1.3zM93.5 171.4h1.3v1.3h-1.3zM107.7 165.2h1.3v1.3h-1.3zM86.3 170.0h1.3v1.3h-1.3zM101.1 166.1h1.3v1.3h-1.3zM95.2 167.6h1.3v1.3h-1.3zM98.1 171.7h1.3v1.3h-1.3zM97.6 178.1h1.3v1.3h-1.3zM90.3 184.0h1.3v1.3h-1.3zM100.6 174.7h1.3v1.3h-1.3zM91.7 168.2h1.3v1.3h-1.3zM93.3 176.2h1.3v1.3h-1.3zM100.9 172.0h1.3v1.3h-1.3zM82.5 183.7h1.3v1.3h-1.3zM101.9 173.2h1.3v1.3h-1.3zM108.9 171.4h1.3v1.3h-1.3zM94.4 175.5h1.3v1.3h-1.3zM100.9 160.1h1.3v1.3h-1.3zM93.8 178.5h1.3v1.3h-1.3zM97.7 158.0h1.3v1.3h-1.3zM90.9 167.7h1.3v1.3h-1.3zM88.0 163.2h1.3v1.3h-1.3zM90.2 168.8h1.3v1.3h-1.3zM111.0 169.6h1.3v1.3h-1.3zM90.0 176.6h1.3v1.3h-1.3zM104.8 169.2h1.3v1.3h-1.3zM85.2 165.2h1.3v1.3h-1.3zM102.3 164.9h1.3v1.3h-1.3zM92.8 159.4h1.3v1.3h-1.3zM99.0 156.3h1.3v1.3h-1.3zM83.3 158.4h1.3v1.3h-1.3zM94.7 187.3h1.3v1.3h-1.3zM89.0 175.0h1.3v1.3h-1.3zM93.5 173.9h1.3v1.3h-1.3zM98.1 172.0h1.3v1.3h-1.3zM100.3 156.7h1.3v1.3h-1.3zM106.2 161.1h1.3v1.3h-1.3zM112.1 177.4h1.3v1.3h-1.3zM84.7 185.7h1.3v1.3h-1.3zM89.4 152.3h1.3v1.3h-1.3zM110.8 188.3h1.3v1.3h-1.3zM99.7 166.2h1.3v1.3h-1.3zM86.2 174.8h1.3v1.3h-1.3zM104.7 167.9h1.3v1.3h-1.3zM87.2 180.4h1.3v1.3h-1.3zM97.6 186.4h1.3v1.3h-1.3zM102.1 162.0h1.3v1.3h-1.3zM99.4 178.1h1.3v1.3h-1.3zM95.6 188.0h1.3v1.3h-1.3zM93.3 169.7h1.3v1.3h-1.3zM107.1 151.5h1.3v1.3h-1.3zM92.4 172.0h1.3v1.3h-1.3zM97.3 167.7h1.3v1.3h-1.3zM105.6 182.2h1.3v1.3h-1.3zM99.2 165.1h1.3v1.3h-1.3zM85.0 163.5h1.3v1.3h-1.3zM107.8 164.2h1.3v1.3h-1.3zM85.0 163.6h1.3v1.3h-1.3zM87.1 177.9h1.3v1.3h-1.3zM94.6 167.3h1.3v1.3h-1.3zM85.3 167.8h1.3v1.3h-1.3zM94.3 157.9h1.3v1.3h-1.3zM98.8 170.2h1.3v1.3h-1.3zM105.3 171.2h1.3v1.3h-1.3zM84.3 167.9h1.3v1.3h-1.3zM102.8 170.3h1.3v1.3h-1.3zM93.5 160.5h1.3v1.3h-1.3zM102.3 168.8h1.3v1.3h-1.3zM97.4 178.2h1.3v1.3h-1.3zM104.6 163.6h1.3v1.3h-1.3zM92.1 171.0h1.3v1.3h-1.3zM88.7 168.6h1.3v1.3h-1.3zM84.9 175.3h1.3v1.3h-1.3zM114.5 165.1h1.3v1.3h-1.3zM108.1 157.9h1.3v1.3h-1.3zM93.2 163.2h1.3v1.3h-1.3zM88.5 172.2h1.3v1.3h-1.3zM97.4 171.7h1.3v1.3h-1.3zM93.8 166.2h1.3v1.3h-1.3zM104.9 160.9h1.3v1.3h-1.3zM105.4 177.5h1.3v1.3h-1.3zM110.0 157.0h1.3v1.3h-1.3zM87.6 166.1h1.3v1.3h-1.3zM83.4 169.9h1.3v1.3h-1.3zM85.0 173.2h1.3v1.3h-1.3zM102.8 172.0h1.3v1.3h-1.3zM104.5 174.9h1.3v1.3h-1.3zM89.1 183.3h1.3v1.3h-1.3zM90.8 172.0h1.3v1.3h-1.3zM92.0 166.7h1.3v1.3h-1.3zM98.5 174.0h1.3v1.3h-1.3zM82.2 157.5h1.3v1.3h-1.3zM84.3 166.2h1.3v1.3h-1.3zM101.0 178.5h1.3v1.3h-1.3zM92.1 179.1h1.3v1.3h-1.3zM96.4 178.4h1.3v1.3h-1.3zM111.0 163.8h1.3v1.3h-1.3zM100.7 172.6h1.3v1.3h-1.3zM86.6 171.3h1.3v1.3h-1.3zM100.7 170.6h1.3v1.3h-1.3zM82.0 164.1h1.3v1.3h-1.3zM96.5 173.6h1.3v1.3h-1.3zM103.0 185.3h1.3v1.3h-1.3zM100.7 172.8h1.3v1.3h-1.3zM119.9 164.1h1.3v1.3h-1.3zM86.7 168.1h1.3v1.3h-1.3zM86.4 178.8h1.3v1.3h-1.3zM85.9 176.8h1.3v1.3h-1.3zM93.8 180.3h1.3v1.3h-1.3zM90.7 155.6h1.3v1.3h-1.3zM90.5 171.0h1.3v1.3h-1.3zM110.7 168.8h1.3v1.3h-1.3zM86.3 163.1h1.3v1.3h-1.3zM88.3 180.8h1.3v1.3h-1.3zM102.7 173.3h1.3v1.3h-1.3zM104.5 168.5h1.3v1.3h-1.3zM89.4 184.1h1.3v1.3h-1.3zM109.7 171.0h1.3v1.3h-1.3zM89.6 173.9h1.3v1.3h-1.3zM85.4 168.8h1.3v1.3h-1.3zM101.0 165.8h1.3v1.3h-1.3zM87.7 167.0h1.3v1.3h-1.3zM110.6 177.3h1.3v1.3h-1.3zM99.1 171.8h1.3v1.3h-1.3zM92.2 187.8h1.3v1.3h-1.3zM107.2 169.7h1.3v1.3h-1.3zM104.8 155.4h1.3v1.3h-1.3zM86.1 165.0h1.3v1.3h-1.3zM99.3 164.7h1.3v1.3h-1.3zM86.1 174.9h1.3v1.3h-1.3zM87.9 181.6h1.3v1.3h-1.3zM101.4 172.9h1.3v1.3h-1.3zM88.6 164.9h1.3v1.3h-1.3zM103.6 170.6h1.3v1.3h-1.3zM102.8 170.3h1.3v1.3h-1.3zM104.0 177.2h1.3v1.3h-1.3zM100.4 172.3h1.3v1.3h-1.3zM91.2 177.2h1.3v1.3h-1.3zM100.9 155.9h1.3v1.3h-1.3zM116.0 165.2h1.3v1.3h-1.3zM87.6 179.3h1.3v1.3h-1.3zM108.6 179.9h1.3v1.3h-1.3zM105.2 165.4h1.3v1.3h-1.3zM92.5 183.1h1.3v1.3h-1.3zM100.6 158.3h1.3v1.3h-1.3zM88.4 170.8h1.3v1.3h-1.3zM94.3 178.3h1.3v1.3h-1.3zM86.0 167.3h1.3v1.3h-1.3zM86.9 167.6h1.3v1.3h-1.3zM102.5 165.1h1.3v1.3h-1.3zM112.7 163.0h1.3v1.3h-1.3zM105.6 160.2h1.3v1.3h-1.3zM100.4 148.0h1.3v1.3h-1.3zM106.6 177.9h1.3v1.3h-1.3zM111.2 159.4h1.3v1.3h-1.3zM97.1 172.6h1.3v1.3h-1.3zM93.9 158.9h1.3v1.3h-1.3zM83.8 159.7h1.3v1.3h-1.3zM101.5 171.9h1.3v1.3h-1.3zM87.6 169.6h1.3v1.3h-1.3zM91.1 164.0h1.3v1.3h-1.3zM105.1 180.9h1.3v1.3h-1.3zM90.6 172.8h1.3v1.3h-1.3zM93.4 184.4h1.3v1.3h-1.3zM87.5 171.5h1.3v1.3h-1.3zM107.2 176.8h1.3v1.3h-1.3zM90.6 167.7h1.3v1.3h-1.3zM89.8 167.7h1.3v1.3h-1.3zM96.1 165.8h1.3v1.3h-1.3zM101.6 172.2h1.3v1.3h-1.3zM90.5 171.1h1.3v1.3h-1.3zM102.1 169.2h1.3v1.3h-1.3zM100.7 172.7h1.3v1.3h-1.3zM83.3 161.5h1.3v1.3h-1.3zM86.7 172.5h1.3v1.3h-1.3zM86.7 174.1h1.3v1.3h-1.3zM101.5 164.6h1.3v1.3h-1.3zM89.9 160.7h1.3v1.3h-1.3zM88.1 176.7h1.3v1.3h-1.3zM91.2 170.9h1.3v1.3h-1.3zM98.3 158.2h1.3v1.3h-1.3zM100.8 176.5h1.3v1.3h-1.3zM100.2 182.7h1.3v1.3h-1.3zM94.4 170.7h1.3v1.3h-1.3zM93.4 158.3h1.3v1.3h-1.3zM87.7 173.6h1.3v1.3h-1.3zM91.5 176.3h1.3v1.3h-1.3zM94.0 163.9h1.3v1.3h-1.3zM96.9 177.4h1.3v1.3h-1.3zM96.5 176.9h1.3v1.3h-1.3zM99.8 151.3h1.3v1.3h-1.3zM93.0 170.5h1.3v1.3h-1.3zM118.1 167.9h1.3v1.3h-1.3zM95.2 165.4h1.3v1.3h-1.3zM98.5 172.9h1.3v1.3h-1.3zM105.5 171.0h1.3v1.3h-1.3zM101.8 179.0h1.3v1.3h-1.3zM110.2 169.4h1.3v1.3h-1.3zM102.9 189.1h1.3v1.3h-1.3zM102.9 162.8h1.3v1.3h-1.3zM94.2 176.3h1.3v1.3h-1.3zM101.3 174.0h1.3v1.3h-1.3zM95.7 177.5h1.3v1.3h-1.3zM110.4 162.4h1.3v1.3h-1.3zM104.5 173.1h1.3v1.3h-1.3zM97.4 166.9h1.3v1.3h-1.3zM89.4 175.9h1.3v1.3h-1.3zM101.1 153.2h1.3v1.3h-1.3zM112.3 174.0h1.3v1.3h-1.3zM103.2 165.7h1.3v1.3h-1.3zM85.5 152.3h1.3v1.3h-1.3zM90.0 154.3h1.3v1.3h-1.3zM102.6 173.4h1.3v1.3h-1.3zM99.5 149.4h1.3v1.3h-1.3zM89.7 170.8h1.3v1.3h-1.3zM101.5 181.8h1.3v1.3h-1.3zM93.1 169.3h1.3v1.3h-1.3zM104.5 179.8h1.3v1.3h-1.3zM104.1 171.4h1.3v1.3h-1.3zM102.2 180.6h1.3v1.3h-1.3zM95.8 178.2h1.3v1.3h-1.3zM86.6 170.3h1.3v1.3h-1.3zM85.9 163.3h1.3v1.3h-1.3zM90.9 188.4h1.3v1.3h-1.3zM88.0 164.1h1.3v1.3h-1.3zM101.1 172.1h1.3v1.3h-1.3zM98.7 185.6h1.3v1.3h-1.3zM83.6 178.3h1.3v1.3h-1.3zM97.2 175.5h1.3v1.3h-1.3zM87.6 160.5h1.3v1.3h-1.3zM93.5 151.1h1.3v1.3h-1.3zM90.1 186.1h1.3v1.3h-1.3zM103.7 171.4h1.3v1.3h-1.3zM102.1 162.6h1.3v1.3h-1.3zM92.9 166.4h1.3v1.3h-1.3zM97.6 172.7h1.3v1.3h-1.3zM107.6 170.7h1.3v1.3h-1.3zM96.2 164.4h1.3v1.3h-1.3zM107.0 167.7h1.3v1.3h-1.3zM99.9 172.3h1.3v1.3h-1.3zM90.1 165.0h1.3v1.3h-1.3zM89.3 167.9h1.3v1.3h-1.3zM90.4 168.5h1.3v1.3h-1.3zM85.7 171.3h1.3v1.3h-1.3zM93.0 183.6h1.3v1.3h-1.3zM92.7 148.8h1.3v1.3h-1.3zM103.7 168.8h1.3v1.3h-1.3zM99.1 172.7h1.3v1.3h-1.3zM105.1 186.5h1.3v1.3h-1.3zM85.6 171.2h1.3v1.3h-1.3zM84.0 168.6h1.3v1.3h-1.3zM108.7 156.8h1.3v1.3h-1.3zM86.0 175.3h1.3v1.3h-1.3zM91.2 172.7h1.3v1.3h-1.3zM109.8 152.2h1.3v1.3h-1.3zM90.2 174.7h1.3v1.3h-1.3zM106.8 164.6h1.3v1.3h-1.3zM106.6 183.8h1.3v1.3h-1.3zM98.7 168.2h1.3v1.3h-1.3zM86.2 181.1h1.3v1.3h-1.3zM99.7 163.0h1.3v1.3h-1.3zM100.1 162.4h1.3v1.3h-1.3zM100.2 168.2h1.3v1.3h-1.3zM84.0 166.4h1.3v1.3h-1.3zM109.6 171.9h1.3v1.3h-1.3zM95.0 177.8h1.3v1.3h-1.3zM96.5 173.5h1.3v1.3h-1.3zM87.1 171.3h1.3v1.3h-1.3zM95.8 185.4h1.3v1.3h-1.3zM95.8 179.9h1.3v1.3h-1.3zM90.9 184.7h1.3v1.3h-1.3zM111.5 179.4h1.3v1.3h-1.3zM88.3 179.2h1.3v1.3h-1.3zM86.1 179.0h1.3v1.3h-1.3zM86.4 181.3h1.3v1.3h-1.3zM90.8 150.8h1.3v1.3h-1.3zM102.7 164.9h1.3v1.3h-1.3zM96.4 149.1h1.3v1.3h-1.3zM90.3 175.4h1.3v1.3h-1.3zM107.5 187.0h1.3v1.3h-1.3zM86.7 173.1h1.3v1.3h-1.3zM85.1 158.4h1.3v1.3h-1.3zM97.9 171.0h1.3v1.3h-1.3zM102.8 171.6h1.3v1.3h-1.3zM96.6 176.5h1.3v1.3h-1.3zM88.2 167.9h1.3v1.3h-1.3zM92.5 176.8h1.3v1.3h-1.3zM102.4 154.2h1.3v1.3h-1.3zM102.5 165.7h1.3v1.3h-1.3zM92.6 174.8h1.3v1.3h-1.3zM88.2 151.7h1.3v1.3h-1.3zM86.3 161.7h1.3v1.3h-1.3zM103.0 170.1h1.3v1.3h-1.3zM90.1 167.4h1.3v1.3h-1.3zM83.9 167.7h1.3v1.3h-1.3zM112.1 179.7h1.3v1.3h-1.3zM96.9 161.9h1.3v1.3h-1.3zM104.4 155.6h1.3v1.3h-1.3zM89.8 176.6h1.3v1.3h-1.3zM102.9 177.8h1.3v1.3h-1.3zM112.9 163.2h1.3v1.3h-1.3zM110.5 189.1h1.3v1.3h-1.3zM101.6 148.9h1.3v1.3h-1.3zM101.6 165.8h1.3v1.3h-1.3zM85.9 187.7h1.3v1.3h-1.3zM93.1 169.4h1.3v1.3h-1.3zM100.8 170.8h1.3v1.3h-1.3zM88.9 174.5h1.3v1.3h-1.3zM90.2 168.8h1.3v1.3h-1.3zM85.7 169.6h1.3v1.3h-1.3zM100.1 175.3h1.3v1.3h-1.3zM109.4 151.7h1.3v1.3h-1.3zM101.8 164.7h1.3v1.3h-1.3zM100.4 152.5h1.3v1.3h-1.3zM103.5 178.2h1.3v1.3h-1.3zM98.9 185.0h1.3v1.3h-1.3zM90.4 175.2h1.3v1.3h-1.3zM86.8 172.4h1.3v1.3h-1.3zM96.0 165.9h1.3v1.3h-1.3zM83.9 171.7h1.3v1.3h-1.3zM107.4 187.7h1.3v1.3h-1.3zM100.7 170.1h1.3v1.3h-1.3zM112.2 163.6h1.3v1.3h-1.3zM88.4 184.3h1.3v1.3h-1.3zM88.4 166.6h1.3v1.3h-1.3zM110.1 160.0h1.3v1.3h-1.3zM101.4 160.0h1.3v1.3h-1.3zM94.2 167.3h1.3v1.3h-1.3zM91.8 172.7h1.3v1.3h-1.3zM101.7 173.8h1.3v1.3h-1.3zM87.5 169.6h1.3v1.3h-1.3zM103.7 165.7h1.3v1.3h-1.3zM103.4 154.2h1.3v1.3h-1.3zM116.3 166.7h1.3v1.3h-1.3zM94.8 166.8h1.3v1.3h-1.3zM103.6 175.7h1.3v1.3h-1.3zM100.0 167.3h1.3v1.3h-1.3zM87.0 161.6h1.3v1.3h-1.3zM86.8 168.4h1.3v1.3h-1.3zM103.1 162.7h1.3v1.3h-1.3zM92.9 179.2h1.3v1.3h-1.3zM88.8 166.0h1.3v1.3h-1.3zM89.5 170.4h1.3v1.3h-1.3zM84.6 153.6h1.3v1.3h-1.3zM107.3 162.6h1.3v1.3h-1.3zM103.7 159.5h1.3v1.3h-1.3zM107.8 180.2h1.3v1.3h-1.3zM85.7 159.6h1.3v1.3h-1.3zM99.8 165.6h1.3v1.3h-1.3zM102.7 167.3h1.3v1.3h-1.3zM103.3 165.1h1.3v1.3h-1.3zM82.6 173.0h1.3v1.3h-1.3zM101.6 172.4h1.3v1.3h-1.3zM87.3 168.1h1.3v1.3h-1.3zM103.0 174.4h1.3v1.3h-1.3zM102.9 154.8h1.3v1.3h-1.3zM83.7 153.5h1.3v1.3h-1.3zM102.8 162.8h1.3v1.3h-1.3zM93.6 167.4h1.3v1.3h-1.3zM93.8 159.3h1.3v1.3h-1.3zM93.7 164.5h1.3v1.3h-1.3zM87.9 149.6h1.3v1.3h-1.3zM103.4 161.2h1.3v1.3h-1.3zM94.1 177.8h1.3v1.3h-1.3zM83.1 161.0h1.3v1.3h-1.3zM96.0 170.7h1.3v1.3h-1.3zM83.1 177.4h1.3v1.3h-1.3zM88.2 170.3h1.3v1.3h-1.3zM94.1 172.7h1.3v1.3h-1.3zM86.9 156.8h1.3v1.3h-1.3zM97.9 153.2h1.3v1.3h-1.3zM105.7 168.6h1.3v1.3h-1.3zM108.9 160.5h1.3v1.3h-1.3zM111.0 174.3h1.3v1.3h-1.3zM103.3 176.7h1.3v1.3h-1.3zM86.0 182.3h1.3v1.3h-1.3zM83.1 177.5h1.3v1.3h-1.3zM84.5 158.4h1.3v1.3h-1.3zM84.4 173.1h1.3v1.3h-1.3zM95.1 160.2h1.3v1.3h-1.3zM107.7 177.5h1.3v1.3h-1.3zM93.8 154.6h1.3v1.3h-1.3zM84.4 182.7h1.3v1.3h-1.3zM99.3 177.0h1.3v1.3h-1.3zM118.0 168.6h1.3v1.3h-1.3zM101.2 169.4h1.3v1.3h-1.3zM84.9 155.7h1.3v1.3h-1.3zM97.9 158.9h1.3v1.3h-1.3zM109.7 162.6h1.3v1.3h-1.3zM100.1 171.0h1.3v1.3h-1.3zM90.7 178.5h1.3v1.3h-1.3zM91.3 178.1h1.3v1.3h-1.3zM123.2 169.0h1.3v1.3h-1.3zM99.2 182.0h1.3v1.3h-1.3zM104.6 176.5h1.3v1.3h-1.3zM96.1 173.3h1.3v1.3h-1.3zM105.7 154.8h1.3v1.3h-1.3zM93.8 167.3h1.3v1.3h-1.3zM84.1 175.8h1.3v1.3h-1.3zM84.1 151.7h1.3v1.3h-1.3zM93.2 170.7h1.3v1.3h-1.3zM92.9 164.8h1.3v1.3h-1.3zM87.4 177.3h1.3v1.3h-1.3zM96.1 166.9h1.3v1.3h-1.3zM102.5 184.3h1.3v1.3h-1.3zM95.8 185.7h1.3v1.3h-1.3zM88.5 158.6h1.3v1.3h-1.3zM102.7 177.1h1.3v1.3h-1.3zM102.0 152.7h1.3v1.3h-1.3zM92.4 172.0h1.3v1.3h-1.3zM102.8 171.7h1.3v1.3h-1.3zM89.1 156.8h1.3v1.3h-1.3zM106.3 173.8h1.3v1.3h-1.3zM108.2 172.5h1.3v1.3h-1.3zM83.4 175.3h1.3v1.3h-1.3zM94.8 167.3h1.3v1.3h-1.3zM110.1 166.2h1.3v1.3h-1.3zM96.2 179.1h1.3v1.3h-1.3zM92.3 172.0h1.3v1.3h-1.3zM100.6 182.7h1.3v1.3h-1.3zM83.1 182.1h1.3v1.3h-1.3zM102.0 171.7h1.3v1.3h-1.3zM89.7 169.0h1.3v1.3h-1.3zM83.8 164.3h1.3v1.3h-1.3zM94.0 180.5h1.3v1.3h-1.3zM91.8 163.0h1.3v1.3h-1.3zM100.3 173.0h1.3v1.3h-1.3zM103.0 176.7h1.3v1.3h-1.3zM92.6 151.8h1.3v1.3h-1.3zM91.8 170.3h1.3v1.3h-1.3zM85.4 176.0h1.3v1.3h-1.3zM87.4 153.4h1.3v1.3h-1.3zM104.2 169.2h1.3v1.3h-1.3zM89.0 172.0h1.3v1.3h-1.3zM109.7 168.3h1.3v1.3h-1.3zM89.4 180.3h1.3v1.3h-1.3zM87.7 166.9h1.3v1.3h-1.3zM92.7 169.0h1.3v1.3h-1.3zM94.8 178.1h1.3v1.3h-1.3zM101.4 176.0h1.3v1.3h-1.3zM93.2 173.7h1.3v1.3h-1.3zM93.9 185.4h1.3v1.3h-1.3zM99.1 174.6h1.3v1.3h-1.3zM88.5 162.7h1.3v1.3h-1.3zM83.1 157.7h1.3v1.3h-1.3zM88.0 165.6h1.3v1.3h-1.3zM104.8 168.6h1.3v1.3h-1.3zM85.7 156.2h1.3v1.3h-1.3zM89.2 176.0h1.3v1.3h-1.3zM103.3 176.2h1.3v1.3h-1.3zM87.1 163.8h1.3v1.3h-1.3zM86.7 169.2h1.3v1.3h-1.3zM92.7 163.2h1.3v1.3h-1.3zM102.6 179.4h1.3v1.3h-1.3zM89.6 172.0h1.3v1.3h-1.3zM107.6 170.4h1.3v1.3h-1.3zM97.2 166.9h1.3v1.3h-1.3zM102.9 176.1h1.3v1.3h-1.3zM96.7 175.9h1.3v1.3h-1.3zM90.1 171.7h1.3v1.3h-1.3zM102.7 165.2h1.3v1.3h-1.3zM112.5 165.8h1.3v1.3h-1.3zM102.8 169.1h1.3v1.3h-1.3zM104.0 169.7h1.3v1.3h-1.3zM100.2 180.7h1.3v1.3h-1.3zM109.6 163.0h1.3v1.3h-1.3zM92.1 161.5h1.3v1.3h-1.3zM90.8 167.8h1.3v1.3h-1.3zM99.5 156.0h1.3v1.3h-1.3zM89.1 162.0h1.3v1.3h-1.3zM100.1 159.9h1.3v1.3h-1.3zM87.3 168.8h1.3v1.3h-1.3zM94.3 178.5h1.3v1.3h-1.3zM95.4 161.2h1.3v1.3h-1.3zM104.5 170.4h1.3v1.3h-1.3zM106.0 181.4h1.3v1.3h-1.3zM87.8 173.8h1.3v1.3h-1.3zM110.2 165.8h1.3v1.3h-1.3zM95.5 165.5h1.3v1.3h-1.3zM89.9 171.3h1.3v1.3h-1.3zM84.0 165.0h1.3v1.3h-1.3zM92.2 173.1h1.3v1.3h-1.3zM86.2 156.6h1.3v1.3h-1.3zM94.6 178.4h1.3v1.3h-1.3zM98.1 161.8h1.3v1.3h-1.3zM99.5 170.3h1.3v1.3h-1.3zM101.2 159.6h1.3v1.3h-1.3zM103.1 160.4h1.3v1.3h-1.3zM94.3 169.2h1.3v1.3h-1.3zM101.0 170.6h1.3v1.3h-1.3zM99.6 179.4h1.3v1.3h-1.3zM89.8 179.4h1.3v1.3h-1.3zM84.1 177.3h1.3v1.3h-1.3zM103.7 169.8h1.3v1.3h-1.3zM104.2 171.8h1.3v1.3h-1.3zM101.0 166.5h1.3v1.3h-1.3zM108.4 175.3h1.3v1.3h-1.3zM84.9 172.8h1.3v1.3h-1.3zM87.4 169.2h1.3v1.3h-1.3zM95.5 170.8h1.3v1.3h-1.3zM87.3 170.1h1.3v1.3h-1.3zM103.2 162.0h1.3v1.3h-1.3zM84.0 167.9h1.3v1.3h-1.3zM93.9 157.7h1.3v1.3h-1.3zM109.5 161.3h1.3v1.3h-1.3zM84.3 175.2h1.3v1.3h-1.3zM82.6 163.4h1.3v1.3h-1.3zM94.2 167.2h1.3v1.3h-1.3zM94.2 173.9h1.3v1.3h-1.3zM91.2 166.2h1.3v1.3h-1.3zM106.1 158.0h1.3v1.3h-1.3zM101.7 177.5h1.3v1.3h-1.3zM83.3 172.5h1.3v1.3h-1.3zM90.3 152.7h1.3v1.3h-1.3zM88.8 161.9h1.3v1.3h-1.3zM95.8 168.5h1.3v1.3h-1.3zM104.0 158.0h1.3v1.3h-1.3zM85.6 176.5h1.3v1.3h-1.3zM104.4 159.2h1.3v1.3h-1.3zM96.9 161.0h1.3v1.3h-1.3zM88.9 169.2h1.3v1.3h-1.3zM87.8 179.8h1.3v1.3h-1.3zM108.2 169.8h1.3v1.3h-1.3zM96.7 171.0h1.3v1.3h-1.3zM113.4 175.2h1.3v1.3h-1.3zM104.6 174.9h1.3v1.3h-1.3zM101.1 163.7h1.3v1.3h-1.3zM96.0 163.3h1.3v1.3h-1.3zM99.1 169.1h1.3v1.3h-1.3zM104.9 166.8h1.3v1.3h-1.3zM87.0 182.7h1.3v1.3h-1.3zM105.8 177.3h1.3v1.3h-1.3zM88.1 160.6h1.3v1.3h-1.3zM87.9 168.9h1.3v1.3h-1.3zM98.0 185.7h1.3v1.3h-1.3zM89.8 161.2h1.3v1.3h-1.3zM87.2 169.9h1.3v1.3h-1.3zM103.5 171.5h1.3v1.3h-1.3zM96.8 180.2h1.3v1.3h-1.3zM99.3 178.8h1.3v1.3h-1.3zM92.5 168.4h1.3v1.3h-1.3zM98.0 167.6h1.3v1.3h-1.3zM97.0 158.4h1.3v1.3h-1.3zM97.6 170.7h1.3v1.3h-1.3zM96.1 165.9h1.3v1.3h-1.3zM97.5 163.3h1.3v1.3h-1.3zM94.6 162.8h1.3v1.3h-1.3zM105.9 177.4h1.3v1.3h-1.3zM84.3 179.6h1.3v1.3h-1.3zM100.7 184.1h1.3v1.3h-1.3zM83.6 162.7h1.3v1.3h-1.3zM90.1 186.6h1.3v1.3h-1.3zM84.2 161.2h1.3v1.3h-1.3zM105.0 166.0h1.3v1.3h-1.3zM105.1 188.2h1.3v1.3h-1.3zM91.3 173.2h1.3v1.3h-1.3zM97.1 182.2h1.3v1.3h-1.3zM99.7 169.7h1.3v1.3h-1.3zM107.3 184.8h1.3v1.3h-1.3zM90.7 179.6h1.3v1.3h-1.3zM85.2 161.9h1.3v1.3h-1.3zM90.1 176.7h1.3v1.3h-1.3zM106.0 154.6h1.3v1.3h-1.3zM109.8 170.1h1.3v1.3h-1.3zM99.2 162.3h1.3v1.3h-1.3zM97.5 172.4h1.3v1.3h-1.3zM89.5 154.9h1.3v1.3h-1.3zM84.0 176.5h1.3v1.3h-1.3zM98.3 171.0h1.3v1.3h-1.3zM107.6 161.1h1.3v1.3h-1.3zM109.2 175.2h1.3v1.3h-1.3zM99.6 164.5h1.3v1.3h-1.3zM92.3 188.0h1.3v1.3h-1.3zM92.7 172.7h1.3v1.3h-1.3zM102.9 178.0h1.3v1.3h-1.3zM84.7 170.0h1.3v1.3h-1.3zM124.3 178.8h1.3v1.3h-1.3zM87.6 168.9h1.3v1.3h-1.3zM89.8 188.2h1.3v1.3h-1.3zM89.0 169.2h1.3v1.3h-1.3zM100.1 179.0h1.3v1.3h-1.3zM93.6 169.0h1.3v1.3h-1.3zM106.8 169.6h1.3v1.3h-1.3zM89.5 173.2h1.3v1.3h-1.3zM100.1 160.4h1.3v1.3h-1.3zM109.0 148.6h1.3v1.3h-1.3zM88.9 176.7h1.3v1.3h-1.3zM91.2 166.2h1.3v1.3h-1.3zM96.1 164.8h1.3v1.3h-1.3zM88.3 179.9h1.3v1.3h-1.3zM85.6 161.7h1.3v1.3h-1.3zM100.0 165.2h1.3v1.3h-1.3zM85.1 164.2h1.3v1.3h-1.3zM86.9 173.7h1.3v1.3h-1.3zM99.2 179.9h1.3v1.3h-1.3zM102.8 155.6h1.3v1.3h-1.3zM90.8 164.3h1.3v1.3h-1.3zM93.1 172.1h1.3v1.3h-1.3zM84.7 175.4h1.3v1.3h-1.3zM101.2 182.6h1.3v1.3h-1.3zM103.7 169.4h1.3v1.3h-1.3zM88.8 170.9h1.3v1.3h-1.3zM102.8 187.6h1.3v1.3h-1.3zM101.2 160.0h1.3v1.3h-1.3zM88.1 183.6h1.3v1.3h-1.3zM101.7 165.0h1.3v1.3h-1.3zM94.3 169.4h1.3v1.3h-1.3zM117.3 164.7h1.3v1.3h-1.3zM102.9 150.7h1.3v1.3h-1.3zM101.5 166.9h1.3v1.3h-1.3zM86.1 162.0h1.3v1.3h-1.3zM103.2 174.8h1.3v1.3h-1.3zM105.0 180.2h1.3v1.3h-1.3zM94.9 169.0h1.3v1.3h-1.3zM98.7 166.3h1.3v1.3h-1.3zM83.2 167.6h1.3v1.3h-1.3zM101.1 178.1h1.3v1.3h-1.3zM86.9 173.9h1.3v1.3h-1.3zM101.0 151.9h1.3v1.3h-1.3zM92.4 164.7h1.3v1.3h-1.3zM98.4 174.1h1.3v1.3h-1.3zM86.9 160.6h1.3v1.3h-1.3zM101.4 156.2h1.3v1.3h-1.3zM91.9 187.9h1.3v1.3h-1.3zM93.4 164.6h1.3v1.3h-1.3zM99.5 179.5h1.3v1.3h-1.3zM99.9 161.8h1.3v1.3h-1.3zM100.4 170.2h1.3v1.3h-1.3zM98.4 184.0h1.3v1.3h-1.3zM93.4 159.3h1.3v1.3h-1.3zM93.1 175.4h1.3v1.3h-1.3zM84.9 172.2h1.3v1.3h-1.3zM83.2 176.0h1.3v1.3h-1.3zM92.2 150.9h1.3v1.3h-1.3zM108.5 175.9h1.3v1.3h-1.3zM84.9 154.7h1.3v1.3h-1.3zM104.7 161.5h1.3v1.3h-1.3zM85.9 167.8h1.3v1.3h-1.3zM105.2 177.4h1.3v1.3h-1.3zM97.6 172.6h1.3v1.3h-1.3zM83.2 170.4h1.3v1.3h-1.3zM103.6 170.7h1.3v1.3h-1.3zM101.1 160.7h1.3v1.3h-1.3zM91.8 162.7h1.3v1.3h-1.3zM83.7 156.3h1.3v1.3h-1.3zM86.1 172.2h1.3v1.3h-1.3zM92.2 160.8h1.3v1.3h-1.3zM105.5 165.2h1.3v1.3h-1.3zM95.9 171.9h1.3v1.3h-1.3zM102.5 162.7h1.3v1.3h-1.3zM93.6 175.1h1.3v1.3h-1.3zM96.1 166.9h1.3v1.3h-1.3zM96.5 163.4h1.3v1.3h-1.3zM83.9 163.1h1.3v1.3h-1.3zM94.4 168.7h1.3v1.3h-1.3zM91.0 157.2h1.3v1.3h-1.3zM84.5 178.9h1.3v1.3h-1.3zM112.0 175.0h1.3v1.3h-1.3zM85.5 161.7h1.3v1.3h-1.3zM95.7 169.7h1.3v1.3h-1.3zM93.2 166.5h1.3v1.3h-1.3zM108.3 168.9h1.3v1.3h-1.3zM103.5 168.2h1.3v1.3h-1.3zM95.4 156.5h1.3v1.3h-1.3zM94.2 164.4h1.3v1.3h-1.3zM88.2 176.6h1.3v1.3h-1.3zM106.4 155.6h1.3v1.3h-1.3zM102.3 182.2h1.3v1.3h-1.3zM95.4 169.1h1.3v1.3h-1.3zM92.3 157.8h1.3v1.3h-1.3zM89.5 159.8h1.3v1.3h-1.3zM97.2 156.5h1.3v1.3h-1.3zM98.9 157.5h1.3v1.3h-1.3zM84.2 164.6h1.3v1.3h-1.3zM101.3 176.3h1.3v1.3h-1.3zM108.4 165.5h1.3v1.3h-1.3zM100.1 190.7h1.3v1.3h-1.3zM102.8 169.2h1.3v1.3h-1.3zM107.2 168.1h1.3v1.3h-1.3zM92.5 150.8h1.3v1.3h-1.3zM95.3 176.3h1.3v1.3h-1.3zM101.4 166.2h1.3v1.3h-1.3zM95.7 170.7h1.3v1.3h-1.3zM99.7 165.9h1.3v1.3h-1.3zM102.6 181.8h1.3v1.3h-1.3zM85.2 173.6h1.3v1.3h-1.3zM98.0 154.9h1.3v1.3h-1.3zM82.2 185.3h1.3v1.3h-1.3zM94.7 158.5h1.3v1.3h-1.3zM86.3 172.2h1.3v1.3h-1.3zM104.8 167.0h1.3v1.3h-1.3zM88.6 164.0h1.3v1.3h-1.3zM93.9 175.3h1.3v1.3h-1.3zM90.9 176.1h1.3v1.3h-1.3zM85.7 176.6h1.3v1.3h-1.3zM105.3 175.7h1.3v1.3h-1.3zM89.1 154.9h1.3v1.3h-1.3zM89.2 164.7h1.3v1.3h-1.3zM90.0 168.4h1.3v1.3h-1.3zM100.8 171.9h1.3v1.3h-1.3zM95.3 156.2h1.3v1.3h-1.3zM86.7 165.3h1.3v1.3h-1.3zM92.3 174.4h1.3v1.3h-1.3zM95.0 168.7h1.3v1.3h-1.3zM104.0 161.9h1.3v1.3h-1.3zM100.1 160.8h1.3v1.3h-1.3zM98.2 153.3h1.3v1.3h-1.3zM83.6 166.9h1.3v1.3h-1.3zM85.2 164.0h1.3v1.3h-1.3zM91.5 160.0h1.3v1.3h-1.3zM100.1 163.1h1.3v1.3h-1.3zM88.4 162.6h1.3v1.3h-1.3zM102.7 165.7h1.3v1.3h-1.3zM97.1 157.1h1.3v1.3h-1.3zM102.7 162.9h1.3v1.3h-1.3zM90.5 166.2h1.3v1.3h-1.3zM100.0 178.8h1.3v1.3h-1.3zM100.5 174.5h1.3v1.3h-1.3zM105.7 168.3h1.3v1.3h-1.3zM103.0 185.4h1.3v1.3h-1.3zM109.7 166.6h1.3v1.3h-1.3zM103.2 180.9h1.3v1.3h-1.3zM105.3 190.3h1.3v1.3h-1.3zM110.9 155.4h1.3v1.3h-1.3zM88.4 177.7h1.3v1.3h-1.3zM109.0 157.7h1.3v1.3h-1.3zM103.2 185.6h1.3v1.3h-1.3zM87.8 175.0h1.3v1.3h-1.3zM90.9 181.6h1.3v1.3h-1.3zM86.0 185.0h1.3v1.3h-1.3zM94.2 164.9h1.3v1.3h-1.3zM102.4 167.9h1.3v1.3h-1.3zM103.4 170.1h1.3v1.3h-1.3zM105.4 181.0h1.3v1.3h-1.3zM102.5 164.1h1.3v1.3h-1.3zM106.3 160.9h1.3v1.3h-1.3zM100.7 173.4h1.3v1.3h-1.3zM99.2 162.1h1.3v1.3h-1.3zM99.7 162.0h1.3v1.3h-1.3zM90.9 164.9h1.3v1.3h-1.3zM86.4 167.4h1.3v1.3h-1.3zM104.5 166.0h1.3v1.3h-1.3zM83.5 155.3h1.3v1.3h-1.3zM84.9 176.8h1.3v1.3h-1.3zM101.7 175.7h1.3v1.3h-1.3zM107.3 171.2h1.3v1.3h-1.3zM100.3 176.2h1.3v1.3h-1.3zM83.7 168.5h1.3v1.3h-1.3zM99.8 149.6h1.3v1.3h-1.3zM100.7 185.6h1.3v1.3h-1.3zM105.4 177.7h1.3v1.3h-1.3zM104.7 162.1h1.3v1.3h-1.3zM108.1 168.6h1.3v1.3h-1.3zM101.4 185.3h1.3v1.3h-1.3zM97.1 169.7h1.3v1.3h-1.3zM101.9 168.3h1.3v1.3h-1.3zM96.0 167.6h1.3v1.3h-1.3zM96.3 153.2h1.3v1.3h-1.3zM90.0 170.4h1.3v1.3h-1.3zM92.2 149.4h1.3v1.3h-1.3zM97.5 175.6h1.3v1.3h-1.3zM89.6 187.4h1.3v1.3h-1.3zM103.0 179.1h1.3v1.3h-1.3zM85.1 169.9h1.3v1.3h-1.3zM100.8 175.7h1.3v1.3h-1.3zM103.8 174.5h1.3v1.3h-1.3zM96.7 181.1h1.3v1.3h-1.3zM86.2 159.8h1.3v1.3h-1.3zM99.1 165.7h1.3v1.3h-1.3zM99.4 166.1h1.3v1.3h-1.3zM104.3 166.2h1.3v1.3h-1.3zM85.1 184.6h1.3v1.3h-1.3zM100.3 171.2h1.3v1.3h-1.3zM98.2 166.1h1.3v1.3h-1.3zM92.0 167.5h1.3v1.3h-1.3zM107.7 174.8h1.3v1.3h-1.3zM100.9 166.9h1.3v1.3h-1.3zM89.7 172.7h1.3v1.3h-1.3zM86.5 163.8h1.3v1.3h-1.3zM90.1 171.9h1.3v1.3h-1.3zM93.0 160.9h1.3v1.3h-1.3zM86.6 155.0h1.3v1.3h-1.3zM110.4 167.9h1.3v1.3h-1.3zM100.9 172.8h1.3v1.3h-1.3zM93.2 155.6h1.3v1.3h-1.3zM102.7 161.6h1.3v1.3h-1.3zM88.8 173.7h1.3v1.3h-1.3zM96.8 177.0h1.3v1.3h-1.3zM100.1 152.4h1.3v1.3h-1.3zM83.2 169.2h1.3v1.3h-1.3zM100.5 154.1h1.3v1.3h-1.3zM102.7 156.9h1.3v1.3h-1.3zM86.3 190.7h1.3v1.3h-1.3zM94.1 177.6h1.3v1.3h-1.3zM85.5 167.3h1.3v1.3h-1.3zM110.1 170.8h1.3v1.3h-1.3zM88.0 183.8h1.3v1.3h-1.3zM97.1 168.1h1.3v1.3h-1.3zM102.0 163.8h1.3v1.3h-1.3zM92.2 181.0h1.3v1.3h-1.3zM86.8 164.4h1.3v1.3h-1.3zM110.2 173.6h1.3v1.3h-1.3zM94.4 183.4h1.3v1.3h-1.3zM98.8 180.9h1.3v1.3h-1.3zM90.8 156.9h1.3v1.3h-1.3zM99.3 166.3h1.3v1.3h-1.3zM96.4 179.1h1.3v1.3h-1.3zM104.0 175.7h1.3v1.3h-1.3zM102.9 166.0h1.3v1.3h-1.3zM89.0 158.3h1.3v1.3h-1.3zM99.1 160.1h1.3v1.3h-1.3zM87.3 162.9h1.3v1.3h-1.3zM88.0 192.4h1.3v1.3h-1.3zM107.2 168.2h1.3v1.3h-1.3zM108.9 188.8h1.3v1.3h-1.3zM96.7 173.4h1.3v1.3h-1.3zM86.2 158.5h1.3v1.3h-1.3zM99.3 181.5h1.3v1.3h-1.3zM95.6 163.1h1.3v1.3h-1.3zM103.5 169.3h1.3v1.3h-1.3zM85.5 185.0h1.3v1.3h-1.3zM99.5 157.2h1.3v1.3h-1.3zM106.3 171.9h1.3v1.3h-1.3zM100.2 175.4h1.3v1.3h-1.3zM101.6 167.7h1.3v1.3h-1.3zM92.1 159.8h1.3v1.3h-1.3zM101.9 166.7h1.3v1.3h-1.3zM111.4 177.9h1.3v1.3h-1.3zM97.2 179.6h1.3v1.3h-1.3zM88.6 170.0h1.3v1.3h-1.3zM104.5 177.9h1.3v1.3h-1.3zM98.5 150.4h1.3v1.3h-1.3zM106.4 169.2h1.3v1.3h-1.3zM110.2 192.1h1.3v1.3h-1.3zM98.2 179.6h1.3v1.3h-1.3zM102.3 165.4h1.3v1.3h-1.3zM98.7 164.4h1.3v1.3h-1.3zM114.2 175.0h1.3v1.3h-1.3zM104.2 178.2h1.3v1.3h-1.3zM100.9 177.3h1.3v1.3h-1.3zM105.1 181.0h1.3v1.3h-1.3zM91.6 169.9h1.3v1.3h-1.3zM106.5 180.5h1.3v1.3h-1.3zM104.7 170.6h1.3v1.3h-1.3zM97.2 177.7h1.3v1.3h-1.3zM84.0 176.2h1.3v1.3h-1.3zM100.2 179.1h1.3v1.3h-1.3zM106.5 156.7h1.3v1.3h-1.3zM102.2 162.1h1.3v1.3h-1.3zM97.4 175.9h1.3v1.3h-1.3zM92.4 176.0h1.3v1.3h-1.3zM102.8 174.1h1.3v1.3h-1.3zM90.3 160.9h1.3v1.3h-1.3zM98.8 164.8h1.3v1.3h-1.3zM110.2 171.6h1.3v1.3h-1.3zM86.6 167.8h1.3v1.3h-1.3zM94.3 179.4h1.3v1.3h-1.3zM95.2 179.5h1.3v1.3h-1.3zM93.4 158.7h1.3v1.3h-1.3zM94.8 168.4h1.3v1.3h-1.3zM108.2 164.8h1.3v1.3h-1.3zM103.9 155.3h1.3v1.3h-1.3zM87.8 167.3h1.3v1.3h-1.3zM104.2 157.2h1.3v1.3h-1.3zM86.2 151.4h1.3v1.3h-1.3zM100.5 171.5h1.3v1.3h-1.3zM97.8 171.0h1.3v1.3h-1.3zM91.2 174.2h1.3v1.3h-1.3zM114.5 158.7h1.3v1.3h-1.3zM89.7 166.8h1.3v1.3h-1.3zM102.7 170.5h1.3v1.3h-1.3zM85.2 165.9h1.3v1.3h-1.3zM90.0 166.1h1.3v1.3h-1.3zM98.2 168.3h1.3v1.3h-1.3zM86.1 176.3h1.3v1.3h-1.3zM88.1 154.4h1.3v1.3h-1.3zM84.7 166.9h1.3v1.3h-1.3zM95.5 189.9h1.3v1.3h-1.3zM86.4 160.0h1.3v1.3h-1.3zM94.9 173.8h1.3v1.3h-1.3zM101.0 180.8h1.3v1.3h-1.3zM100.5 173.3h1.3v1.3h-1.3zM99.5 163.2h1.3v1.3h-1.3zM101.7 169.5h1.3v1.3h-1.3zM96.5 158.9h1.3v1.3h-1.3zM101.7 159.4h1.3v1.3h-1.3zM93.3 169.7h1.3v1.3h-1.3zM96.4 166.0h1.3v1.3h-1.3zM102.3 157.5h1.3v1.3h-1.3zM109.3 166.1h1.3v1.3h-1.3zM106.6 189.1h1.3v1.3h-1.3zM86.4 166.3h1.3v1.3h-1.3zM96.6 174.4h1.3v1.3h-1.3zM90.1 160.0h1.3v1.3h-1.3zM102.1 176.2h1.3v1.3h-1.3zM91.1 161.8h1.3v1.3h-1.3zM84.2 149.4h1.3v1.3h-1.3zM95.1 170.2h1.3v1.3h-1.3zM103.2 169.7h1.3v1.3h-1.3zM99.8 163.1h1.3v1.3h-1.3zM109.4 163.8h1.3v1.3h-1.3zM93.4 167.7h1.3v1.3h-1.3zM100.3 168.6h1.3v1.3h-1.3zM98.1 169.8h1.3v1.3h-1.3zM88.5 168.0h1.3v1.3h-1.3zM83.3 154.0h1.3v1.3h-1.3zM101.0 183.8h1.3v1.3h-1.3zM85.6 153.5h1.3v1.3h-1.3zM96.8 183.9h1.3v1.3h-1.3zM93.2 177.4h1.3v1.3h-1.3zM102.9 166.5h1.3v1.3h-1.3zM102.1 168.6h1.3v1.3h-1.3zM107.4 172.4h1.3v1.3h-1.3zM83.9 162.6h1.3v1.3h-1.3zM83.6 165.1h1.3v1.3h-1.3zM86.2 166.6h1.3v1.3h-1.3zM103.8 166.4h1.3v1.3h-1.3zM94.6 170.7h1.3v1.3h-1.3zM101.6 172.5h1.3v1.3h-1.3zM83.3 159.8h1.3v1.3h-1.3zM85.3 148.6h1.3v1.3h-1.3zM103.9 170.9h1.3v1.3h-1.3zM96.5 168.4h1.3v1.3h-1.3zM102.1 177.5h1.3v1.3h-1.3zM86.6 176.8h1.3v1.3h-1.3zM107.6 169.6h1.3v1.3h-1.3zM89.0 160.2h1.3v1.3h-1.3zM93.0 165.7h1.3v1.3h-1.3zM91.2 168.5h1.3v1.3h-1.3zM110.9 168.9h1.3v1.3h-1.3zM90.5 161.1h1.3v1.3h-1.3zM84.5 184.6h1.3v1.3h-1.3zM86.4 179.8h1.3v1.3h-1.3zM100.0 164.5h1.3v1.3h-1.3zM93.4 170.3h1.3v1.3h-1.3zM96.7 162.0h1.3v1.3h-1.3zM97.4 159.1h1.3v1.3h-1.3zM89.0 154.8h1.3v1.3h-1.3zM88.7 167.4h1.3v1.3h-1.3zM97.3 166.1h1.3v1.3h-1.3zM104.4 178.6h1.3v1.3h-1.3zM94.1 184.7h1.3v1.3h-1.3zM89.4 153.1h1.3v1.3h-1.3zM89.3 188.9h1.3v1.3h-1.3zM98.6 161.7h1.3v1.3h-1.3zM99.2 162.4h1.3v1.3h-1.3zM104.0 164.6h1.3v1.3h-1.3zM85.7 163.0h1.3v1.3h-1.3zM91.4 165.1h1.3v1.3h-1.3zM97.0 169.1h1.3v1.3h-1.3zM105.8 158.8h1.3v1.3h-1.3zM100.0 180.1h1.3v1.3h-1.3zM93.5 156.8h1.3v1.3h-1.3zM87.3 178.1h1.3v1.3h-1.3zM87.1 181.5h1.3v1.3h-1.3zM107.4 181.2h1.3v1.3h-1.3zM117.5 166.0h1.3v1.3h-1.3zM99.1 170.8h1.3v1.3h-1.3zM96.3 174.8h1.3v1.3h-1.3zM91.8 154.4h1.3v1.3h-1.3zM99.3 181.7h1.3v1.3h-1.3zM92.6 164.3h1.3v1.3h-1.3zM83.1 168.8h1.3v1.3h-1.3zM90.5 157.7h1.3v1.3h-1.3zM85.7 162.4h1.3v1.3h-1.3zM109.4 167.7h1.3v1.3h-1.3zM85.3 181.7h1.3v1.3h-1.3zM91.9 174.1h1.3v1.3h-1.3zM87.1 179.9h1.3v1.3h-1.3zM104.6 184.2h1.3v1.3h-1.3zM89.4 174.9h1.3v1.3h-1.3zM94.4 161.9h1.3v1.3h-1.3zM87.6 187.1h1.3v1.3h-1.3zM84.8 176.1h1.3v1.3h-1.3zM92.4 183.9h1.3v1.3h-1.3zM102.1 181.8h1.3v1.3h-1.3zM86.0 170.5h1.3v1.3h-1.3zM91.3 155.4h1.3v1.3h-1.3zM84.7 150.8h1.3v1.3h-1.3zM105.6 175.0h1.3v1.3h-1.3zM100.8 150.7h1.3v1.3h-1.3zM85.6 175.6h1.3v1.3h-1.3zM97.7 177.4h1.3v1.3h-1.3zM106.3 164.3h1.3v1.3h-1.3zM101.2 183.0h1.3v1.3h-1.3zM91.5 167.6h1.3v1.3h-1.3zM91.8 187.8h1.3v1.3h-1.3zM94.9 173.3h1.3v1.3h-1.3zM100.2 168.9h1.3v1.3h-1.3zM92.3 176.1h1.3v1.3h-1.3zM89.9 173.1h1.3v1.3h-1.3zM96.0 180.5h1.3v1.3h-1.3zM87.4 169.2h1.3v1.3h-1.3zM94.3 150.6h1.3v1.3h-1.3zM95.8 184.3h1.3v1.3h-1.3zM112.2 173.4h1.3v1.3h-1.3zM92.5 176.8h1.3v1.3h-1.3zM101.6 177.0h1.3v1.3h-1.3zM89.8 165.1h1.3v1.3h-1.3zM98.2 177.9h1.3v1.3h-1.3zM87.5 160.9h1.3v1.3h-1.3zM83.2 167.2h1.3v1.3h-1.3zM96.8 168.6h1.3v1.3h-1.3zM86.2 173.4h1.3v1.3h-1.3zM102.3 189.8h1.3v1.3h-1.3zM104.2 178.3h1.3v1.3h-1.3zM104.0 164.5h1.3v1.3h-1.3zM84.8 185.6h1.3v1.3h-1.3zM93.5 164.2h1.3v1.3h-1.3zM83.8 166.5h1.3v1.3h-1.3zM103.4 170.0h1.3v1.3h-1.3zM93.0 168.2h1.3v1.3h-1.3zM100.3 171.6h1.3v1.3h-1.3zM101.4 155.5h1.3v1.3h-1.3zM86.7 174.5h1.3v1.3h-1.3zM104.9 162.1h1.3v1.3h-1.3zM91.6 164.3h1.3v1.3h-1.3zM85.9 169.1h1.3v1.3h-1.3zM107.0 169.8h1.3v1.3h-1.3zM108.9 161.7h1.3v1.3h-1.3zM95.3 175.2h1.3v1.3h-1.3zM94.0 182.7h1.3v1.3h-1.3zM98.2 166.3h1.3v1.3h-1.3zM92.7 178.1h1.3v1.3h-1.3zM88.2 166.5h1.3v1.3h-1.3zM104.1 172.2h1.3v1.3h-1.3zM105.9 157.8h1.3v1.3h-1.3zM90.4 178.1h1.3v1.3h-1.3zM103.1 167.3h1.3v1.3h-1.3zM89.3 161.8h1.3v1.3h-1.3zM102.6 191.6h1.3v1.3h-1.3zM116.3 159.4h1.3v1.3h-1.3zM99.1 154.8h1.3v1.3h-1.3zM86.9 175.2h1.3v1.3h-1.3zM102.7 164.5h1.3v1.3h-1.3zM93.9 179.8h1.3v1.3h-1.3zM101.6 178.2h1.3v1.3h-1.3zM100.7 187.8h1.3v1.3h-1.3zM88.6 172.7h1.3v1.3h-1.3zM94.2 175.2h1.3v1.3h-1.3zM92.6 166.5h1.3v1.3h-1.3zM107.8 175.9h1.3v1.3h-1.3zM101.0 163.0h1.3v1.3h-1.3zM97.9 177.6h1.3v1.3h-1.3zM108.3 169.9h1.3v1.3h-1.3zM92.9 170.2h1.3v1.3h-1.3zM95.5 170.0h1.3v1.3h-1.3zM92.2 164.5h1.3v1.3h-1.3zM101.9 163.6h1.3v1.3h-1.3zM99.6 166.8h1.3v1.3h-1.3zM97.8 157.2h1.3v1.3h-1.3zM105.5 172.3h1.3v1.3h-1.3zM85.6 187.9h1.3v1.3h-1.3zM85.1 174.9h1.3v1.3h-1.3zM109.9 156.7h1.3v1.3h-1.3zM96.8 155.6h1.3v1.3h-1.3zM98.7 170.2h1.3v1.3h-1.3zM104.3 178.2h1.3v1.3h-1.3zM85.7 168.2h1.3v1.3h-1.3zM89.5 178.4h1.3v1.3h-1.3zM103.1 157.7h1.3v1.3h-1.3zM86.7 160.5h1.3v1.3h-1.3zM97.9 181.2h1.3v1.3h-1.3zM88.5 169.7h1.3v1.3h-1.3zM97.1 165.4h1.3v1.3h-1.3zM101.9 158.8h1.3v1.3h-1.3zM86.0 166.3h1.3v1.3h-1.3zM90.2 164.6h1.3v1.3h-1.3zM112.9 181.4h1.3v1.3h-1.3zM90.2 161.4h1.3v1.3h-1.3zM85.7 188.5h1.3v1.3h-1.3zM91.4 182.0h1.3v1.3h-1.3zM98.6 165.6h1.3v1.3h-1.3zM84.7 172.4h1.3v1.3h-1.3zM103.5 166.0h1.3v1.3h-1.3zM100.1 165.7h1.3v1.3h-1.3zM91.7 167.2h1.3v1.3h-1.3zM105.3 167.0h1.3v1.3h-1.3zM95.4 179.1h1.3v1.3h-1.3zM93.5 167.3h1.3v1.3h-1.3zM101.1 162.1h1.3v1.3h-1.3zM100.6 179.0h1.3v1.3h-1.3zM104.0 168.9h1.3v1.3h-1.3zM89.0 159.4h1.3v1.3h-1.3zM104.4 180.9h1.3v1.3h-1.3zM86.2 166.0h1.3v1.3h-1.3zM114.4 158.8h1.3v1.3h-1.3zM103.5 180.8h1.3v1.3h-1.3zM108.4 167.4h1.3v1.3h-1.3zM91.6 157.5h1.3v1.3h-1.3zM95.6 169.9h1.3v1.3h-1.3zM99.2 159.8h1.3v1.3h-1.3zM102.5 172.2h1.3v1.3h-1.3zM85.6 179.1h1.3v1.3h-1.3zM93.0 185.6h1.3v1.3h-1.3zM93.3 189.8h1.3v1.3h-1.3zM98.9 174.4h1.3v1.3h-1.3zM92.6 181.1h1.3v1.3h-1.3zM111.6 172.3h1.3v1.3h-1.3zM99.3 173.2h1.3v1.3h-1.3zM108.1 175.8h1.3v1.3h-1.3zM105.8 178.2h1.3v1.3h-1.3zM102.6 176.8h1.3v1.3h-1.3zM98.4 171.7h1.3v1.3h-1.3zM91.7 160.9h1.3v1.3h-1.3zM85.7 155.1h1.3v1.3h-1.3zM92.3 148.1h1.3v1.3h-1.3zM104.6 177.5h1.3v1.3h-1.3zM88.4 169.4h1.3v1.3h-1.3zM88.1 170.5h1.3v1.3h-1.3zM85.7 165.6h1.3v1.3h-1.3zM92.2 159.1h1.3v1.3h-1.3zM109.6 171.0h1.3v1.3h-1.3zM96.3 154.2h1.3v1.3h-1.3zM89.1 174.3h1.3v1.3h-1.3zM108.1 154.1h1.3v1.3h-1.3zM90.5 175.2h1.3v1.3h-1.3zM93.1 170.6h1.3v1.3h-1.3zM89.9 180.1h1.3v1.3h-1.3zM91.9 169.8h1.3v1.3h-1.3zM95.5 175.9h1.3v1.3h-1.3zM102.7 187.7h1.3v1.3h-1.3zM88.2 175.9h1.3v1.3h-1.3zM104.0 167.1h1.3v1.3h-1.3zM91.1 177.6h1.3v1.3h-1.3zM98.0 176.7h1.3v1.3h-1.3zM84.2 167.4h1.3v1.3h-1.3zM107.0 166.0h1.3v1.3h-1.3zM86.8 164.3h1.3v1.3h-1.3zM96.2 159.5h1.3v1.3h-1.3zM93.5 155.4h1.3v1.3h-1.3zM87.1 162.1h1.3v1.3h-1.3zM96.5 167.1h1.3v1.3h-1.3zM97.8 171.4h1.3v1.3h-1.3zM83.4 165.8h1.3v1.3h-1.3zM99.1 173.9h1.3v1.3h-1.3zM90.2 165.6h1.3v1.3h-1.3zM102.4 169.7h1.3v1.3h-1.3zM95.4 158.5h1.3v1.3h-1.3zM83.5 162.2h1.3v1.3h-1.3zM86.1 172.4h1.3v1.3h-1.3zM94.6 168.1h1.3v1.3h-1.3zM93.2 153.5h1.3v1.3h-1.3zM106.2 172.7h1.3v1.3h-1.3zM98.9 165.8h1.3v1.3h-1.3zM90.8 165.0h1.3v1.3h-1.3zM101.3 174.8h1.3v1.3h-1.3zM99.2 159.6h1.3v1.3h-1.3zM110.4 162.8h1.3v1.3h-1.3zM101.0 159.9h1.3v1.3h-1.3zM87.8 168.1h1.3v1.3h-1.3zM89.5 175.7h1.3v1.3h-1.3zM99.1 181.5h1.3v1.3h-1.3zM83.6 164.8h1.3v1.3h-1.3zM108.0 173.4h1.3v1.3h-1.3zM85.8 168.2h1.3v1.3h-1.3zM83.5 180.9h1.3v1.3h-1.3zM106.7 163.6h1.3v1.3h-1.3zM97.6 172.7h1.3v1.3h-1.3zM110.9 173.9h1.3v1.3h-1.3zM103.6 186.4h1.3v1.3h-1.3zM98.9 171.0h1.3v1.3h-1.3zM83.4 154.7h1.3v1.3h-1.3zM93.3 165.8h1.3v1.3h-1.3zM91.1 163.4h1.3v1.3h-1.3zM92.6 164.6h1.3v1.3h-1.3zM110.1 167.4h1.3v1.3h-1.3zM101.3 169.5h1.3v1.3h-1.3zM94.7 184.7h1.3v1.3h-1.3zM105.6 157.9h1.3v1.3h-1.3zM88.8 173.2h1.3v1.3h-1.3zM104.8 176.3h1.3v1.3h-1.3zM99.6 163.6h1.3v1.3h-1.3zM90.9 170.5h1.3v1.3h-1.3zM89.4 187.0h1.3v1.3h-1.3zM107.3 180.1h1.3v1.3h-1.3zM85.1 184.2h1.3v1.3h-1.3zM98.5 187.5h1.3v1.3h-1.3zM101.4 174.1h1.3v1.3h-1.3zM101.6 170.2h1.3v1.3h-1.3zM92.4 164.1h1.3v1.3h-1.3zM92.9 171.8h1.3v1.3h-1.3zM83.3 178.1h1.3v1.3h-1.3zM94.7 161.7h1.3v1.3h-1.3zM92.1 186.2h1.3v1.3h-1.3zM100.7 162.0h1.3v1.3h-1.3zM97.1 173.1h1.3v1.3h-1.3zM109.2 171.2h1.3v1.3h-1.3zM108.7 172.1h1.3v1.3h-1.3zM107.5 159.2h1.3v1.3h-1.3zM83.2 176.8h1.3v1.3h-1.3zM98.4 163.0h1.3v1.3h-1.3zM95.2 174.8h1.3v1.3h-1.3zM102.2 169.4h1.3v1.3h-1.3zM89.5 180.5h1.3v1.3h-1.3zM110.0 167.0h1.3v1.3h-1.3zM86.7 168.4h1.3v1.3h-1.3zM103.5 171.6h1.3v1.3h-1.3zM95.2 155.3h1.3v1.3h-1.3zM83.1 159.3h1.3v1.3h-1.3zM87.3 176.6h1.3v1.3h-1.3zM85.9 174.3h1.3v1.3h-1.3zM110.7 182.6h1.3v1.3h-1.3zM94.9 169.3h1.3v1.3h-1.3zM112.0 162.1h1.3v1.3h-1.3zM105.6 157.8h1.3v1.3h-1.3zM109.3 167.4h1.3v1.3h-1.3zM103.1 163.6h1.3v1.3h-1.3zM85.8 175.0h1.3v1.3h-1.3zM106.7 177.5h1.3v1.3h-1.3zM86.9 177.0h1.3v1.3h-1.3zM89.8 179.1h1.3v1.3h-1.3zM85.0 171.6h1.3v1.3h-1.3zM97.2 179.7h1.3v1.3h-1.3zM105.6 171.1h1.3v1.3h-1.3zM86.3 171.3h1.3v1.3h-1.3zM89.1 174.5h1.3v1.3h-1.3zM90.4 153.9h1.3v1.3h-1.3zM91.9 161.4h1.3v1.3h-1.3zM87.4 171.7h1.3v1.3h-1.3zM103.9 176.5h1.3v1.3h-1.3zM95.6 163.8h1.3v1.3h-1.3zM93.7 172.9h1.3v1.3h-1.3zM100.0 172.4h1.3v1.3h-1.3zM91.3 157.0h1.3v1.3h-1.3zM87.3 175.3h1.3v1.3h-1.3zM110.6 174.0h1.3v1.3h-1.3zM89.3 165.0h1.3v1.3h-1.3zM101.1 162.4h1.3v1.3h-1.3zM110.4 157.9h1.3v1.3h-1.3zM106.1 150.6h1.3v1.3h-1.3zM104.4 163.0h1.3v1.3h-1.3zM109.1 170.9h1.3v1.3h-1.3zM88.1 170.1h1.3v1.3h-1.3zM101.5 174.4h1.3v1.3h-1.3zM87.5 169.6h1.3v1.3h-1.3zM101.5 169.1h1.3v1.3h-1.3zM87.9 170.7h1.3v1.3h-1.3zM105.2 166.9h1.3v1.3h-1.3zM107.1 180.8h1.3v1.3h-1.3zM106.5 178.6h1.3v1.3h-1.3zM109.2 168.4h1.3v1.3h-1.3zM87.7 179.0h1.3v1.3h-1.3zM90.1 164.1h1.3v1.3h-1.3zM101.5 170.2h1.3v1.3h-1.3zM94.4 173.7h1.3v1.3h-1.3zM88.0 167.3h1.3v1.3h-1.3zM96.4 163.5h1.3v1.3h-1.3zM87.9 172.0h1.3v1.3h-1.3zM94.7 185.2h1.3v1.3h-1.3zM101.8 163.1h1.3v1.3h-1.3zM93.2 172.0h1.3v1.3h-1.3zM88.5 172.8h1.3v1.3h-1.3zM90.5 167.1h1.3v1.3h-1.3zM87.6 161.3h1.3v1.3h-1.3zM85.2 184.7h1.3v1.3h-1.3zM107.4 168.5h1.3v1.3h-1.3zM97.2 175.6h1.3v1.3h-1.3zM95.3 164.4h1.3v1.3h-1.3zM95.7 166.4h1.3v1.3h-1.3zM88.4 157.3h1.3v1.3h-1.3zM83.9 178.0h1.3v1.3h-1.3zM93.1 156.3h1.3v1.3h-1.3zM92.8 172.9h1.3v1.3h-1.3zM100.5 159.2h1.3v1.3h-1.3zM95.5 171.7h1.3v1.3h-1.3zM106.8 187.2h1.3v1.3h-1.3zM86.1 169.3h1.3v1.3h-1.3zM101.7 162.2h1.3v1.3h-1.3zM91.2 170.1h1.3v1.3h-1.3zM99.2 168.8h1.3v1.3h-1.3zM117.3 160.4h1.3v1.3h-1.3zM95.6 164.8h1.3v1.3h-1.3zM104.8 161.7h1.3v1.3h-1.3zM102.4 163.5h1.3v1.3h-1.3zM100.4 182.4h1.3v1.3h-1.3zM99.9 175.7h1.3v1.3h-1.3zM84.3 164.9h1.3v1.3h-1.3zM106.5 175.6h1.3v1.3h-1.3zM95.2 167.5h1.3v1.3h-1.3zM93.6 169.3h1.3v1.3h-1.3zM108.8 160.8h1.3v1.3h-1.3zM86.9 186.2h1.3v1.3h-1.3zM110.0 159.4h1.3v1.3h-1.3zM96.3 168.6h1.3v1.3h-1.3zM91.9 173.1h1.3v1.3h-1.3zM105.1 167.5h1.3v1.3h-1.3zM110.3 179.8h1.3v1.3h-1.3zM92.9 156.7h1.3v1.3h-1.3zM98.5 170.3h1.3v1.3h-1.3zM101.9 170.5h1.3v1.3h-1.3zM102.5 163.3h1.3v1.3h-1.3zM91.9 165.6h1.3v1.3h-1.3zM85.0 184.9h1.3v1.3h-1.3zM84.8 178.0h1.3v1.3h-1.3zM91.4 172.2h1.3v1.3h-1.3zM89.7 162.9h1.3v1.3h-1.3zM108.0 172.8h1.3v1.3h-1.3zM83.8 166.4h1.3v1.3h-1.3zM85.3 183.0h1.3v1.3h-1.3zM109.5 159.9h1.3v1.3h-1.3zM103.6 162.4h1.3v1.3h-1.3zM84.0 179.4h1.3v1.3h-1.3zM103.3 156.0h1.3v1.3h-1.3zM100.0 164.1h1.3v1.3h-1.3zM96.8 175.3h1.3v1.3h-1.3zM85.7 162.4h1.3v1.3h-1.3zM101.3 159.9h1.3v1.3h-1.3zM85.0 183.5h1.3v1.3h-1.3zM107.3 174.9h1.3v1.3h-1.3zM83.3 173.6h1.3v1.3h-1.3zM90.7 168.8h1.3v1.3h-1.3zM98.4 164.2h1.3v1.3h-1.3zM98.2 180.0h1.3v1.3h-1.3zM103.5 186.9h1.3v1.3h-1.3zM104.9 176.4h1.3v1.3h-1.3zM110.4 161.3h1.3v1.3h-1.3zM93.0 169.1h1.3v1.3h-1.3zM86.1 166.9h1.3v1.3h-1.3zM102.6 176.7h1.3v1.3h-1.3zM86.1 168.0h1.3v1.3h-1.3zM105.6 176.5h1.3v1.3h-1.3zM97.6 183.1h1.3v1.3h-1.3zM100.9 175.3h1.3v1.3h-1.3zM88.9 167.4h1.3v1.3h-1.3zM92.1 169.2h1.3v1.3h-1.3zM106.7 175.4h1.3v1.3h-1.3zM82.2 181.0h1.3v1.3h-1.3zM87.9 182.4h1.3v1.3h-1.3zM98.2 160.1h1.3v1.3h-1.3zM96.1 178.0h1.3v1.3h-1.3zM99.1 166.9h1.3v1.3h-1.3zM98.5 162.0h1.3v1.3h-1.3zM98.6 176.4h1.3v1.3h-1.3zM100.8 158.1h1.3v1.3h-1.3zM101.2 163.2h1.3v1.3h-1.3zM95.7 169.7h1.3v1.3h-1.3zM96.6 177.1h1.3v1.3h-1.3zM103.1 152.0h1.3v1.3h-1.3zM103.3 152.7h1.3v1.3h-1.3zM102.4 167.3h1.3v1.3h-1.3zM108.5 164.2h1.3v1.3h-1.3zM87.7 180.0h1.3v1.3h-1.3zM86.0 178.0h1.3v1.3h-1.3zM105.6 179.9h1.3v1.3h-1.3zM89.5 166.2h1.3v1.3h-1.3zM90.8 164.8h1.3v1.3h-1.3zM103.6 165.8h1.3v1.3h-1.3zM90.2 172.4h1.3v1.3h-1.3zM92.9 162.8h1.3v1.3h-1.3zM97.4 177.0h1.3v1.3h-1.3zM103.3 167.3h1.3v1.3h-1.3zM85.4 171.2h1.3v1.3h-1.3zM101.3 165.1h1.3v1.3h-1.3zM92.3 161.3h1.3v1.3h-1.3zM93.9 167.5h1.3v1.3h-1.3zM99.8 187.8h1.3v1.3h-1.3zM99.8 189.9h1.3v1.3h-1.3zM95.4 178.6h1.3v1.3h-1.3zM90.8 184.0h1.3v1.3h-1.3zM83.6 168.7h1.3v1.3h-1.3zM94.4 161.9h1.3v1.3h-1.3zM91.6 160.9h1.3v1.3h-1.3zM86.0 160.0h1.3v1.3h-1.3zM101.6 170.3h1.3v1.3h-1.3zM90.2 177.9h1.3v1.3h-1.3zM93.0 174.4h1.3v1.3h-1.3zM83.1 174.2h1.3v1.3h-1.3zM107.6 184.4h1.3v1.3h-1.3zM102.1 168.6h1.3v1.3h-1.3zM96.7 162.9h1.3v1.3h-1.3zM107.5 161.0h1.3v1.3h-1.3zM91.9 163.7h1.3v1.3h-1.3zM105.1 179.0h1.3v1.3h-1.3zM83.7 167.6h1.3v1.3h-1.3zM91.8 158.9h1.3v1.3h-1.3zM103.7 183.9h1.3v1.3h-1.3zM107.1 187.3h1.3v1.3h-1.3zM90.7 166.0h1.3v1.3h-1.3zM105.8 164.1h1.3v1.3h-1.3zM106.3 156.2h1.3v1.3h-1.3zM83.3 160.7h1.3v1.3h-1.3zM93.4 162.4h1.3v1.3h-1.3zM86.2 170.8h1.3v1.3h-1.3zM102.2 171.1h1.3v1.3h-1.3zM87.4 174.8h1.3v1.3h-1.3zM89.3 181.8h1.3v1.3h-1.3zM93.2 175.4h1.3v1.3h-1.3zM104.2 176.1h1.3v1.3h-1.3zM88.3 162.1h1.3v1.3h-1.3zM94.0 175.0h1.3v1.3h-1.3zM98.6 158.7h1.3v1.3h-1.3zM93.9 163.6h1.3v1.3h-1.3zM112.9 150.9h1.3v1.3h-1.3zM83.9 167.6h1.3v1.3h-1.3zM106.3 167.0h1.3v1.3h-1.3zM91.3 175.3h1.3v1.3h-1.3zM85.3 185.4h1.3v1.3h-1.3zM87.9 154.5h1.3v1.3h-1.3zM93.4 178.9h1.3v1.3h-1.3zM85.1 154.8h1.3v1.3h-1.3zM105.5 165.6h1.3v1.3h-1.3zM104.3 167.0h1.3v1.3h-1.3zM84.3 178.1h1.3v1.3h-1.3zM96.3 156.9h1.3v1.3h-1.3zM102.7 177.0h1.3v1.3h-1.3zM103.5 171.5h1.3v1.3h-1.3zM113.8 157.9h1.3v1.3h-1.3zM106.5 162.8h1.3v1.3h-1.3zM89.1 181.1h1.3v1.3h-1.3zM103.5 171.0h1.3v1.3h-1.3zM98.1 169.0h1.3v1.3h-1.3zM86.6 174.6h1.3v1.3h-1.3zM106.0 156.5h1.3v1.3h-1.3zM90.2 177.7h1.3v1.3h-1.3zM102.1 155.3h1.3v1.3h-1.3zM104.1 156.9h1.3v1.3h-1.3zM100.5 154.9h1.3v1.3h-1.3zM89.1 166.1h1.3v1.3h-1.3zM107.8 180.1h1.3v1.3h-1.3zM89.4 168.6h1.3v1.3h-1.3zM99.2 163.4h1.3v1.3h-1.3zM95.6 175.4h1.3v1.3h-1.3zM111.4 180.8h1.3v1.3h-1.3zM87.0 176.6h1.3v1.3h-1.3zM98.3 165.0h1.3v1.3h-1.3zM90.6 174.4h1.3v1.3h-1.3zM97.8 172.8h1.3v1.3h-1.3zM100.8 162.8h1.3v1.3h-1.3zM102.3 172.1h1.3v1.3h-1.3zM97.3 175.9h1.3v1.3h-1.3zM99.8 171.8h1.3v1.3h-1.3zM85.7 175.9h1.3v1.3h-1.3zM91.0 179.5h1.3v1.3h-1.3zM83.1 177.6h1.3v1.3h-1.3zM83.2 179.4h1.3v1.3h-1.3zM88.1 186.5h1.3v1.3h-1.3zM95.6 175.7h1.3v1.3h-1.3zM83.3 177.9h1.3v1.3h-1.3zM106.6 157.1h1.3v1.3h-1.3zM84.6 169.4h1.3v1.3h-1.3zM92.9 180.0h1.3v1.3h-1.3zM93.6 170.3h1.3v1.3h-1.3zM98.6 165.4h1.3v1.3h-1.3zM107.5 168.5h1.3v1.3h-1.3zM88.6 171.0h1.3v1.3h-1.3zM101.5 168.0h1.3v1.3h-1.3zM90.1 169.9h1.3v1.3h-1.3zM89.6 176.2h1.3v1.3h-1.3zM102.5 160.5h1.3v1.3h-1.3zM96.3 179.8h1.3v1.3h-1.3zM100.8 172.4h1.3v1.3h-1.3zM97.7 161.8h1.3v1.3h-1.3zM102.6 187.6h1.3v1.3h-1.3zM98.7 188.2h1.3v1.3h-1.3zM96.3 163.8h1.3v1.3h-1.3zM85.9 162.6h1.3v1.3h-1.3zM103.0 159.0h1.3v1.3h-1.3zM87.5 167.7h1.3v1.3h-1.3zM85.1 179.0h1.3v1.3h-1.3zM85.2 179.2h1.3v1.3h-1.3zM101.2 168.8h1.3v1.3h-1.3zM105.8 181.6h1.3v1.3h-1.3zM93.4 191.3h1.3v1.3h-1.3zM88.7 168.4h1.3v1.3h-1.3zM107.4 173.8h1.3v1.3h-1.3zM115.4 177.0h1.3v1.3h-1.3zM107.3 190.1h1.3v1.3h-1.3zM122.6 183.0h1.3v1.3h-1.3zM111.8 174.5h1.3v1.3h-1.3zM107.5 160.3h1.3v1.3h-1.3zM111.9 175.3h1.3v1.3h-1.3zM107.9 190.4h1.3v1.3h-1.3zM126.3 190.7h1.3v1.3h-1.3zM119.7 185.2h1.3v1.3h-1.3zM108.0 185.2h1.3v1.3h-1.3zM116.6 172.9h1.3v1.3h-1.3zM137.4 169.3h1.3v1.3h-1.3zM106.8 165.2h1.3v1.3h-1.3zM108.9 151.3h1.3v1.3h-1.3zM106.1 182.6h1.3v1.3h-1.3zM120.5 167.4h1.3v1.3h-1.3zM122.7 191.0h1.3v1.3h-1.3zM118.9 170.6h1.3v1.3h-1.3zM116.1 164.3h1.3v1.3h-1.3zM107.5 162.0h1.3v1.3h-1.3zM107.3 191.2h1.3v1.3h-1.3zM120.1 184.8h1.3v1.3h-1.3zM107.8 170.4h1.3v1.3h-1.3zM119.2 187.4h1.3v1.3h-1.3zM140.2 164.1h1.3v1.3h-1.3zM107.8 162.9h1.3v1.3h-1.3zM108.6 176.0h1.3v1.3h-1.3zM110.3 171.4h1.3v1.3h-1.3zM117.0 190.3h1.3v1.3h-1.3zM119.6 168.5h1.3v1.3h-1.3zM107.7 163.8h1.3v1.3h-1.3zM110.4 182.8h1.3v1.3h-1.3zM139.7 178.3h1.3v1.3h-1.3zM109.6 184.8h1.3v1.3h-1.3zM120.0 182.3h1.3v1.3h-1.3zM107.0 180.6h1.3v1.3h-1.3zM112.2 157.3h1.3v1.3h-1.3zM120.8 191.1h1.3v1.3h-1.3zM108.4 175.8h1.3v1.3h-1.3zM106.7 163.4h1.3v1.3h-1.3zM140.7 180.7h1.3v1.3h-1.3zM108.7 187.2h1.3v1.3h-1.3zM119.9 167.4h1.3v1.3h-1.3zM106.8 164.3h1.3v1.3h-1.3zM117.3 191.3h1.3v1.3h-1.3zM109.8 180.0h1.3v1.3h-1.3zM122.3 176.2h1.3v1.3h-1.3zM106.3 180.6h1.3v1.3h-1.3zM106.6 190.8h1.3v1.3h-1.3zM116.3 158.7h1.3v1.3h-1.3zM110.8 159.3h1.3v1.3h-1.3zM124.4 186.1h1.3v1.3h-1.3zM116.8 154.9h1.3v1.3h-1.3zM116.6 171.4h1.3v1.3h-1.3zM125.4 157.4h1.3v1.3h-1.3zM108.5 154.7h1.3v1.3h-1.3zM111.5 190.6h1.3v1.3h-1.3zM108.1 173.9h1.3v1.3h-1.3zM114.4 188.8h1.3v1.3h-1.3zM109.2 189.4h1.3v1.3h-1.3zM142.4 190.8h1.3v1.3h-1.3zM133.0 155.3h1.3v1.3h-1.3zM129.2 151.8h1.3v1.3h-1.3zM110.2 156.8h1.3v1.3h-1.3zM129.1 182.3h1.3v1.3h-1.3zM112.5 163.2h1.3v1.3h-1.3zM109.8 181.8h1.3v1.3h-1.3zM107.1 176.2h1.3v1.3h-1.3zM86 108h1.3v1.3h-1.3zM93 106h1.3v1.3h-1.3zM99 110h1.3v1.3h-1.3zM111 115h1.3v1.3h-1.3zM112 118h1.3v1.3h-1.3zM116 110h1.3v1.3h-1.3zM118 119h1.3v1.3h-1.3zM118 121h1.3v1.3h-1.3zM131 120h1.3v1.3h-1.3zM106 122h1.3v1.3h-1.3zM121 125h1.3v1.3h-1.3zM128 118h1.3v1.3h-1.3zM85 122h1.3v1.3h-1.3zM92 124h1.3v1.3h-1.3zM91 132h1.3v1.3h-1.3zM102 131h1.3v1.3h-1.3zM124 132h1.3v1.3h-1.3zM114 141h1.3v1.3h-1.3zM121 140h1.3v1.3h-1.3zM133 131h1.3v1.3h-1.3zM150 120h1.3v1.3h-1.3zM218 155.8h1.3v1.3h-1.3zM152.5 158.8h1.3v1.3h-1.3zM151 172.5h1.3v1.3h-1.3zM143.8 163.8h1.3v1.3h-1.3zM142.5 157.5h1.3v1.3h-1.3zM140 176h1.3v1.3h-1.3zM138 160h1.3v1.3h-1.3zM146 150h1.3v1.3h-1.3zM133 148h1.3v1.3h-1.3zM129 155h1.3v1.3h-1.3zM143 183h1.3v1.3h-1.3zM136 188h1.3v1.3h-1.3z" fill="#000"/>
<line x1="82.4" y1="79" x2="82.4" y2="102" stroke="#888" stroke-width="1.6" />
<rect x="80" y="10.3" width="187" height="184.4" fill="none" stroke="#000" stroke-width="1.5"/>
<line x1="74.8" y1="194.5" x2="80" y2="194.5" stroke="#000" stroke-width="1.3" />
<line x1="76.8" y1="180.62251719989047" x2="80" y2="180.62251719989047" stroke="#000" stroke-width="1.2" />
<line x1="76.8" y1="172.50471015742357" x2="80" y2="172.50471015742357" stroke="#000" stroke-width="1.2" />
<line x1="76.8" y1="166.74503439978093" x2="80" y2="166.74503439978093" stroke="#000" stroke-width="1.2" />
<line x1="76.8" y1="162.27748280010954" x2="80" y2="162.27748280010954" stroke="#000" stroke-width="1.2" />
<line x1="76.8" y1="158.62722735731404" x2="80" y2="158.62722735731404" stroke="#000" stroke-width="1.2" />
<line x1="76.8" y1="155.54098035534275" x2="80" y2="155.54098035534275" stroke="#000" stroke-width="1.2" />
<line x1="76.8" y1="152.8675515996714" x2="80" y2="152.8675515996714" stroke="#000" stroke-width="1.2" />
<line x1="76.8" y1="150.50942031484712" x2="80" y2="150.50942031484712" stroke="#000" stroke-width="1.2" />
<line x1="74.8" y1="148.4" x2="80" y2="148.4" stroke="#000" stroke-width="1.3" />
<line x1="76.8" y1="134.52251719989047" x2="80" y2="134.52251719989047" stroke="#000" stroke-width="1.2" />
<line x1="76.8" y1="126.40471015742357" x2="80" y2="126.40471015742357" stroke="#000" stroke-width="1.2" />
<line x1="76.8" y1="120.64503439978094" x2="80" y2="120.64503439978094" stroke="#000" stroke-width="1.2" />
<line x1="76.8" y1="116.17748280010954" x2="80" y2="116.17748280010954" stroke="#000" stroke-width="1.2" />
<line x1="76.8" y1="112.52722735731403" x2="80" y2="112.52722735731403" stroke="#000" stroke-width="1.2" />
<line x1="76.8" y1="109.44098035534276" x2="80" y2="109.44098035534276" stroke="#000" stroke-width="1.2" />
<line x1="76.8" y1="106.7675515996714" x2="80" y2="106.7675515996714" stroke="#000" stroke-width="1.2" />
<line x1="76.8" y1="104.40942031484713" x2="80" y2="104.40942031484713" stroke="#000" stroke-width="1.2" />
<line x1="74.8" y1="102.3" x2="80" y2="102.3" stroke="#000" stroke-width="1.3" />
<line x1="76.8" y1="88.42251719989046" x2="80" y2="88.42251719989046" stroke="#000" stroke-width="1.2" />
<line x1="76.8" y1="80.30471015742356" x2="80" y2="80.30471015742356" stroke="#000" stroke-width="1.2" />
<line x1="76.8" y1="74.54503439978093" x2="80" y2="74.54503439978093" stroke="#000" stroke-width="1.2" />
<line x1="76.8" y1="70.07748280010952" x2="80" y2="70.07748280010952" stroke="#000" stroke-width="1.2" />
<line x1="76.8" y1="66.42722735731402" x2="80" y2="66.42722735731402" stroke="#000" stroke-width="1.2" />
<line x1="76.8" y1="63.34098035534276" x2="80" y2="63.34098035534276" stroke="#000" stroke-width="1.2" />
<line x1="76.8" y1="60.6675515996714" x2="80" y2="60.6675515996714" stroke="#000" stroke-width="1.2" />
<line x1="76.8" y1="58.30942031484712" x2="80" y2="58.30942031484712" stroke="#000" stroke-width="1.2" />
<line x1="74.8" y1="56.19999999999999" x2="80" y2="56.19999999999999" stroke="#000" stroke-width="1.3" />
<line x1="76.8" y1="42.322517199890456" x2="80" y2="42.322517199890456" stroke="#000" stroke-width="1.2" />
<line x1="76.8" y1="34.20471015742355" x2="80" y2="34.20471015742355" stroke="#000" stroke-width="1.2" />
<line x1="76.8" y1="28.445034399780923" x2="80" y2="28.445034399780923" stroke="#000" stroke-width="1.2" />
<line x1="76.8" y1="23.97748280010952" x2="80" y2="23.97748280010952" stroke="#000" stroke-width="1.2" />
<line x1="76.8" y1="20.327227357314015" x2="80" y2="20.327227357314015" stroke="#000" stroke-width="1.2" />
<line x1="76.8" y1="17.24098035534275" x2="80" y2="17.24098035534275" stroke="#000" stroke-width="1.2" />
<line x1="76.8" y1="14.56755159967139" x2="80" y2="14.56755159967139" stroke="#000" stroke-width="1.2" />
<line x1="76.8" y1="12.209420314847108" x2="80" y2="12.209420314847108" stroke="#000" stroke-width="1.2" />
<line x1="74.8" y1="10.099999999999994" x2="80" y2="10.099999999999994" stroke="#000" stroke-width="1.3" />
<line x1="80.0" y1="195" x2="80.0" y2="201.5" stroke="#000" stroke-width="1.3" />
<line x1="94.07315229729112" y1="195" x2="94.07315229729112" y2="198.5" stroke="#000" stroke-width="1.2" />
<line x1="102.30541865814422" y1="195" x2="102.30541865814422" y2="198.5" stroke="#000" stroke-width="1.2" />
<line x1="108.14630459458225" y1="195" x2="108.14630459458225" y2="198.5" stroke="#000" stroke-width="1.2" />
<line x1="112.67684770270888" y1="195" x2="112.67684770270888" y2="198.5" stroke="#000" stroke-width="1.2" />
<line x1="116.37857095543535" y1="195" x2="116.37857095543535" y2="198.5" stroke="#000" stroke-width="1.2" />
<line x1="119.5083333706665" y1="195" x2="119.5083333706665" y2="198.5" stroke="#000" stroke-width="1.2" />
<line x1="122.21945689187336" y1="195" x2="122.21945689187336" y2="198.5" stroke="#000" stroke-width="1.2" />
<line x1="124.61083731628844" y1="195" x2="124.61083731628844" y2="198.5" stroke="#000" stroke-width="1.2" />
<line x1="126.75" y1="195" x2="126.75" y2="201.5" stroke="#000" stroke-width="1.3" />
<line x1="140.82315229729113" y1="195" x2="140.82315229729113" y2="198.5" stroke="#000" stroke-width="1.2" />
<line x1="149.05541865814422" y1="195" x2="149.05541865814422" y2="198.5" stroke="#000" stroke-width="1.2" />
<line x1="154.89630459458223" y1="195" x2="154.89630459458223" y2="198.5" stroke="#000" stroke-width="1.2" />
<line x1="159.42684770270887" y1="195" x2="159.42684770270887" y2="198.5" stroke="#000" stroke-width="1.2" />
<line x1="163.12857095543535" y1="195" x2="163.12857095543535" y2="198.5" stroke="#000" stroke-width="1.2" />
<line x1="166.2583333706665" y1="195" x2="166.2583333706665" y2="198.5" stroke="#000" stroke-width="1.2" />
<line x1="168.96945689187336" y1="195" x2="168.96945689187336" y2="198.5" stroke="#000" stroke-width="1.2" />
<line x1="171.36083731628844" y1="195" x2="171.36083731628844" y2="198.5" stroke="#000" stroke-width="1.2" />
<line x1="173.5" y1="195" x2="173.5" y2="201.5" stroke="#000" stroke-width="1.3" />
<line x1="187.57315229729113" y1="195" x2="187.57315229729113" y2="198.5" stroke="#000" stroke-width="1.2" />
<line x1="195.80541865814422" y1="195" x2="195.80541865814422" y2="198.5" stroke="#000" stroke-width="1.2" />
<line x1="201.64630459458223" y1="195" x2="201.64630459458223" y2="198.5" stroke="#000" stroke-width="1.2" />
<line x1="206.17684770270887" y1="195" x2="206.17684770270887" y2="198.5" stroke="#000" stroke-width="1.2" />
<line x1="209.87857095543535" y1="195" x2="209.87857095543535" y2="198.5" stroke="#000" stroke-width="1.2" />
<line x1="213.0083333706665" y1="195" x2="213.0083333706665" y2="198.5" stroke="#000" stroke-width="1.2" />
<line x1="215.71945689187336" y1="195" x2="215.71945689187336" y2="198.5" stroke="#000" stroke-width="1.2" />
<line x1="218.11083731628844" y1="195" x2="218.11083731628844" y2="198.5" stroke="#000" stroke-width="1.2" />
<line x1="220.25" y1="195" x2="220.25" y2="201.5" stroke="#000" stroke-width="1.3" />
<line x1="234.32315229729113" y1="195" x2="234.32315229729113" y2="198.5" stroke="#000" stroke-width="1.2" />
<line x1="242.55541865814422" y1="195" x2="242.55541865814422" y2="198.5" stroke="#000" stroke-width="1.2" />
<line x1="248.39630459458223" y1="195" x2="248.39630459458223" y2="198.5" stroke="#000" stroke-width="1.2" />
<line x1="252.92684770270887" y1="195" x2="252.92684770270887" y2="198.5" stroke="#000" stroke-width="1.2" />
<line x1="256.62857095543535" y1="195" x2="256.62857095543535" y2="198.5" stroke="#000" stroke-width="1.2" />
<line x1="259.7583333706665" y1="195" x2="259.7583333706665" y2="198.5" stroke="#000" stroke-width="1.2" />
<line x1="262.4694568918734" y1="195" x2="262.4694568918734" y2="198.5" stroke="#000" stroke-width="1.2" />
<line x1="264.86083731628844" y1="195" x2="264.86083731628844" y2="198.5" stroke="#000" stroke-width="1.2" />
<line x1="267.0" y1="195" x2="267.0" y2="201.5" stroke="#000" stroke-width="1.3" />
<text transform="translate(70.8,197.8) rotate(-90)" font-family='"Liberation Sans", sans-serif' font-size="11.5" font-weight="normal" text-anchor="middle" >10</text>
<text transform="translate(65.2,186.3) rotate(-90)" font-family='"Liberation Sans", sans-serif' font-size="11" font-weight="normal" text-anchor="middle" >0</text>
<text transform="translate(70.8,151.70000000000002) rotate(-90)" font-family='"Liberation Sans", sans-serif' font-size="11.5" font-weight="normal" text-anchor="middle" >10</text>
<text transform="translate(65.2,140.20000000000002) rotate(-90)" font-family='"Liberation Sans", sans-serif' font-size="11" font-weight="normal" text-anchor="middle" >1</text>
<text transform="translate(70.8,105.6) rotate(-90)" font-family='"Liberation Sans", sans-serif' font-size="11.5" font-weight="normal" text-anchor="middle" >10</text>
<text transform="translate(65.2,94.1) rotate(-90)" font-family='"Liberation Sans", sans-serif' font-size="11" font-weight="normal" text-anchor="middle" >2</text>
<text transform="translate(70.8,59.499999999999986) rotate(-90)" font-family='"Liberation Sans", sans-serif' font-size="11.5" font-weight="normal" text-anchor="middle" >10</text>
<text transform="translate(65.2,47.999999999999986) rotate(-90)" font-family='"Liberation Sans", sans-serif' font-size="11" font-weight="normal" text-anchor="middle" >3</text>
<text transform="translate(70.8,15.8) rotate(-90)" font-family='"Liberation Sans", sans-serif' font-size="11.5" font-weight="normal" text-anchor="middle" >10</text>
<text transform="translate(65.2,4.300000000000001) rotate(-90)" font-family='"Liberation Sans", sans-serif' font-size="11" font-weight="normal" text-anchor="middle" >4</text>
<text x="80.0" y="218.6" font-family='"Liberation Sans", sans-serif' font-size="12.6" font-weight="normal" text-anchor="middle" >10</text>
<text x="84.3" y="213.8" font-family='"Liberation Sans", sans-serif' font-size="12.6" font-weight="normal" text-anchor="start" >0</text>
<text x="126.75" y="218.6" font-family='"Liberation Sans", sans-serif' font-size="12.6" font-weight="normal" text-anchor="middle" >10</text>
<text x="131.05" y="213.8" font-family='"Liberation Sans", sans-serif' font-size="12.6" font-weight="normal" text-anchor="start" >1</text>
<text x="173.5" y="218.6" font-family='"Liberation Sans", sans-serif' font-size="12.6" font-weight="normal" text-anchor="middle" >10</text>
<text x="177.8" y="213.8" font-family='"Liberation Sans", sans-serif' font-size="12.6" font-weight="normal" text-anchor="start" >2</text>
<text x="220.25" y="218.6" font-family='"Liberation Sans", sans-serif' font-size="12.6" font-weight="normal" text-anchor="middle" >10</text>
<text x="224.55" y="213.8" font-family='"Liberation Sans", sans-serif' font-size="12.6" font-weight="normal" text-anchor="start" >3</text>
<text x="267.0" y="218.6" font-family='"Liberation Sans", sans-serif' font-size="12.6" font-weight="normal" text-anchor="middle" >10</text>
<text x="271.3" y="213.8" font-family='"Liberation Sans", sans-serif' font-size="12.6" font-weight="normal" text-anchor="start" >4</text>
<text x="152" y="232.3" font-family='"Liberation Sans", sans-serif' font-size="13.5" font-weight="normal" text-anchor="start" >CD25 PE</text>
<text transform="translate(42.3,103) rotate(-90)" font-family='"Liberation Serif", serif' font-size="20" font-weight="bold" text-anchor="middle" >CD4</text>
<text x='161.1' y='36.2' font-family='"Liberation Serif", serif' font-weight='bold' font-size='19.5'>C</text>
<text x='173.9' y='36.2' font-family='"Liberation Serif", serif' font-weight='bold' font-size='19.5'>D</text>
<text x='187.4' y='36.2' font-family='"Liberation Serif", serif' font-weight='bold' font-size='19.5'>3</text>
<text x='196.0' y='29' font-family='"Liberation Serif", serif' font-weight='bold' font-size='10'>+</text>
<text x='200.6' y='36.2' font-family='"Liberation Serif", serif' font-weight='bold' font-size='20'>4</text>
<text x='211.6' y='29' font-family='"Liberation Serif", serif' font-weight='bold' font-size='10'>+</text>
<text x='216.2' y='36.2' font-family='"Liberation Serif", serif' font-weight='bold' font-size='19.5'>2</text>
<text x='226.2' y='36.2' font-family='"Liberation Serif", serif' font-weight='bold' font-size='19.5'>5</text>
<text x='236.35' y='27.8' font-family='"Liberation Serif", serif' font-weight='bold' font-size='10'>hi</text>
<rect x="152.5" y="58" width="76.3" height="59.5" fill="none" stroke="#000" stroke-width="1.4"/>
<path d="M271.5 54.8 H292.3 V47 L312.2 57.7 L292.3 69 V60.2 H271.5 Z" fill="#000"/>
<polygon points="335,48 335.7,46 336.8,46 336.8,52.3 337.8,52.3 337.8,63.75 339.5,63.75 339.5,82.5 344,82.5 345.6,83 345.6,94.5 347.2,94.5 347.2,102.3 348.4,102.3 348.9,107.2 351.3,108.4 351.9,113.2 353.1,126.6 354.3,137.6 355.5,146.1 356.8,155.8 358.6,157 359.8,168 361.9,175.3 362.6,180.2 362.8,194.6 335,194.6" fill="#c6c6c6"/>
<polyline points="335,12 335.2,28.9 335.7,28.9 335.7,46 336.8,46 336.8,52.3 337.8,52.3 337.8,63.75 339.5,63.75 339.5,82.5 344,82.5 345.6,83 345.6,94.5 347.2,94.5 347.2,102.3 348.4,102.3 348.9,107.2 351.3,108.4 351.9,113.2 353.1,126.6 354.3,137.6 355.5,146.1 356.8,155.8 358.6,157 359.8,168 361.9,175.3 362.6,180.2 362.8,194.6" fill="none" stroke="#000" stroke-width="1.1"/>
<path d="M342 58 V84 M341 60 V84 M347.2 94 V101" stroke="#333" stroke-width="0.9"/>
<polyline points="392.5,183 394.2,182 394.2,176 396.5,176 396.5,170.8 399.6,170.8 399.6,166 402,166 402,157 405,157 405,150.8 406.5,150.8 406.5,138.5 409.6,138.5 409.6,132.3 411,132.3 411,114.6 412.5,114.6 412.5,102 413.3,102 413.3,94.8 414.6,94.8 414.6,108.3 416.1,108.3 416.1,134.4 417.7,134.4 417.7,96.9 418.5,96.9 418.5,82.8 421.4,82.8 421.4,96.9 422,96.9 422,134.4 423.4,134.4 423.4,102 424.5,102 424.5,88.5 426,88.5 426,82.8 428.6,82.8 428.6,65.6 429.6,65.6 429.6,59.5 430.6,59.5 430.6,70.8 431.3,70.8 432.3,70.8 432.3,81.3 433.5,81.3 433.5,88.5 434.4,88.5 434.4,108.3 436,108.3 436,120.8 437.5,120.8 437.5,121.9 439,121.9 439,129.2 441,129.2 441,136.5 443.5,136.5 443.5,144.6 445,144.6 445,158.5 446.5,158.5 446.5,169.2 448.5,169.2 448.5,181.5 450.5,181.5 450.5,194" fill="none" stroke="#000" stroke-width="2.4" stroke-linejoin="miter"/>
<g fill="#000"><rect x="340.2" y="180.5" width="2.4" height="8"/><rect x="338.9" y="187.8" width="4.9" height="7"/><rect x="349" y="180.5" width="3.5" height="8"/><rect x="348.5" y="187.8" width="4.5" height="7"/><rect x="356.2" y="180.5" width="3" height="8"/><rect x="355.5" y="187.8" width="6.2" height="7"/><rect x="362" y="180.5" width="11.1" height="3"/><rect x="374.6" y="180.5" width="6.6" height="3"/><rect x="383" y="180.5" width="7.4" height="3"/><rect x="391.9" y="180.5" width="3.1" height="3"/><rect x="362" y="180.5" width="1.4" height="14"/><rect x="366.2" y="183" width="7" height="11.5"/><rect x="373.1" y="188" width="2.3" height="6.5"/><rect x="380.4" y="183" width="3.8" height="11.5"/><rect x="389.6" y="183" width="3.4" height="11.5"/><rect x="398.4" y="157" width="5.4" height="13.5"/><rect x="395.5" y="169" width="3.8" height="14"/><rect x="406.5" y="132.4" width="4" height="7.3"/><rect x="424.5" y="83" width="3.4" height="14"/></g>
<rect x="363.4" y="184" width="2.8" height="10" fill="#c6c6c6"/>
<line x1="334.5" y1="10" x2="510.5" y2="10" stroke="#000" stroke-width="1.3" />
<line x1="510.5" y1="10" x2="510.5" y2="195" stroke="#000" stroke-width="1.3" />
<line x1="333.9" y1="9.5" x2="333.9" y2="196" stroke="#000" stroke-width="2.7" />
<line x1="333.5" y1="194.8" x2="511" y2="194.8" stroke="#000" stroke-width="2.2" />
<line x1="327.3" y1="194.6" x2="333" y2="194.6" stroke="#000" stroke-width="1.3" />
<line x1="329.3" y1="182.4" x2="333" y2="182.4" stroke="#000" stroke-width="1.3" />
<line x1="329.3" y1="170.2" x2="333" y2="170.2" stroke="#000" stroke-width="1.3" />
<line x1="329.3" y1="158.0" x2="333" y2="158.0" stroke="#000" stroke-width="1.3" />
<line x1="329.3" y1="145.8" x2="333" y2="145.8" stroke="#000" stroke-width="1.3" />
<line x1="327.3" y1="133.6" x2="333" y2="133.6" stroke="#000" stroke-width="1.3" />
<line x1="329.3" y1="121.4" x2="333" y2="121.4" stroke="#000" stroke-width="1.3" />
<line x1="329.3" y1="109.2" x2="333" y2="109.2" stroke="#000" stroke-width="1.3" />
<line x1="329.3" y1="97.0" x2="333" y2="97.0" stroke="#000" stroke-width="1.3" />
<line x1="329.3" y1="84.8" x2="333" y2="84.8" stroke="#000" stroke-width="1.3" />
<line x1="327.3" y1="72.6" x2="333" y2="72.6" stroke="#000" stroke-width="1.3" />
<line x1="329.3" y1="60.400000000000006" x2="333" y2="60.400000000000006" stroke="#000" stroke-width="1.3" />
<line x1="329.3" y1="48.20000000000002" x2="333" y2="48.20000000000002" stroke="#000" stroke-width="1.3" />
<line x1="329.3" y1="36.0" x2="333" y2="36.0" stroke="#000" stroke-width="1.3" />
<line x1="329.3" y1="23.80000000000001" x2="333" y2="23.80000000000001" stroke="#000" stroke-width="1.3" />
<line x1="327.3" y1="11.599999999999994" x2="333" y2="11.599999999999994" stroke="#000" stroke-width="1.3" />
<rect x="334.6" y="125" width="2" height="70" fill="#000"/>
<text transform="translate(324.4,10.5) rotate(-90) scale(1.3,1)" font-family='"Liberation Sans", sans-serif' font-size="9" text-anchor="middle">15</text>
<text transform="translate(324.4,70.8) rotate(-90) scale(1.3,1)" font-family='"Liberation Sans", sans-serif' font-size="9" text-anchor="middle">10</text>
<text transform="translate(324.4,129) rotate(-90) scale(1.3,1)" font-family='"Liberation Sans", sans-serif' font-size="9" text-anchor="middle">5</text>
<text transform="translate(324.4,194.8) rotate(-90) scale(1.3,1)" font-family='"Liberation Sans", sans-serif' font-size="9" text-anchor="middle">0</text>
<text transform="translate(313.2,106.3) rotate(-90) scale(1.27,1)" font-family='"Liberation Sans", sans-serif' font-size="11" text-anchor="middle">Counts</text>
<line x1="333.5" y1="195" x2="333.5" y2="201" stroke="#000" stroke-width="1.3" />
<line x1="346.80552580834797" y1="195" x2="346.80552580834797" y2="198.5" stroke="#000" stroke-width="1.2" />
<line x1="354.5887594586091" y1="195" x2="354.5887594586091" y2="198.5" stroke="#000" stroke-width="1.2" />
<line x1="360.11105161669593" y1="195" x2="360.11105161669593" y2="198.5" stroke="#000" stroke-width="1.2" />
<line x1="364.394474191652" y1="195" x2="364.394474191652" y2="198.5" stroke="#000" stroke-width="1.2" />
<line x1="367.89428526695707" y1="195" x2="367.89428526695707" y2="198.5" stroke="#000" stroke-width="1.2" />
<line x1="370.85333336863016" y1="195" x2="370.85333336863016" y2="198.5" stroke="#000" stroke-width="1.2" />
<line x1="373.4165774250439" y1="195" x2="373.4165774250439" y2="198.5" stroke="#000" stroke-width="1.2" />
<line x1="375.67751891721815" y1="195" x2="375.67751891721815" y2="198.5" stroke="#000" stroke-width="1.2" />
<line x1="377.7" y1="195" x2="377.7" y2="201" stroke="#000" stroke-width="1.3" />
<line x1="391.00552580834795" y1="195" x2="391.00552580834795" y2="198.5" stroke="#000" stroke-width="1.2" />
<line x1="398.7887594586091" y1="195" x2="398.7887594586091" y2="198.5" stroke="#000" stroke-width="1.2" />
<line x1="404.3110516166959" y1="195" x2="404.3110516166959" y2="198.5" stroke="#000" stroke-width="1.2" />
<line x1="408.594474191652" y1="195" x2="408.594474191652" y2="198.5" stroke="#000" stroke-width="1.2" />
<line x1="412.09428526695706" y1="195" x2="412.09428526695706" y2="198.5" stroke="#000" stroke-width="1.2" />
<line x1="415.05333336863015" y1="195" x2="415.05333336863015" y2="198.5" stroke="#000" stroke-width="1.2" />
<line x1="417.6165774250439" y1="195" x2="417.6165774250439" y2="198.5" stroke="#000" stroke-width="1.2" />
<line x1="419.87751891721814" y1="195" x2="419.87751891721814" y2="198.5" stroke="#000" stroke-width="1.2" />
<line x1="421.9" y1="195" x2="421.9" y2="201" stroke="#000" stroke-width="1.3" />
<line x1="435.20552580834794" y1="195" x2="435.20552580834794" y2="198.5" stroke="#000" stroke-width="1.2" />
<line x1="442.9887594586091" y1="195" x2="442.9887594586091" y2="198.5" stroke="#000" stroke-width="1.2" />
<line x1="448.5110516166959" y1="195" x2="448.5110516166959" y2="198.5" stroke="#000" stroke-width="1.2" />
<line x1="452.794474191652" y1="195" x2="452.794474191652" y2="198.5" stroke="#000" stroke-width="1.2" />
<line x1="456.29428526695705" y1="195" x2="456.29428526695705" y2="198.5" stroke="#000" stroke-width="1.2" />
<line x1="459.25333336863014" y1="195" x2="459.25333336863014" y2="198.5" stroke="#000" stroke-width="1.2" />
<line x1="461.8165774250439" y1="195" x2="461.8165774250439" y2="198.5" stroke="#000" stroke-width="1.2" />
<line x1="464.07751891721813" y1="195" x2="464.07751891721813" y2="198.5" stroke="#000" stroke-width="1.2" />
<line x1="466.1" y1="195" x2="466.1" y2="201" stroke="#000" stroke-width="1.3" />
<line x1="479.405525808348" y1="195" x2="479.405525808348" y2="198.5" stroke="#000" stroke-width="1.2" />
<line x1="487.1887594586091" y1="195" x2="487.1887594586091" y2="198.5" stroke="#000" stroke-width="1.2" />
<line x1="492.71105161669595" y1="195" x2="492.71105161669595" y2="198.5" stroke="#000" stroke-width="1.2" />
<line x1="496.99447419165205" y1="195" x2="496.99447419165205" y2="198.5" stroke="#000" stroke-width="1.2" />
<line x1="500.4942852669571" y1="195" x2="500.4942852669571" y2="198.5" stroke="#000" stroke-width="1.2" />
<line x1="503.4533333686302" y1="195" x2="503.4533333686302" y2="198.5" stroke="#000" stroke-width="1.2" />
<line x1="506.0165774250439" y1="195" x2="506.0165774250439" y2="198.5" stroke="#000" stroke-width="1.2" />
<line x1="508.2775189172182" y1="195" x2="508.2775189172182" y2="198.5" stroke="#000" stroke-width="1.2" />
<line x1="510.3" y1="195" x2="510.3" y2="201" stroke="#000" stroke-width="1.3" />
<text x="333.5" y="218.6" font-family='"Liberation Sans", sans-serif' font-size="12.6" font-weight="normal" text-anchor="middle" >10</text>
<text x="337.8" y="213.8" font-family='"Liberation Sans", sans-serif' font-size="12.6" font-weight="normal" text-anchor="start" >0</text>
<text x="377.7" y="218.6" font-family='"Liberation Sans", sans-serif' font-size="12.6" font-weight="normal" text-anchor="middle" >10</text>
<text x="382.0" y="213.8" font-family='"Liberation Sans", sans-serif' font-size="12.6" font-weight="normal" text-anchor="start" >1</text>
<text x="421.9" y="218.6" font-family='"Liberation Sans", sans-serif' font-size="12.6" font-weight="normal" text-anchor="middle" >10</text>
<text x="426.2" y="213.8" font-family='"Liberation Sans", sans-serif' font-size="12.6" font-weight="normal" text-anchor="start" >2</text>
<text x="466.1" y="218.6" font-family='"Liberation Sans", sans-serif' font-size="12.6" font-weight="normal" text-anchor="middle" >10</text>
<text x="470.40000000000003" y="213.8" font-family='"Liberation Sans", sans-serif' font-size="12.6" font-weight="normal" text-anchor="start" >3</text>
<text x="510.3" y="218.6" font-family='"Liberation Sans", sans-serif' font-size="12.6" font-weight="normal" text-anchor="middle" >10</text>
<text x="514.6" y="213.8" font-family='"Liberation Sans", sans-serif' font-size="12.6" font-weight="normal" text-anchor="start" >4</text>
<text x="391.3" y="246.2" font-family='"Liberation Serif", serif' font-size="21" font-weight="bold" text-anchor="start" >FOXP3</text>
<line x1="393.8" y1="35.4" x2="393.8" y2="60.3" stroke="#000" stroke-width="1.3" />
<line x1="393.8" y1="47.8" x2="510" y2="47.8" stroke="#000" stroke-width="1.5" />
<text x="454.3" y="64.3" font-family='"Liberation Sans", sans-serif' font-size="12.6" font-weight="normal" text-anchor="start" >M1</text>
<text x="457" y="109" font-family='"Liberation Serif", serif' font-size="16.5" font-weight="normal" text-anchor="start" >91%</text>
<line x1="204.4" y1="306.04999999999995" x2="382" y2="306.04999999999995" stroke="#000" stroke-width="1.5" />
<line x1="204.4" y1="333.41999999999996" x2="382" y2="333.41999999999996" stroke="#000" stroke-width="1.5" />
<line x1="204.4" y1="360.78999999999996" x2="480.5" y2="360.78999999999996" stroke="#000" stroke-width="1.5" />
<line x1="204.4" y1="388.15999999999997" x2="480.5" y2="388.15999999999997" stroke="#000" stroke-width="1.5" />
<line x1="204.4" y1="415.53" x2="480.5" y2="415.53" stroke="#000" stroke-width="1.5" />
<line x1="204.4" y1="442.9" x2="480.5" y2="442.9" stroke="#000" stroke-width="1.4" />
<line x1="204.4" y1="292" x2="204.4" y2="450" stroke="#000" stroke-width="1.4" />
<line x1="200.2" y1="306.04999999999995" x2="204.4" y2="306.04999999999995" stroke="#000" stroke-width="1.3" />
<text x="196.3" y="309.54999999999995" font-family='"Liberation Serif", serif' font-size="18.8" font-weight="normal" text-anchor="end" >100</text>
<line x1="200.2" y1="333.41999999999996" x2="204.4" y2="333.41999999999996" stroke="#000" stroke-width="1.3" />
<text x="196.3" y="336.91999999999996" font-family='"Liberation Serif", serif' font-size="18.8" font-weight="normal" text-anchor="end" >80</text>
<line x1="200.2" y1="360.78999999999996" x2="204.4" y2="360.78999999999996" stroke="#000" stroke-width="1.3" />
<text x="196.3" y="364.28999999999996" font-family='"Liberation Serif", serif' font-size="18.8" font-weight="normal" text-anchor="end" >60</text>
<line x1="200.2" y1="388.15999999999997" x2="204.4" y2="388.15999999999997" stroke="#000" stroke-width="1.3" />
<text x="196.3" y="391.65999999999997" font-family='"Liberation Serif", serif' font-size="18.8" font-weight="normal" text-anchor="end" >40</text>
<line x1="200.2" y1="415.53" x2="204.4" y2="415.53" stroke="#000" stroke-width="1.3" />
<text x="196.3" y="419.03" font-family='"Liberation Serif", serif' font-size="18.8" font-weight="normal" text-anchor="end" >20</text>
<line x1="200.2" y1="442.9" x2="204.4" y2="442.9" stroke="#000" stroke-width="1.3" />
<text x="196.3" y="446.4" font-family='"Liberation Serif", serif' font-size="18.8" font-weight="normal" text-anchor="end" >0</text>
<line x1="296.7" y1="442.9" x2="296.7" y2="449" stroke="#000" stroke-width="1.3" />
<line x1="389.2" y1="442.9" x2="389.2" y2="449" stroke="#000" stroke-width="1.3" />
<line x1="480.5" y1="442.9" x2="480.5" y2="449" stroke="#000" stroke-width="1.3" />
<text transform="translate(157.2,365.2) rotate(-90)" font-family='"Liberation Serif", serif' font-size="18.5" font-weight="normal" text-anchor="middle" letter-spacing="0.53">% of max. proliferation</text>
<text x="256.5" y="476.6" font-family='"Liberation Serif", serif' font-size="22.8" font-weight="bold" text-anchor="middle" >1 : 0</text>
<text x="349.6" y="476.6" font-family='"Liberation Serif", serif' font-size="22.8" font-weight="bold" text-anchor="middle" >1 : 0.5</text>
<text x="439.6" y="476.6" font-family='"Liberation Serif", serif' font-size="22.8" font-weight="bold" text-anchor="middle" >1 : 1</text>
<polyline points="249.5,305.3 342.4,371" fill="none" stroke="#000" stroke-width="3.3" stroke-dasharray="8.2 8.2" stroke-dashoffset="-2"/>
<polyline points="342.4,371 434.2,398" fill="none" stroke="#000" stroke-width="3.3" stroke-dasharray="8.2 8.2" stroke-dashoffset="1.2"/>
<polyline points="249.5,305 342.4,358.3 434.2,390" fill="none" stroke="#000" stroke-width="3.3"/>
<line x1="342.4" y1="324.3" x2="342.4" y2="350" stroke="#000" stroke-width="1.3" />
<line x1="337.6" y1="324.3" x2="347.4" y2="324.3" stroke="#000" stroke-width="1.5" />
<line x1="337.6" y1="334.3" x2="347.4" y2="334.3" stroke="#000" stroke-width="2.2" />
<line x1="337.3" y1="382.5" x2="347.4" y2="382.5" stroke="#555" stroke-width="1.3" />
<path d="M342.3 388 V399 M342.3 405 V415.5" stroke="#000" stroke-width="1.3"/>
<line x1="337.3" y1="416.4" x2="347.8" y2="416.4" stroke="#000" stroke-width="2.4" />
<line x1="434.2" y1="349.7" x2="434.2" y2="382" stroke="#000" stroke-width="1.3" />
<line x1="429.2" y1="349.7" x2="439.7" y2="349.7" stroke="#000" stroke-width="1.5" />
<line x1="429.2" y1="355.8" x2="439.7" y2="355.8" stroke="#000" stroke-width="1.5" />
<line x1="434.2" y1="409" x2="434.2" y2="430.3" stroke="#000" stroke-width="1.3" />
<line x1="429.2" y1="430.3" x2="439.7" y2="430.3" stroke="#000" stroke-width="1.5" />
<path d="M434.2 434 V443" stroke="#000" stroke-width="1.3"/>
<path d="M249.6 296.5 L257.8 314.5 L241.4 314.5 Z" fill="#fff" stroke="#000" stroke-width="1.3" stroke-linejoin="miter"/>
<path d="M342.4 362.59999999999997 L350.4 379.8 L334.4 379.8 Z" fill="#fff" stroke="#000" stroke-width="1.3" stroke-linejoin="miter"/>
<path d="M434.2 390.90000000000003 L442.5 408.7 L425.9 408.7 Z" fill="#fff" stroke="#000" stroke-width="1.3" stroke-linejoin="miter"/>
<ellipse cx="249.5" cy="304.8" rx="7.2" ry="8.4" fill="#909090" stroke="#000" stroke-width="1.8"/>
<ellipse cx="342.4" cy="358.5" rx="7.0" ry="8.3" fill="#909090" stroke="#000" stroke-width="1.8"/>
<ellipse cx="434.2" cy="389.8" rx="7.0" ry="8.4" fill="#909090" stroke="#000" stroke-width="1.8"/>
<path d="M386.5 294.3 H394.6 M402.7 294.3 H408 M420 294.3 H427 M437.3 294.3 H442" stroke="#000" stroke-width="3.2"/>
<path d="M413.6 289.1 L418.6 299.9 L408.6 299.9 Z" fill="#fff" stroke="#000" stroke-width="1.3" stroke-linejoin="miter"/>
<line x1="386.5" y1="323.2" x2="442" y2="323.2" stroke="#000" stroke-width="3.2" />
<ellipse cx="413.6" cy="323.2" rx="4.8" ry="5.2" fill="#909090" stroke="#000" stroke-width="1.2"/>
<text x="444.8" y="301.5" font-family='"Liberation Serif", serif' font-size="22" font-weight="bold" text-anchor="start" >MM</text>
<text x="444.8" y="330" font-family='"Liberation Serif", serif' font-size="22" font-weight="bold" text-anchor="start" >C</text>
<rect x="138.8" y="504.8" width="365.8" height="353.6" fill="none" stroke="#000" stroke-width="1.5"/>
<line x1="134" y1="518.45" x2="138.5" y2="518.45" stroke="#333" stroke-width="1.1" />
<text x="129.1" y="523.0500000000001" font-family='"Liberation Serif", serif' font-size="18.8" font-weight="normal" text-anchor="end" >100</text>
<line x1="134" y1="546.8000000000001" x2="138.5" y2="546.8000000000001" stroke="#333" stroke-width="1.1" />
<text x="129.1" y="551.4000000000001" font-family='"Liberation Serif", serif' font-size="18.8" font-weight="normal" text-anchor="end" >80</text>
<line x1="134" y1="575.1500000000001" x2="138.5" y2="575.1500000000001" stroke="#333" stroke-width="1.1" />
<text x="129.1" y="579.7500000000001" font-family='"Liberation Serif", serif' font-size="18.8" font-weight="normal" text-anchor="end" >60</text>
<line x1="134" y1="603.5" x2="138.5" y2="603.5" stroke="#333" stroke-width="1.1" />
<text x="129.1" y="608.1" font-family='"Liberation Serif", serif' font-size="18.8" font-weight="normal" text-anchor="end" >40</text>
<line x1="134" y1="631.85" x2="138.5" y2="631.85" stroke="#333" stroke-width="1.1" />
<text x="129.1" y="636.45" font-family='"Liberation Serif", serif' font-size="18.8" font-weight="normal" text-anchor="end" >20</text>
<line x1="134" y1="660.2" x2="138.5" y2="660.2" stroke="#333" stroke-width="1.1" />
<text x="129.1" y="664.8000000000001" font-family='"Liberation Serif", serif' font-size="18.8" font-weight="normal" text-anchor="end" >0</text>
<line x1="134" y1="688.5500000000001" x2="138.5" y2="688.5500000000001" stroke="#333" stroke-width="1.1" />
<text x="129.1" y="693.1500000000001" font-family='"Liberation Serif", serif' font-size="18.8" font-weight="normal" text-anchor="end" >-20</text>
<line x1="134" y1="716.9000000000001" x2="138.5" y2="716.9000000000001" stroke="#333" stroke-width="1.1" />
<text x="129.1" y="721.5000000000001" font-family='"Liberation Serif", serif' font-size="18.8" font-weight="normal" text-anchor="end" >-40</text>
<line x1="134" y1="745.25" x2="138.5" y2="745.25" stroke="#333" stroke-width="1.1" />
<text x="129.1" y="749.85" font-family='"Liberation Serif", serif' font-size="18.8" font-weight="normal" text-anchor="end" >-60</text>
<line x1="134" y1="773.6" x2="138.5" y2="773.6" stroke="#333" stroke-width="1.1" />
<text x="129.1" y="778.2" font-family='"Liberation Serif", serif' font-size="18.8" font-weight="normal" text-anchor="end" >-80</text>
<line x1="134" y1="801.95" x2="138.5" y2="801.95" stroke="#333" stroke-width="1.1" />
<text x="129.1" y="806.5500000000001" font-family='"Liberation Serif", serif' font-size="18.8" font-weight="normal" text-anchor="end" >-100</text>
<line x1="134" y1="830.3000000000001" x2="138.5" y2="830.3000000000001" stroke="#333" stroke-width="1.1" />
<line x1="134" y1="858.4" x2="138.5" y2="858.4" stroke="#333" stroke-width="1.1" />
<text transform="translate(83.3,680.7) rotate(-90)" font-family='"Liberation Serif", serif' font-size="18.5" font-weight="normal" text-anchor="middle" letter-spacing="0.55">% change in concentrations of cytokines</text>
<text x="178.6" y="844.6" font-family='"Liberation Serif", serif' font-size="16" font-weight="bold" letter-spacing="-0.7">IFN-γ</text>
<text x="231.5" y="844.6" font-family='"Liberation Serif", serif' font-size="16" font-weight="bold" letter-spacing="-0.7">TNF-α</text>
<text x="288.5" y="844.6" font-family='"Liberation Serif", serif' font-size="16" font-weight="bold" letter-spacing="-0.7">IL-10</text>
<text x="345.4" y="844.6" font-family='"Liberation Serif", serif' font-size="16" font-weight="bold" letter-spacing="-0.7">IL-6</text>
<text x="393" y="844.6" font-family='"Liberation Serif", serif' font-size="16" font-weight="bold" letter-spacing="-0.7">IL-4</text>
<text x="437.7" y="844.6" font-family='"Liberation Serif", serif' font-size="16" font-weight="bold" letter-spacing="-0.7">TGF-β</text>
<path d="M190.5 651.2 L197.9 667.8000000000001 L183.1 667.8000000000001 Z" fill="#fff" stroke="#000" stroke-width="1.3"/>
<path d="M190.5 686.3000000000001 L197.9 702.9000000000001 L183.1 702.9000000000001 Z" fill="#fff" stroke="#000" stroke-width="1.3"/>
<path d="M190.5 707.6 L197.9 724.2 L183.1 724.2 Z" fill="#fff" stroke="#000" stroke-width="1.3"/>
<path d="M190.5 719.1 L197.9 735.7 L183.1 735.7 Z" fill="#fff" stroke="#000" stroke-width="1.3"/>
<path d="M190.5 739.8000000000001 L197.9 756.4000000000001 L183.1 756.4000000000001 Z" fill="#fff" stroke="#000" stroke-width="1.3"/>
<path d="M190.5 760.0 L197.9 776.6 L183.1 776.6 Z" fill="#fff" stroke="#000" stroke-width="1.3"/>
<path d="M190.5 789.1 L197.9 805.7 L183.1 805.7 Z" fill="#fff" stroke="#000" stroke-width="1.3"/>
<path d="M190.5 792.1 L197.9 808.7 L183.1 808.7 Z" fill="#fff" stroke="#000" stroke-width="1.3"/>
<path d="M242.6 652.1 L250.0 668.7 L235.2 668.7 Z" fill="#fff" stroke="#000" stroke-width="1.3"/>
<path d="M242.6 714.1 L250.0 730.7 L235.2 730.7 Z" fill="#fff" stroke="#000" stroke-width="1.3"/>
<path d="M242.6 719.1 L250.0 735.7 L235.2 735.7 Z" fill="#fff" stroke="#000" stroke-width="1.3"/>
<path d="M242.6 737.6 L250.0 754.2 L235.2 754.2 Z" fill="#fff" stroke="#000" stroke-width="1.3"/>
<path d="M242.6 746.3000000000001 L250.0 762.9000000000001 L235.2 762.9000000000001 Z" fill="#fff" stroke="#000" stroke-width="1.3"/>
<path d="M242.6 756.1 L250.0 772.7 L235.2 772.7 Z" fill="#fff" stroke="#000" stroke-width="1.3"/>
<path d="M242.6 789.6 L250.0 806.2 L235.2 806.2 Z" fill="#fff" stroke="#000" stroke-width="1.3"/>
<path d="M242.6 792.1 L250.0 808.7 L235.2 808.7 Z" fill="#fff" stroke="#000" stroke-width="1.3"/>
<path d="M295.4 652.2 L302.79999999999995 668.8000000000001 L288.0 668.8000000000001 Z" fill="#fff" stroke="#000" stroke-width="1.3"/>
<path d="M295.4 663.6 L302.79999999999995 680.2 L288.0 680.2 Z" fill="#fff" stroke="#000" stroke-width="1.3"/>
<path d="M295.4 732.8000000000001 L302.79999999999995 749.4000000000001 L288.0 749.4000000000001 Z" fill="#fff" stroke="#000" stroke-width="1.3"/>
<path d="M295.4 741.1 L302.79999999999995 757.7 L288.0 757.7 Z" fill="#fff" stroke="#000" stroke-width="1.3"/>
<path d="M295.4 763.6 L302.79999999999995 780.2 L288.0 780.2 Z" fill="#fff" stroke="#000" stroke-width="1.3"/>
<path d="M295.4 760.1 L302.79999999999995 776.7 L288.0 776.7 Z" fill="#fff" stroke="#000" stroke-width="1.3"/>
<path d="M295.4 791.1 L302.79999999999995 807.7 L288.0 807.7 Z" fill="#fff" stroke="#000" stroke-width="1.3"/>
<path d="M347.9 652.5 L355.29999999999995 669.1 L340.5 669.1 Z" fill="#fff" stroke="#000" stroke-width="1.3"/>
<path d="M347.9 711.1 L355.29999999999995 727.7 L340.5 727.7 Z" fill="#fff" stroke="#000" stroke-width="1.3"/>
<path d="M347.9 721.6 L355.29999999999995 738.2 L340.5 738.2 Z" fill="#fff" stroke="#000" stroke-width="1.3"/>
<path d="M347.9 737.1 L355.29999999999995 753.7 L340.5 753.7 Z" fill="#fff" stroke="#000" stroke-width="1.3"/>
<path d="M347.9 760.2 L355.29999999999995 776.8000000000001 L340.5 776.8000000000001 Z" fill="#fff" stroke="#000" stroke-width="1.3"/>
<path d="M347.9 778.1 L355.29999999999995 794.7 L340.5 794.7 Z" fill="#fff" stroke="#000" stroke-width="1.3"/>
<path d="M400.1 652.5 L407.5 669.1 L392.70000000000005 669.1 Z" fill="#fff" stroke="#000" stroke-width="1.3"/>
<path d="M400.1 690.5 L407.5 707.1 L392.70000000000005 707.1 Z" fill="#fff" stroke="#000" stroke-width="1.3"/>
<path d="M400.1 724.3000000000001 L407.5 740.9000000000001 L392.70000000000005 740.9000000000001 Z" fill="#fff" stroke="#000" stroke-width="1.3"/>
<path d="M400.1 772.6 L407.5 789.2 L392.70000000000005 789.2 Z" fill="#fff" stroke="#000" stroke-width="1.3"/>
<path d="M400.1 765.6 L407.5 782.2 L392.70000000000005 782.2 Z" fill="#fff" stroke="#000" stroke-width="1.3"/>
<path d="M400.1 761.3000000000001 L407.5 777.9000000000001 L392.70000000000005 777.9000000000001 Z" fill="#fff" stroke="#000" stroke-width="1.3"/>
<path d="M452.1 510.6 L459.5 527.2 L444.70000000000005 527.2 Z" fill="#fff" stroke="#000" stroke-width="2.0"/>
<path d="M452.1 606.4 L459.5 623.0 L444.70000000000005 623.0 Z" fill="#fff" stroke="#000" stroke-width="1.3"/>
<path d="M452.1 598.5 L459.5 615.1 L444.70000000000005 615.1 Z" fill="#fff" stroke="#000" stroke-width="1.3"/>
<path d="M452.1 640.4 L459.5 657.0 L444.70000000000005 657.0 Z" fill="#fff" stroke="#000" stroke-width="1.3"/>
<path d="M452.1 624.1 L459.5 640.7 L444.70000000000005 640.7 Z" fill="#fff" stroke="#000" stroke-width="2.0"/>
<path d="M452.1 652.6 L459.5 669.2 L444.70000000000005 669.2 Z" fill="#fff" stroke="#000" stroke-width="1.3"/>
<ellipse cx="190.5" cy="677.5" rx="5.35" ry="5.85" fill="#a3a3a3" stroke="#000" stroke-width="1.3"/>
<ellipse cx="190.5" cy="744.2" rx="5.35" ry="5.85" fill="#a3a3a3" stroke="#000" stroke-width="1.3"/>
<ellipse cx="190.5" cy="760.9" rx="5.35" ry="5.85" fill="#a3a3a3" stroke="#000" stroke-width="1.3"/>
<ellipse cx="190.5" cy="798.3" rx="5.35" ry="5.85" fill="#a3a3a3" stroke="#000" stroke-width="1.3"/>
<ellipse cx="242.6" cy="665.8" rx="5.35" ry="5.85" fill="#a3a3a3" stroke="#000" stroke-width="1.3"/>
<ellipse cx="242.6" cy="714" rx="5.35" ry="5.85" fill="#a3a3a3" stroke="#000" stroke-width="1.3"/>
<ellipse cx="242.6" cy="736.9" rx="5.35" ry="5.85" fill="#a3a3a3" stroke="#000" stroke-width="1.3"/>
<ellipse cx="242.6" cy="786.2" rx="5.35" ry="5.85" fill="#a3a3a3" stroke="#000" stroke-width="1.3"/>
<ellipse cx="242.6" cy="793.4" rx="5.35" ry="5.85" fill="#a3a3a3" stroke="#000" stroke-width="1.3"/>
<ellipse cx="295.4" cy="660.3" rx="5.35" ry="5.85" fill="#a3a3a3" stroke="#000" stroke-width="1.3"/>
<ellipse cx="295.4" cy="742.5" rx="5.35" ry="5.85" fill="#a3a3a3" stroke="#000" stroke-width="1.3"/>
<ellipse cx="295.4" cy="755.5" rx="5.35" ry="5.85" fill="#a3a3a3" stroke="#000" stroke-width="1.3"/>
<ellipse cx="347.9" cy="660.6" rx="5.35" ry="5.85" fill="#a3a3a3" stroke="#000" stroke-width="1.3"/>
<ellipse cx="347.9" cy="683.5" rx="5.35" ry="5.85" fill="#a3a3a3" stroke="#000" stroke-width="1.3"/>
<ellipse cx="347.9" cy="700.2" rx="5.35" ry="5.85" fill="#a3a3a3" stroke="#000" stroke-width="1.3"/>
<ellipse cx="347.9" cy="752.4" rx="5.35" ry="5.85" fill="#a3a3a3" stroke="#000" stroke-width="1.3"/>
<ellipse cx="347.9" cy="778.2" rx="5.35" ry="5.85" fill="#a3a3a3" stroke="#000" stroke-width="1.3"/>
<ellipse cx="400.1" cy="703.3" rx="5.35" ry="5.85" fill="#a3a3a3" stroke="#000" stroke-width="1.3"/>
<ellipse cx="400.1" cy="709.6" rx="5.35" ry="5.85" fill="#a3a3a3" stroke="#000" stroke-width="1.3"/>
<ellipse cx="400.1" cy="735.3" rx="5.35" ry="5.85" fill="#a3a3a3" stroke="#000" stroke-width="1.3"/>
<ellipse cx="452.1" cy="519.1" rx="5.35" ry="5.85" fill="#a3a3a3" stroke="#000" stroke-width="1.3"/>
<ellipse cx="452.1" cy="534.2" rx="5.35" ry="5.85" fill="#a3a3a3" stroke="#000" stroke-width="1.3"/>
<ellipse cx="452.1" cy="578.4" rx="5.35" ry="5.85" fill="#a3a3a3" stroke="#000" stroke-width="1.3"/>
<ellipse cx="452.1" cy="660.8" rx="5.35" ry="5.85" fill="#a3a3a3" stroke="#000" stroke-width="1.3"/>
<line x1="143" y1="660.2" x2="504.6" y2="660.2" stroke="#000" stroke-width="1.6" />
</svg></body></html>
